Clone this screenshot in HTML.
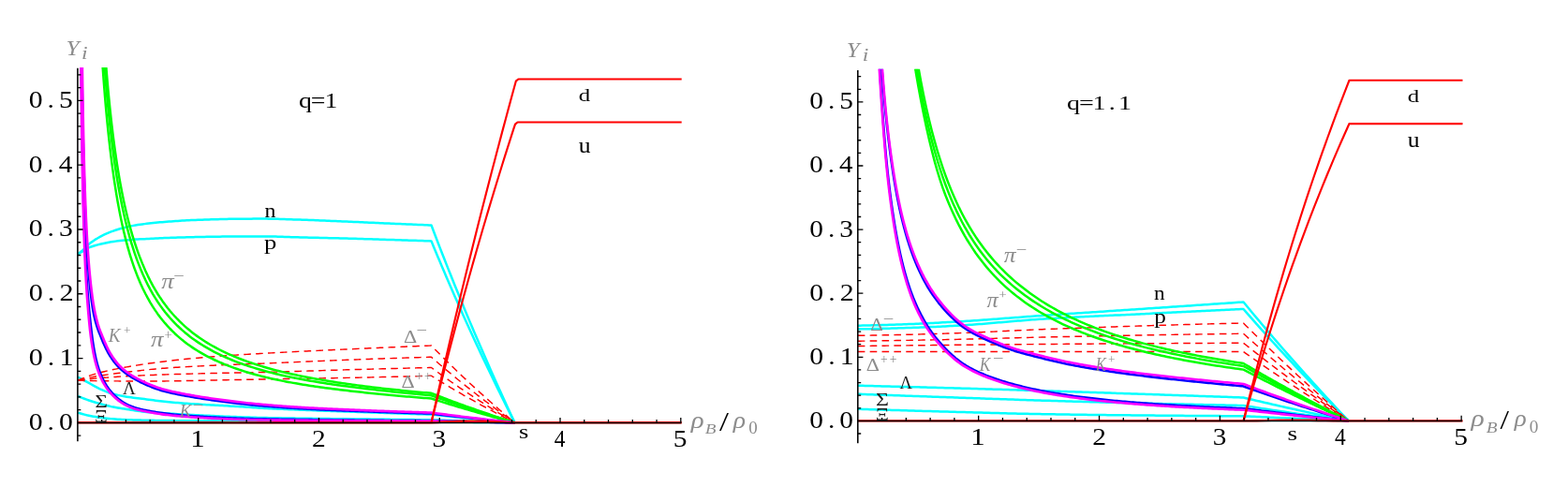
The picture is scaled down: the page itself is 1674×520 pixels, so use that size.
<!DOCTYPE html>
<html><head><meta charset="utf-8"><title>Particle fractions</title>
<style>
html,body{margin:0;padding:0;background:#fff;}
body{width:1674px;height:520px;overflow:hidden;}
svg{display:block;}
</style></head><body>
<svg width="1674" height="520" viewBox="0 0 1674 520">
<rect width="1674" height="520" fill="#fff"/>
<defs><clipPath id="cp0"><rect x="82.4" y="72.1" width="645.3" height="399.2"/></clipPath></defs>
<g clip-path="url(#cp0)" fill="none" stroke-linejoin="round" stroke-linecap="butt">
<path d="M83 271.25 L85.37 269.61 L87.75 267.75 L90.12 265.59 L92.5 263.03 L94.87 260.71 L97.25 258.86 L99.62 257.18 L101.99 255.65 L104.37 254.23 L106.74 252.91 L109.12 251.66 L111.49 250.49 L113.86 249.39 L116.24 248.36 L118.61 247.42 L120.99 246.55 L123.36 245.74 L125.74 244.99 L128.11 244.28 L130.48 243.62 L132.86 243.01 L135.23 242.42 L137.61 241.87 L139.98 241.35 L142.36 240.87 L144.73 240.44 L147.1 240.07 L149.48 239.73 L151.85 239.42 L154.23 239.13 L156.6 238.85 L158.97 238.58 L161.35 238.32 L163.72 238.06 L166.1 237.82 L168.47 237.58 L170.85 237.36 L173.22 237.15 L175.59 236.95 L177.97 236.76 L180.34 236.57 L182.72 236.39 L185.09 236.21 L187.47 236.05 L189.84 235.88 L192.21 235.73 L194.59 235.59 L196.96 235.45 L199.34 235.33 L201.71 235.22 L204.08 235.11 L206.46 235.01 L208.83 234.92 L211.21 234.82 L213.58 234.74 L215.96 234.65 L218.33 234.57 L220.7 234.5 L223.08 234.43 L225.45 234.36 L227.83 234.29 L230.2 234.23 L232.58 234.16 L234.95 234.09 L237.32 234.03 L239.7 233.97 L242.07 233.91 L244.45 233.86 L246.82 233.81 L249.19 233.77 L251.57 233.73 L253.94 233.71 L256.32 233.69 L258.69 233.68 L261.07 233.66 L263.44 233.65 L265.81 233.64 L268.19 233.63 L270.56 233.62 L272.94 233.61 L275.31 233.6 L277.69 233.6 L280.06 233.6 L282.43 233.61 L284.81 233.62 L287.18 233.65 L289.56 233.69 L291.93 233.74 L294.31 233.79 L296.68 233.85 L299.05 233.92 L301.43 233.99 L303.8 234.07 L306.18 234.14 L308.55 234.22 L310.92 234.3 L313.3 234.38 L315.67 234.46 L318.05 234.54 L320.42 234.61 L322.8 234.69 L325.17 234.77 L327.54 234.85 L329.92 234.93 L332.29 235.02 L334.67 235.11 L337.04 235.2 L339.42 235.3 L341.79 235.4 L344.16 235.49 L346.54 235.59 L348.91 235.69 L351.29 235.8 L353.66 235.9 L356.03 236 L358.41 236.1 L360.78 236.21 L363.16 236.31 L365.53 236.41 L367.91 236.51 L370.28 236.61 L372.65 236.71 L375.03 236.81 L377.4 236.92 L379.78 237.02 L382.15 237.12 L384.53 237.23 L386.9 237.33 L389.27 237.44 L391.65 237.54 L394.02 237.65 L396.4 237.76 L398.77 237.86 L401.14 237.97 L403.52 238.08 L405.89 238.18 L408.27 238.29 L410.64 238.39 L413.02 238.5 L415.39 238.6 L417.76 238.7 L420.14 238.81 L422.51 238.91 L424.89 239.01 L427.26 239.11 L429.64 239.21 L432.01 239.31 L434.38 239.41 L436.76 239.51 L439.13 239.61 L441.51 239.71 L443.88 239.81 L446.25 239.91 L448.63 240.01 L451 240.11 L453.38 240.21 L455.75 240.3 L458.13 240.4 L460.5 240.5 L462.76 246.52 L465.05 252.5 L467.33 258.45 L469.61 264.35 L471.89 270.22 L474.17 276.05 L476.45 281.85 L478.74 287.6 L481.02 293.33 L483.3 299.02 L485.58 304.67 L487.86 310.3 L490.15 315.88 L492.43 321.44 L494.71 326.97 L496.99 332.46 L499.27 337.93 L501.55 343.36 L503.84 348.76 L506.12 354.14 L508.4 359.49 L510.68 364.8 L512.96 370.09 L515.24 375.36 L517.53 380.59 L519.81 385.8 L522.09 390.99 L524.37 396.15 L526.65 401.28 L528.93 406.39 L531.22 411.47 L533.5 416.53 L535.78 421.57 L538.06 426.58 L540.34 431.57 L542.62 436.53 L544.91 441.48 L547.19 446.4 L549.47 451.3" stroke="#00ffff" stroke-width="2.5"/>
<path d="M83 271.25 L85.37 269.98 L87.75 268.67 L90.12 267.27 L92.5 265.74 L94.87 264.45 L97.25 263.53 L99.62 262.72 L101.99 262.01 L104.37 261.38 L106.74 260.78 L109.12 260.22 L111.49 259.68 L113.86 259.18 L116.24 258.73 L118.61 258.32 L120.99 257.95 L123.36 257.63 L125.74 257.33 L128.11 257.05 L130.48 256.8 L132.86 256.57 L135.23 256.35 L137.61 256.14 L139.98 255.95 L142.36 255.77 L144.73 255.62 L147.1 255.48 L149.48 255.36 L151.85 255.26 L154.23 255.15 L156.6 255.04 L158.97 254.93 L161.35 254.8 L163.72 254.67 L166.1 254.54 L168.47 254.41 L170.85 254.29 L173.22 254.18 L175.59 254.08 L177.97 253.98 L180.34 253.9 L182.72 253.81 L185.09 253.73 L187.47 253.65 L189.84 253.58 L192.21 253.51 L194.59 253.44 L196.96 253.38 L199.34 253.32 L201.71 253.26 L204.08 253.2 L206.46 253.15 L208.83 253.1 L211.21 253.05 L213.58 253 L215.96 252.95 L218.33 252.91 L220.7 252.86 L223.08 252.82 L225.45 252.78 L227.83 252.74 L230.2 252.71 L232.58 252.67 L234.95 252.63 L237.32 252.58 L239.7 252.55 L242.07 252.51 L244.45 252.48 L246.82 252.45 L249.19 252.43 L251.57 252.41 L253.94 252.4 L256.32 252.4 L258.69 252.4 L261.07 252.4 L263.44 252.4 L265.81 252.4 L268.19 252.4 L270.56 252.4 L272.94 252.4 L275.31 252.4 L277.69 252.4 L280.06 252.4 L282.43 252.41 L284.81 252.43 L287.18 252.46 L289.56 252.5 L291.93 252.55 L294.31 252.61 L296.68 252.68 L299.05 252.75 L301.43 252.82 L303.8 252.9 L306.18 252.98 L308.55 253.06 L310.92 253.14 L313.3 253.21 L315.67 253.28 L318.05 253.35 L320.42 253.41 L322.8 253.47 L325.17 253.52 L327.54 253.58 L329.92 253.64 L332.29 253.69 L334.67 253.75 L337.04 253.8 L339.42 253.86 L341.79 253.91 L344.16 253.97 L346.54 254.02 L348.91 254.08 L351.29 254.13 L353.66 254.19 L356.03 254.25 L358.41 254.3 L360.78 254.36 L363.16 254.42 L365.53 254.48 L367.91 254.54 L370.28 254.61 L372.65 254.67 L375.03 254.74 L377.4 254.8 L379.78 254.87 L382.15 254.94 L384.53 255.01 L386.9 255.08 L389.27 255.15 L391.65 255.22 L394.02 255.29 L396.4 255.37 L398.77 255.44 L401.14 255.51 L403.52 255.59 L405.89 255.66 L408.27 255.73 L410.64 255.81 L413.02 255.88 L415.39 255.96 L417.76 256.03 L420.14 256.1 L422.51 256.18 L424.89 256.25 L427.26 256.33 L429.64 256.4 L432.01 256.48 L434.38 256.55 L436.76 256.63 L439.13 256.7 L441.51 256.78 L443.88 256.86 L446.25 256.93 L448.63 257.01 L451 257.09 L453.38 257.17 L455.75 257.24 L458.13 257.32 L460.5 257.4 L462.76 262.94 L465.05 268.44 L467.33 273.91 L469.61 279.34 L471.89 284.74 L474.17 290.1 L476.45 295.43 L478.74 300.73 L481.02 305.99 L483.3 311.23 L485.58 316.43 L487.86 321.6 L490.15 326.74 L492.43 331.85 L494.71 336.94 L496.99 341.99 L499.27 347.02 L501.55 352.01 L503.84 356.98 L506.12 361.93 L508.4 366.85 L510.68 371.74 L512.96 376.6 L515.24 381.45 L517.53 386.26 L519.81 391.05 L522.09 395.82 L524.37 400.57 L526.65 405.29 L528.93 409.99 L531.22 414.66 L533.5 419.32 L535.78 423.95 L538.06 428.56 L540.34 433.15 L542.62 437.72 L544.91 442.26 L547.19 446.79 L549.47 451.3" stroke="#00ffff" stroke-width="2.5"/>
<path d="M83 402.5 L85.37 403.79 L87.75 405.08 L90.12 406.37 L92.5 407.65 L94.87 408.93 L97.25 410.24 L99.62 411.58 L101.99 412.91 L104.37 414.19 L106.74 415.36 L109.12 416.41 L111.49 417.41 L113.86 418.35 L116.24 419.21 L118.61 419.99 L120.99 420.67 L123.36 421.29 L125.74 421.85 L128.11 422.36 L130.48 422.83 L132.86 423.26 L135.23 423.65 L137.61 424.01 L139.98 424.34 L142.36 424.65 L144.73 424.96 L147.1 425.27 L149.48 425.55 L151.85 425.83 L154.23 426.1 L156.6 426.39 L158.97 426.69 L161.35 427.01 L163.72 427.35 L166.1 427.68 L168.47 428.01 L170.85 428.32 L173.22 428.61 L175.59 428.86 L177.97 429.09 L180.34 429.31 L182.72 429.52 L185.09 429.73 L187.47 429.92 L189.84 430.11 L192.21 430.29 L194.59 430.47 L196.96 430.64 L199.34 430.81 L201.71 430.97 L204.08 431.13 L206.46 431.29 L208.83 431.44 L211.21 431.6 L213.58 431.75 L215.96 431.89 L218.33 432.03 L220.7 432.17 L223.08 432.3 L225.45 432.43 L227.83 432.56 L230.2 432.69 L232.58 432.82 L234.95 432.95 L237.32 433.09 L239.7 433.23 L242.07 433.37 L244.45 433.51 L246.82 433.64 L249.19 433.78 L251.57 433.93 L253.94 434.07 L256.32 434.21 L258.69 434.36 L261.07 434.51 L263.44 434.66 L265.81 434.83 L268.19 435 L270.56 435.17 L272.94 435.35 L275.31 435.51 L277.69 435.67 L280.06 435.8 L282.43 435.93 L284.81 436.05 L287.18 436.18 L289.56 436.29 L291.93 436.41 L294.31 436.53 L296.68 436.64 L299.05 436.75 L301.43 436.86 L303.8 436.96 L306.18 437.07 L308.55 437.17 L310.92 437.27 L313.3 437.37 L315.67 437.47 L318.05 437.56 L320.42 437.66 L322.8 437.75 L325.17 437.85 L327.54 437.94 L329.92 438.03 L332.29 438.12 L334.67 438.2 L337.04 438.29 L339.42 438.38 L341.79 438.46 L344.16 438.55 L346.54 438.63 L348.91 438.72 L351.29 438.8 L353.66 438.89 L356.03 438.97 L358.41 439.05 L360.78 439.14 L363.16 439.22 L365.53 439.3 L367.91 439.39 L370.28 439.47 L372.65 439.55 L375.03 439.64 L377.4 439.72 L379.78 439.81 L382.15 439.9 L384.53 439.98 L386.9 440.07 L389.27 440.16 L391.65 440.24 L394.02 440.33 L396.4 440.42 L398.77 440.5 L401.14 440.59 L403.52 440.67 L405.89 440.76 L408.27 440.84 L410.64 440.92 L413.02 441.01 L415.39 441.09 L417.76 441.17 L420.14 441.25 L422.51 441.34 L424.89 441.42 L427.26 441.5 L429.64 441.58 L432.01 441.66 L434.38 441.74 L436.76 441.82 L439.13 441.9 L441.51 441.98 L443.88 442.06 L446.25 442.14 L448.63 442.21 L451 442.29 L453.38 442.37 L455.75 442.45 L458.13 442.52 L460.5 442.6 L462.76 442.85 L465.05 443.1 L467.33 443.34 L469.61 443.58 L471.89 443.83 L474.17 444.07 L476.45 444.31 L478.74 444.54 L481.02 444.78 L483.3 445.02 L485.58 445.25 L487.86 445.48 L490.15 445.71 L492.43 445.94 L494.71 446.17 L496.99 446.4 L499.27 446.62 L501.55 446.85 L503.84 447.07 L506.12 447.29 L508.4 447.51 L510.68 447.73 L512.96 447.95 L515.24 448.17 L517.53 448.38 L519.81 448.6 L522.09 448.81 L524.37 449.02 L526.65 449.24 L528.93 449.45 L531.22 449.66 L533.5 449.86 L535.78 450.07 L538.06 450.28 L540.34 450.49 L542.62 450.69 L544.91 450.89 L547.19 451.1 L549.47 451.3" stroke="#00ffff" stroke-width="2.5"/>
<path d="M83 423 L85.37 423.96 L87.75 424.89 L90.12 425.79 L92.5 426.64 L94.87 427.46 L97.25 428.23 L99.62 428.98 L101.99 429.69 L104.37 430.38 L106.74 431.04 L109.12 431.69 L111.49 432.34 L113.86 432.97 L116.24 433.56 L118.61 434.11 L120.99 434.59 L123.36 435.03 L125.74 435.43 L128.11 435.8 L130.48 436.18 L132.86 436.56 L135.23 436.95 L137.61 437.35 L139.98 437.74 L142.36 438.12 L144.73 438.46 L147.1 438.79 L149.48 439.1 L151.85 439.4 L154.23 439.67 L156.6 439.92 L158.97 440.13 L161.35 440.31 L163.72 440.49 L166.1 440.64 L168.47 440.8 L170.85 440.94 L173.22 441.09 L175.59 441.24 L177.97 441.39 L180.34 441.54 L182.72 441.69 L185.09 441.84 L187.47 441.99 L189.84 442.13 L192.21 442.27 L194.59 442.42 L196.96 442.55 L199.34 442.69 L201.71 442.82 L204.08 442.95 L206.46 443.07 L208.83 443.19 L211.21 443.31 L213.58 443.42 L215.96 443.54 L218.33 443.65 L220.7 443.76 L223.08 443.87 L225.45 443.99 L227.83 444.1 L230.2 444.21 L232.58 444.31 L234.95 444.42 L237.32 444.53 L239.7 444.63 L242.07 444.73 L244.45 444.83 L246.82 444.93 L249.19 445.03 L251.57 445.12 L253.94 445.21 L256.32 445.3 L258.69 445.38 L261.07 445.47 L263.44 445.55 L265.81 445.62 L268.19 445.69 L270.56 445.76 L272.94 445.83 L275.31 445.89 L277.69 445.95 L280.06 446 L282.43 446.05 L284.81 446.1 L287.18 446.15 L289.56 446.2 L291.93 446.24 L294.31 446.29 L296.68 446.33 L299.05 446.37 L301.43 446.41 L303.8 446.45 L306.18 446.49 L308.55 446.53 L310.92 446.57 L313.3 446.61 L315.67 446.64 L318.05 446.68 L320.42 446.71 L322.8 446.74 L325.17 446.78 L327.54 446.81 L329.92 446.84 L332.29 446.87 L334.67 446.9 L337.04 446.93 L339.42 446.96 L341.79 446.99 L344.16 447.02 L346.54 447.05 L348.91 447.08 L351.29 447.11 L353.66 447.13 L356.03 447.16 L358.41 447.19 L360.78 447.22 L363.16 447.24 L365.53 447.27 L367.91 447.3 L370.28 447.33 L372.65 447.35 L375.03 447.38 L377.4 447.41 L379.78 447.44 L382.15 447.47 L384.53 447.49 L386.9 447.52 L389.27 447.55 L391.65 447.58 L394.02 447.61 L396.4 447.64 L398.77 447.66 L401.14 447.69 L403.52 447.72 L405.89 447.74 L408.27 447.77 L410.64 447.8 L413.02 447.82 L415.39 447.85 L417.76 447.88 L420.14 447.9 L422.51 447.93 L424.89 447.95 L427.26 447.98 L429.64 448 L432.01 448.03 L434.38 448.05 L436.76 448.07 L439.13 448.1 L441.51 448.12 L443.88 448.14 L446.25 448.17 L448.63 448.19 L451 448.21 L453.38 448.23 L455.75 448.26 L458.13 448.28 L460.5 448.3 L462.76 448.39 L465.05 448.47 L467.33 448.56 L469.61 448.64 L471.89 448.72 L474.17 448.81 L476.45 448.89 L478.74 448.97 L481.02 449.05 L483.3 449.13 L485.58 449.21 L487.86 449.29 L490.15 449.37 L492.43 449.45 L494.71 449.53 L496.99 449.61 L499.27 449.69 L501.55 449.76 L503.84 449.84 L506.12 449.92 L508.4 449.99 L510.68 450.07 L512.96 450.14 L515.24 450.22 L517.53 450.29 L519.81 450.37 L522.09 450.44 L524.37 450.52 L526.65 450.59 L528.93 450.66 L531.22 450.73 L533.5 450.81 L535.78 450.88 L538.06 450.95 L540.34 451.02 L542.62 451.09 L544.91 451.16 L547.19 451.23 L549.47 451.3" stroke="#00ffff" stroke-width="2.5"/>
<path d="M83 440.6 L85.37 441.31 L87.75 441.99 L90.12 442.62 L92.5 443.2 L94.87 443.72 L97.25 444.2 L99.62 444.65 L101.99 445.07 L104.37 445.45 L106.74 445.8 L109.12 446.11 L111.49 446.4 L113.86 446.66 L116.24 446.91 L118.61 447.13 L120.99 447.33 L123.36 447.52 L125.74 447.7 L128.11 447.86 L130.48 448 L132.86 448.12 L135.23 448.21 L137.61 448.3 L139.98 448.37 L142.36 448.44 L144.73 448.49 L147.1 448.55 L149.48 448.6 L151.85 448.65 L154.23 448.69 L156.6 448.74 L158.97 448.78 L161.35 448.82 L163.72 448.85 L166.1 448.89 L168.47 448.92 L170.85 448.95 L173.22 448.98 L175.59 449.01 L177.97 449.03 L180.34 449.06 L182.72 449.08 L185.09 449.11 L187.47 449.13 L189.84 449.16 L192.21 449.18 L194.59 449.2 L196.96 449.23 L199.34 449.25 L201.71 449.27 L204.08 449.29 L206.46 449.31 L208.83 449.33 L211.21 449.36 L213.58 449.38 L215.96 449.39 L218.33 449.41 L220.7 449.43 L223.08 449.45 L225.45 449.47 L227.83 449.49 L230.2 449.5 L232.58 449.52 L234.95 449.54 L237.32 449.55 L239.7 449.57 L242.07 449.59 L244.45 449.6 L246.82 449.62 L249.19 449.63 L251.57 449.65 L253.94 449.66 L256.32 449.67 L258.69 449.69 L261.07 449.7 L263.44 449.71 L265.81 449.73 L268.19 449.74 L270.56 449.75 L272.94 449.77 L275.31 449.78 L277.69 449.79 L280.06 449.8 L282.43 449.81 L284.81 449.82 L287.18 449.83 L289.56 449.85 L291.93 449.86 L294.31 449.87 L296.68 449.88 L299.05 449.89 L301.43 449.9 L303.8 449.91 L306.18 449.92 L308.55 449.93 L310.92 449.95 L313.3 449.96 L315.67 449.97 L318.05 449.98 L320.42 449.99 L322.8 450 L325.17 450.01 L327.54 450.02 L329.92 450.03 L332.29 450.04 L334.67 450.05 L337.04 450.06 L339.42 450.07 L341.79 450.08 L344.16 450.09 L346.54 450.1 L348.91 450.11 L351.29 450.12 L353.66 450.13 L356.03 450.14 L358.41 450.15 L360.78 450.16 L363.16 450.17 L365.53 450.18 L367.91 450.19 L370.28 450.19 L372.65 450.2 L375.03 450.21 L377.4 450.22 L379.78 450.23 L382.15 450.24 L384.53 450.24 L386.9 450.25 L389.27 450.26 L391.65 450.27 L394.02 450.27 L396.4 450.28 L398.77 450.29 L401.14 450.29 L403.52 450.3 L405.89 450.31 L408.27 450.31 L410.64 450.32 L413.02 450.33 L415.39 450.33 L417.76 450.34 L420.14 450.34 L422.51 450.35 L424.89 450.35 L427.26 450.36 L429.64 450.36 L432.01 450.37 L434.38 450.37 L436.76 450.37 L439.13 450.38 L441.51 450.38 L443.88 450.38 L446.25 450.39 L448.63 450.39 L451 450.39 L453.38 450.39 L455.75 450.4 L458.13 450.4 L460.5 450.4 L462.76 450.43 L465.05 450.45 L467.33 450.48 L469.61 450.5 L471.89 450.53 L474.17 450.55 L476.45 450.58 L478.74 450.6 L481.02 450.63 L483.3 450.65 L485.58 450.67 L487.86 450.7 L490.15 450.72 L492.43 450.75 L494.71 450.77 L496.99 450.79 L499.27 450.82 L501.55 450.84 L503.84 450.86 L506.12 450.89 L508.4 450.91 L510.68 450.93 L512.96 450.95 L515.24 450.98 L517.53 451 L519.81 451.02 L522.09 451.04 L524.37 451.06 L526.65 451.09 L528.93 451.11 L531.22 451.13 L533.5 451.15 L535.78 451.17 L538.06 451.19 L540.34 451.22 L542.62 451.24 L544.91 451.26 L547.19 451.28 L549.47 451.3" stroke="#00ffff" stroke-width="2.5"/>
<path d="M83 406.25 L85.37 405.22 L87.75 404.22 L90.12 403.25 L92.5 402.33 L94.87 401.45 L97.25 400.65 L99.62 399.92 L101.99 399.23 L104.37 398.56 L106.74 397.93 L109.12 397.31 L111.49 396.73 L113.86 396.16 L116.24 395.61 L118.61 395.09 L120.99 394.58 L123.36 394.09 L125.74 393.62 L128.11 393.16 L130.48 392.71 L132.86 392.27 L135.23 391.85 L137.61 391.43 L139.98 391.03 L142.36 390.63 L144.73 390.24 L147.1 389.86 L149.48 389.49 L151.85 389.13 L154.23 388.77 L156.6 388.43 L158.97 388.09 L161.35 387.76 L163.72 387.44 L166.1 387.12 L168.47 386.81 L170.85 386.51 L173.22 386.22 L175.59 385.93 L177.97 385.65 L180.34 385.37 L182.72 385.09 L185.09 384.82 L187.47 384.56 L189.84 384.3 L192.21 384.04 L194.59 383.79 L196.96 383.55 L199.34 383.31 L201.71 383.07 L204.08 382.84 L206.46 382.61 L208.83 382.39 L211.21 382.17 L213.58 381.96 L215.96 381.75 L218.33 381.55 L220.7 381.35 L223.08 381.15 L225.45 380.96 L227.83 380.78 L230.2 380.6 L232.58 380.42 L234.95 380.24 L237.32 380.07 L239.7 379.9 L242.07 379.74 L244.45 379.58 L246.82 379.42 L249.19 379.26 L251.57 379.11 L253.94 378.95 L256.32 378.8 L258.69 378.66 L261.07 378.51 L263.44 378.37 L265.81 378.22 L268.19 378.08 L270.56 377.94 L272.94 377.81 L275.31 377.67 L277.69 377.53 L280.06 377.4 L282.43 377.26 L284.81 377.13 L287.18 377 L289.56 376.87 L291.93 376.74 L294.31 376.61 L296.68 376.48 L299.05 376.36 L301.43 376.23 L303.8 376.11 L306.18 375.98 L308.55 375.86 L310.92 375.74 L313.3 375.62 L315.67 375.5 L318.05 375.38 L320.42 375.26 L322.8 375.15 L325.17 375.03 L327.54 374.92 L329.92 374.8 L332.29 374.69 L334.67 374.57 L337.04 374.46 L339.42 374.35 L341.79 374.24 L344.16 374.13 L346.54 374.01 L348.91 373.9 L351.29 373.79 L353.66 373.68 L356.03 373.57 L358.41 373.46 L360.78 373.36 L363.16 373.25 L365.53 373.14 L367.91 373.03 L370.28 372.92 L372.65 372.81 L375.03 372.7 L377.4 372.6 L379.78 372.49 L382.15 372.38 L384.53 372.27 L386.9 372.16 L389.27 372.06 L391.65 371.95 L394.02 371.84 L396.4 371.73 L398.77 371.63 L401.14 371.52 L403.52 371.42 L405.89 371.31 L408.27 371.21 L410.64 371.1 L413.02 371 L415.39 370.89 L417.76 370.79 L420.14 370.69 L422.51 370.59 L424.89 370.48 L427.26 370.38 L429.64 370.28 L432.01 370.18 L434.38 370.08 L436.76 369.98 L439.13 369.88 L441.51 369.78 L443.88 369.68 L446.25 369.58 L448.63 369.49 L451 369.39 L453.38 369.29 L455.75 369.19 L458.13 369.1 L460.5 369 L462.76 371.35 L465.05 373.69 L467.33 376.01 L469.61 378.31 L471.89 380.6 L474.17 382.88 L476.45 385.14 L478.74 387.39 L481.02 389.63 L483.3 391.85 L485.58 394.05 L487.86 396.25 L490.15 398.43 L492.43 400.6 L494.71 402.76 L496.99 404.9 L499.27 407.04 L501.55 409.16 L503.84 411.27 L506.12 413.37 L508.4 415.45 L510.68 417.53 L512.96 419.6 L515.24 421.65 L517.53 423.7 L519.81 425.73 L522.09 427.75 L524.37 429.77 L526.65 431.77 L528.93 433.77 L531.22 435.75 L533.5 437.73 L535.78 439.69 L538.06 441.65 L540.34 443.6 L542.62 445.53 L544.91 447.47 L547.19 449.39 L549.47 451.3" stroke="#ff0000" stroke-width="1.45" stroke-dasharray="7.6 5.27"/>
<path d="M83 406.25 L85.37 405.63 L87.75 405.02 L90.12 404.43 L92.5 403.86 L94.87 403.33 L97.25 402.84 L99.62 402.39 L101.99 401.97 L104.37 401.56 L106.74 401.18 L109.12 400.81 L111.49 400.45 L113.86 400.11 L116.24 399.78 L118.61 399.45 L120.99 399.14 L123.36 398.83 L125.74 398.53 L128.11 398.24 L130.48 397.94 L132.86 397.65 L135.23 397.35 L137.61 397.06 L139.98 396.78 L142.36 396.49 L144.73 396.21 L147.1 395.94 L149.48 395.66 L151.85 395.4 L154.23 395.14 L156.6 394.88 L158.97 394.64 L161.35 394.4 L163.72 394.17 L166.1 393.95 L168.47 393.73 L170.85 393.53 L173.22 393.34 L175.59 393.16 L177.97 392.98 L180.34 392.81 L182.72 392.65 L185.09 392.48 L187.47 392.33 L189.84 392.18 L192.21 392.03 L194.59 391.89 L196.96 391.75 L199.34 391.61 L201.71 391.48 L204.08 391.35 L206.46 391.22 L208.83 391.1 L211.21 390.98 L213.58 390.86 L215.96 390.74 L218.33 390.62 L220.7 390.51 L223.08 390.39 L225.45 390.28 L227.83 390.17 L230.2 390.06 L232.58 389.96 L234.95 389.85 L237.32 389.75 L239.7 389.65 L242.07 389.56 L244.45 389.46 L246.82 389.37 L249.19 389.28 L251.57 389.19 L253.94 389.1 L256.32 389.01 L258.69 388.92 L261.07 388.83 L263.44 388.74 L265.81 388.65 L268.19 388.56 L270.56 388.47 L272.94 388.38 L275.31 388.29 L277.69 388.19 L280.06 388.1 L282.43 388 L284.81 387.9 L287.18 387.81 L289.56 387.71 L291.93 387.61 L294.31 387.51 L296.68 387.41 L299.05 387.31 L301.43 387.21 L303.8 387.11 L306.18 387 L308.55 386.9 L310.92 386.8 L313.3 386.7 L315.67 386.6 L318.05 386.49 L320.42 386.39 L322.8 386.29 L325.17 386.19 L327.54 386.08 L329.92 385.98 L332.29 385.88 L334.67 385.78 L337.04 385.68 L339.42 385.58 L341.79 385.48 L344.16 385.38 L346.54 385.28 L348.91 385.18 L351.29 385.08 L353.66 384.98 L356.03 384.88 L358.41 384.78 L360.78 384.69 L363.16 384.59 L365.53 384.5 L367.91 384.4 L370.28 384.31 L372.65 384.22 L375.03 384.12 L377.4 384.03 L379.78 383.94 L382.15 383.86 L384.53 383.77 L386.9 383.68 L389.27 383.59 L391.65 383.51 L394.02 383.42 L396.4 383.34 L398.77 383.25 L401.14 383.17 L403.52 383.09 L405.89 383.01 L408.27 382.92 L410.64 382.84 L413.02 382.76 L415.39 382.68 L417.76 382.6 L420.14 382.52 L422.51 382.44 L424.89 382.36 L427.26 382.29 L429.64 382.21 L432.01 382.13 L434.38 382.06 L436.76 381.98 L439.13 381.9 L441.51 381.83 L443.88 381.76 L446.25 381.68 L448.63 381.61 L451 381.54 L453.38 381.46 L455.75 381.39 L458.13 381.32 L460.5 381.25 L462.76 383.25 L465.05 385.24 L467.33 387.21 L469.61 389.18 L471.89 391.13 L474.17 393.06 L476.45 394.99 L478.74 396.9 L481.02 398.81 L483.3 400.7 L485.58 402.58 L487.86 404.44 L490.15 406.3 L492.43 408.15 L494.71 409.98 L496.99 411.81 L499.27 413.63 L501.55 415.43 L503.84 417.23 L506.12 419.01 L508.4 420.79 L510.68 422.56 L512.96 424.31 L515.24 426.06 L517.53 427.8 L519.81 429.54 L522.09 431.26 L524.37 432.97 L526.65 434.68 L528.93 436.38 L531.22 438.06 L533.5 439.75 L535.78 441.42 L538.06 443.08 L540.34 444.74 L542.62 446.39 L544.91 448.04 L547.19 449.67 L549.47 451.3" stroke="#ff0000" stroke-width="1.45" stroke-dasharray="7.6 5.27"/>
<path d="M83 406.25 L85.37 405.95 L87.75 405.65 L90.12 405.36 L92.5 405.08 L94.87 404.82 L97.25 404.57 L99.62 404.34 L101.99 404.12 L104.37 403.91 L106.74 403.7 L109.12 403.49 L111.49 403.3 L113.86 403.11 L116.24 402.92 L118.61 402.74 L120.99 402.57 L123.36 402.41 L125.74 402.26 L128.11 402.11 L130.48 401.97 L132.86 401.84 L135.23 401.71 L137.61 401.58 L139.98 401.46 L142.36 401.34 L144.73 401.23 L147.1 401.11 L149.48 401.01 L151.85 400.9 L154.23 400.8 L156.6 400.7 L158.97 400.6 L161.35 400.5 L163.72 400.41 L166.1 400.32 L168.47 400.23 L170.85 400.15 L173.22 400.06 L175.59 399.98 L177.97 399.9 L180.34 399.82 L182.72 399.74 L185.09 399.67 L187.47 399.59 L189.84 399.52 L192.21 399.45 L194.59 399.38 L196.96 399.32 L199.34 399.25 L201.71 399.18 L204.08 399.12 L206.46 399.06 L208.83 399 L211.21 398.93 L213.58 398.88 L215.96 398.82 L218.33 398.76 L220.7 398.7 L223.08 398.65 L225.45 398.59 L227.83 398.54 L230.2 398.48 L232.58 398.43 L234.95 398.38 L237.32 398.34 L239.7 398.29 L242.07 398.24 L244.45 398.2 L246.82 398.15 L249.19 398.11 L251.57 398.07 L253.94 398.02 L256.32 397.98 L258.69 397.94 L261.07 397.89 L263.44 397.85 L265.81 397.8 L268.19 397.75 L270.56 397.71 L272.94 397.66 L275.31 397.61 L277.69 397.55 L280.06 397.5 L282.43 397.44 L284.81 397.38 L287.18 397.33 L289.56 397.26 L291.93 397.2 L294.31 397.14 L296.68 397.07 L299.05 397.01 L301.43 396.94 L303.8 396.87 L306.18 396.81 L308.55 396.74 L310.92 396.67 L313.3 396.59 L315.67 396.52 L318.05 396.45 L320.42 396.38 L322.8 396.3 L325.17 396.23 L327.54 396.15 L329.92 396.08 L332.29 396 L334.67 395.93 L337.04 395.85 L339.42 395.78 L341.79 395.7 L344.16 395.63 L346.54 395.55 L348.91 395.48 L351.29 395.4 L353.66 395.33 L356.03 395.25 L358.41 395.18 L360.78 395.11 L363.16 395.03 L365.53 394.96 L367.91 394.89 L370.28 394.82 L372.65 394.75 L375.03 394.68 L377.4 394.61 L379.78 394.54 L382.15 394.48 L384.53 394.41 L386.9 394.35 L389.27 394.28 L391.65 394.22 L394.02 394.16 L396.4 394.1 L398.77 394.03 L401.14 393.97 L403.52 393.91 L405.89 393.85 L408.27 393.78 L410.64 393.72 L413.02 393.66 L415.39 393.6 L417.76 393.54 L420.14 393.48 L422.51 393.42 L424.89 393.36 L427.26 393.3 L429.64 393.24 L432.01 393.18 L434.38 393.13 L436.76 393.07 L439.13 393.01 L441.51 392.95 L443.88 392.89 L446.25 392.84 L448.63 392.78 L451 392.72 L453.38 392.67 L455.75 392.61 L458.13 392.56 L460.5 392.5 L462.76 394.18 L465.05 395.85 L467.33 397.51 L469.61 399.15 L471.89 400.79 L474.17 402.42 L476.45 404.03 L478.74 405.64 L481.02 407.24 L483.3 408.82 L485.58 410.4 L487.86 411.97 L490.15 413.53 L492.43 415.08 L494.71 416.62 L496.99 418.15 L499.27 419.68 L501.55 421.19 L503.84 422.7 L506.12 424.2 L508.4 425.69 L510.68 427.17 L512.96 428.65 L515.24 430.12 L517.53 431.58 L519.81 433.03 L522.09 434.48 L524.37 435.92 L526.65 437.35 L528.93 438.77 L531.22 440.19 L533.5 441.6 L535.78 443.01 L538.06 444.4 L540.34 445.8 L542.62 447.18 L544.91 448.56 L547.19 449.93 L549.47 451.3" stroke="#ff0000" stroke-width="1.45" stroke-dasharray="7.6 5.27"/>
<path d="M83 406.25 L85.37 406.31 L87.75 406.37 L90.12 406.43 L92.5 406.48 L94.87 406.53 L97.25 406.57 L99.62 406.61 L101.99 406.64 L104.37 406.68 L106.74 406.71 L109.12 406.74 L111.49 406.77 L113.86 406.8 L116.24 406.82 L118.61 406.85 L120.99 406.86 L123.36 406.88 L125.74 406.89 L128.11 406.9 L130.48 406.9 L132.86 406.9 L135.23 406.9 L137.61 406.9 L139.98 406.9 L142.36 406.9 L144.73 406.9 L147.1 406.9 L149.48 406.9 L151.85 406.9 L154.23 406.9 L156.6 406.9 L158.97 406.9 L161.35 406.9 L163.72 406.9 L166.1 406.9 L168.47 406.9 L170.85 406.9 L173.22 406.9 L175.59 406.9 L177.97 406.89 L180.34 406.88 L182.72 406.86 L185.09 406.83 L187.47 406.8 L189.84 406.77 L192.21 406.72 L194.59 406.68 L196.96 406.63 L199.34 406.58 L201.71 406.52 L204.08 406.47 L206.46 406.41 L208.83 406.36 L211.21 406.3 L213.58 406.24 L215.96 406.19 L218.33 406.13 L220.7 406.08 L223.08 406.04 L225.45 405.99 L227.83 405.95 L230.2 405.91 L232.58 405.86 L234.95 405.82 L237.32 405.78 L239.7 405.73 L242.07 405.69 L244.45 405.65 L246.82 405.6 L249.19 405.56 L251.57 405.52 L253.94 405.47 L256.32 405.43 L258.69 405.39 L261.07 405.34 L263.44 405.3 L265.81 405.26 L268.19 405.21 L270.56 405.17 L272.94 405.13 L275.31 405.09 L277.69 405.04 L280.06 405 L282.43 404.96 L284.81 404.91 L287.18 404.87 L289.56 404.83 L291.93 404.79 L294.31 404.75 L296.68 404.7 L299.05 404.66 L301.43 404.62 L303.8 404.58 L306.18 404.54 L308.55 404.5 L310.92 404.46 L313.3 404.42 L315.67 404.38 L318.05 404.34 L320.42 404.3 L322.8 404.25 L325.17 404.21 L327.54 404.17 L329.92 404.13 L332.29 404.09 L334.67 404.05 L337.04 404.01 L339.42 403.97 L341.79 403.92 L344.16 403.88 L346.54 403.84 L348.91 403.8 L351.29 403.75 L353.66 403.71 L356.03 403.67 L358.41 403.62 L360.78 403.58 L363.16 403.53 L365.53 403.49 L367.91 403.44 L370.28 403.4 L372.65 403.35 L375.03 403.3 L377.4 403.26 L379.78 403.21 L382.15 403.16 L384.53 403.11 L386.9 403.06 L389.27 403.01 L391.65 402.96 L394.02 402.91 L396.4 402.85 L398.77 402.8 L401.14 402.75 L403.52 402.69 L405.89 402.64 L408.27 402.58 L410.64 402.53 L413.02 402.47 L415.39 402.41 L417.76 402.36 L420.14 402.3 L422.51 402.24 L424.89 402.18 L427.26 402.12 L429.64 402.06 L432.01 402 L434.38 401.94 L436.76 401.88 L439.13 401.82 L441.51 401.76 L443.88 401.69 L446.25 401.63 L448.63 401.57 L451 401.51 L453.38 401.44 L455.75 401.38 L458.13 401.31 L460.5 401.25 L462.76 402.68 L465.05 404.1 L467.33 405.51 L469.61 406.91 L471.89 408.31 L474.17 409.69 L476.45 411.07 L478.74 412.43 L481.02 413.79 L483.3 415.14 L485.58 416.49 L487.86 417.82 L490.15 419.15 L492.43 420.47 L494.71 421.78 L496.99 423.08 L499.27 424.38 L501.55 425.67 L503.84 426.96 L506.12 428.23 L508.4 429.5 L510.68 430.76 L512.96 432.02 L515.24 433.27 L517.53 434.51 L519.81 435.75 L522.09 436.98 L524.37 438.2 L526.65 439.42 L528.93 440.64 L531.22 441.84 L533.5 443.04 L535.78 444.24 L538.06 445.43 L540.34 446.61 L542.62 447.79 L544.91 448.97 L547.19 450.14 L549.47 451.3" stroke="#ff0000" stroke-width="1.45" stroke-dasharray="7.6 5.27"/>
<path d="M110.17 28.03 L110.55 33.78 L110.93 39.37 L111.31 44.81 L111.69 50.1 L112.06 55.26 L112.44 60.29 L112.82 65.19 L113.2 69.97 L113.58 74.62 L113.96 79.17 L114.34 83.6 L114.72 87.93 L115.09 92.15 L115.47 96.28 L115.85 100.31 L116.23 104.25 L116.61 108.1 L116.99 111.86 L117.37 115.54 L117.75 119.14 L118.13 122.66 L118.5 126.11 L118.88 129.48 L119.26 132.78 L119.64 136.01 L120.02 139.18 L120.4 142.28 L120.78 145.32 L121.16 148.3 L121.53 151.22 L121.91 154.09 L122.29 156.89 L122.67 159.65 L123.05 162.35 L123.43 165 L123.81 167.6 L124.19 170.16 L124.56 172.67 L124.94 175.13 L125.32 177.55 L125.7 179.92 L126.08 182.25 L126.46 184.55 L126.84 186.8 L127.22 189.01 L127.59 191.19 L127.97 193.33 L128.35 195.44 L128.73 197.5 L129.11 199.54 L129.49 201.54 L129.87 203.51 L130.25 205.45 L130.62 207.36 L131 209.24 L131.38 211.09 L131.76 212.91 L132.14 214.7 L132.52 216.47 L132.9 218.21 L133.28 219.92 L133.65 221.61 L134.03 223.27 L134.41 224.91 L134.79 226.52 L135.17 228.11 L135.55 229.68 L135.93 231.23 L136.31 232.75 L136.68 234.25 L137.06 235.74 L137.44 237.2 L137.82 238.64 L138.2 240.07 L138.58 241.47 L138.96 242.86 L139.34 244.22 L139.71 245.57 L140.09 246.9 L140.47 248.22 L140.85 249.52 L141.23 250.8 L141.61 252.06 L141.99 253.31 L142.37 254.54 L142.74 255.76 L143.12 256.97 L143.5 258.16 L143.88 259.33 L144.26 260.49 L144.64 261.64 L145.02 262.77 L145.4 263.89 L145.77 265 L146.15 266.09 L146.53 267.17 L146.91 268.24 L147.29 269.3 L149.92 276.33 L152.55 282.86 L155.19 288.94 L157.82 294.59 L160.45 299.86 L163.08 304.79 L165.71 309.4 L168.34 313.74 L170.98 317.81 L173.61 321.65 L176.24 325.28 L178.87 328.71 L181.5 331.95 L184.14 335.03 L186.77 337.96 L189.4 340.74 L192.03 343.38 L194.66 345.91 L197.3 348.31 L199.93 350.61 L202.56 352.81 L205.19 354.92 L207.82 356.93 L210.45 358.87 L213.09 360.72 L215.72 362.51 L218.35 364.22 L220.98 365.87 L223.61 367.46 L226.25 368.99 L228.88 370.46 L231.51 371.88 L234.14 373.26 L236.77 374.58 L239.41 375.86 L242.04 377.1 L244.67 378.3 L247.3 379.46 L249.93 380.58 L252.56 381.67 L255.2 382.73 L257.83 383.75 L260.46 384.74 L263.09 385.7 L265.72 386.64 L268.36 387.55 L270.99 388.43 L273.62 389.29 L276.25 390.12 L278.88 390.93 L281.52 391.72 L284.15 392.49 L286.78 393.24 L289.41 393.97 L292.04 394.67 L294.67 395.37 L297.31 396.04 L299.94 396.7 L302.57 397.34 L305.2 397.96 L307.83 398.58 L310.47 399.17 L313.1 399.76 L315.73 400.33 L318.36 400.88 L320.99 401.43 L323.63 401.96 L326.26 402.48 L328.89 402.99 L331.52 403.49 L334.15 403.98 L336.78 404.46 L339.42 404.93 L342.05 405.39 L344.68 405.85 L347.31 406.29 L349.94 406.72 L352.58 407.15 L355.21 407.57 L357.84 407.98 L360.47 408.39 L363.1 408.78 L365.74 409.17 L368.37 409.56 L371 409.93 L373.63 410.31 L376.26 410.67 L378.89 411.03 L381.53 411.38 L384.16 411.73 L386.79 412.07 L389.42 412.41 L392.05 412.74 L394.69 413.07 L397.32 413.39 L399.95 413.71 L402.58 414.02 L405.21 414.32 L407.85 414.62 L410.48 414.92 L413.11 415.21 L415.74 415.5 L418.37 415.79 L421 416.07 L423.64 416.34 L426.27 416.61 L428.9 416.88 L431.53 417.14 L434.16 417.4 L436.8 417.66 L439.43 417.91 L442.06 418.16 L444.69 418.41 L447.32 418.65 L449.96 418.89 L452.59 419.13 L455.22 419.36 L457.85 419.6 L460.48 419.82 L462.76 420.72 L465.05 421.62 L467.33 422.5 L469.61 423.39 L471.89 424.26 L474.17 425.13 L476.45 426 L478.74 426.86 L481.02 427.71 L483.3 428.56 L485.58 429.41 L487.86 430.25 L490.15 431.08 L492.43 431.91 L494.71 432.73 L496.99 433.56 L499.27 434.37 L501.55 435.18 L503.84 435.99 L506.12 436.79 L508.4 437.59 L510.68 438.38 L512.96 439.17 L515.24 439.96 L517.53 440.74 L519.81 441.52 L522.09 442.29 L524.37 443.06 L526.65 443.83 L528.93 444.59 L531.22 445.35 L533.5 446.11 L535.78 446.86 L538.06 447.61 L540.34 448.35 L542.62 449.1 L544.91 449.83 L547.19 450.57 L549.47 451.3" stroke="#00ff00" stroke-width="2.5"/>
<path d="M108.66 27.34 L109.03 33.43 L109.41 39.34 L109.79 45.09 L110.17 50.68 L110.55 56.12 L110.93 61.41 L111.31 66.56 L111.69 71.58 L112.06 76.47 L112.44 81.23 L112.82 85.88 L113.2 90.4 L113.58 94.82 L113.96 99.13 L114.34 103.34 L114.72 107.45 L115.09 111.46 L115.47 115.37 L115.85 119.2 L116.23 122.94 L116.61 126.6 L116.99 130.17 L117.37 133.67 L117.75 137.08 L118.13 140.43 L118.5 143.7 L118.88 146.91 L119.26 150.05 L119.64 153.12 L120.02 156.13 L120.4 159.08 L120.78 161.98 L121.16 164.81 L121.53 167.59 L121.91 170.31 L122.29 172.99 L122.67 175.61 L123.05 178.18 L123.43 180.7 L123.81 183.18 L124.19 185.61 L124.56 188 L124.94 190.34 L125.32 192.65 L125.7 194.91 L126.08 197.13 L126.46 199.32 L126.84 201.46 L127.22 203.57 L127.59 205.65 L127.97 207.69 L128.35 209.69 L128.73 211.67 L129.11 213.61 L129.49 215.52 L129.87 217.39 L130.25 219.24 L130.62 221.06 L131 222.85 L131.38 224.62 L131.76 226.35 L132.14 228.06 L132.52 229.75 L132.9 231.4 L133.28 233.04 L133.65 234.65 L134.03 236.23 L134.41 237.8 L134.79 239.34 L135.17 240.85 L135.55 242.35 L135.93 243.82 L136.31 245.28 L136.68 246.71 L137.06 248.13 L137.44 249.52 L137.82 250.9 L138.2 252.26 L138.58 253.59 L138.96 254.92 L139.34 256.22 L139.71 257.51 L140.09 258.78 L140.47 260.03 L140.85 261.27 L141.23 262.49 L141.61 263.7 L141.99 264.89 L142.37 266.06 L142.74 267.22 L143.12 268.37 L143.5 269.5 L143.88 270.62 L144.26 271.73 L144.64 272.82 L145.02 273.9 L145.4 274.97 L145.77 276.02 L146.15 277.06 L146.53 278.09 L146.91 279.11 L147.29 280.12 L149.92 286.81 L152.55 293 L155.19 298.77 L157.82 304.13 L160.45 309.12 L163.08 313.79 L165.71 318.16 L168.34 322.26 L170.98 326.11 L173.61 329.75 L176.24 333.17 L178.87 336.41 L181.5 339.48 L184.14 342.39 L186.77 345.15 L189.4 347.77 L192.03 350.27 L194.66 352.65 L197.3 354.92 L199.93 357.08 L202.56 359.16 L205.19 361.14 L207.82 363.04 L210.45 364.86 L213.09 366.61 L215.72 368.28 L218.35 369.9 L220.98 371.45 L223.61 372.94 L226.25 374.38 L228.88 375.77 L231.51 377.11 L234.14 378.4 L236.77 379.64 L239.41 380.85 L242.04 382.01 L244.67 383.14 L247.3 384.23 L249.93 385.29 L252.56 386.31 L255.2 387.31 L257.83 388.27 L260.46 389.2 L263.09 390.11 L265.72 390.99 L268.36 391.85 L270.99 392.68 L273.62 393.49 L276.25 394.27 L278.88 395.04 L281.52 395.79 L284.15 396.51 L286.78 397.21 L289.41 397.89 L292.04 398.56 L294.67 399.2 L297.31 399.83 L299.94 400.44 L302.57 401.03 L305.2 401.61 L307.83 402.18 L310.47 402.73 L313.1 403.27 L315.73 403.79 L318.36 404.3 L320.99 404.8 L323.63 405.29 L326.26 405.77 L328.89 406.23 L331.52 406.69 L334.15 407.14 L336.78 407.58 L339.42 408.01 L342.05 408.43 L344.68 408.84 L347.31 409.25 L349.94 409.64 L352.58 410.03 L355.21 410.42 L357.84 410.79 L360.47 411.16 L363.1 411.53 L365.74 411.89 L368.37 412.24 L371 412.59 L373.63 412.93 L376.26 413.27 L378.89 413.61 L381.53 413.93 L384.16 414.26 L386.79 414.58 L389.42 414.9 L392.05 415.21 L394.69 415.52 L397.32 415.83 L399.95 416.13 L402.58 416.43 L405.21 416.73 L407.85 417.02 L410.48 417.31 L413.11 417.6 L415.74 417.88 L418.37 418.16 L421 418.44 L423.64 418.71 L426.27 418.98 L428.9 419.25 L431.53 419.51 L434.16 419.77 L436.8 420.03 L439.43 420.29 L442.06 420.54 L444.69 420.79 L447.32 421.03 L449.96 421.27 L452.59 421.51 L455.22 421.75 L457.85 421.98 L460.48 422.22 L462.76 423.05 L465.05 423.87 L467.33 424.69 L469.61 425.51 L471.89 426.32 L474.17 427.12 L476.45 427.92 L478.74 428.71 L481.02 429.5 L483.3 430.29 L485.58 431.07 L487.86 431.85 L490.15 432.62 L492.43 433.38 L494.71 434.15 L496.99 434.9 L499.27 435.66 L501.55 436.41 L503.84 437.15 L506.12 437.89 L508.4 438.63 L510.68 439.37 L512.96 440.1 L515.24 440.82 L517.53 441.54 L519.81 442.26 L522.09 442.98 L524.37 443.69 L526.65 444.4 L528.93 445.1 L531.22 445.8 L533.5 446.5 L535.78 447.2 L538.06 447.89 L540.34 448.58 L542.62 449.26 L544.91 449.94 L547.19 450.62 L549.47 451.3" stroke="#00ff00" stroke-width="2.5"/>
<path d="M106.76 25.2 L107.14 31.91 L107.52 38.42 L107.9 44.74 L108.28 50.86 L108.66 56.81 L109.03 62.58 L109.41 68.19 L109.79 73.64 L110.17 78.94 L110.55 84.09 L110.93 89.11 L111.31 93.99 L111.69 98.74 L112.06 103.37 L112.44 107.88 L112.82 112.28 L113.2 116.57 L113.58 120.75 L113.96 124.83 L114.34 128.81 L114.72 132.7 L115.09 136.5 L115.47 140.21 L115.85 143.83 L116.23 147.38 L116.61 150.84 L116.99 154.23 L117.37 157.54 L117.75 160.78 L118.13 163.95 L118.5 167.06 L118.88 170.1 L119.26 173.08 L119.64 175.99 L120.02 178.85 L120.4 181.65 L120.78 184.39 L121.16 187.08 L121.53 189.72 L121.91 192.3 L122.29 194.84 L122.67 197.33 L123.05 199.77 L123.43 202.17 L123.81 204.52 L124.19 206.83 L124.56 209.1 L124.94 211.32 L125.32 213.51 L125.7 215.66 L126.08 217.77 L126.46 219.84 L126.84 221.88 L127.22 223.88 L127.59 225.85 L127.97 227.79 L128.35 229.7 L128.73 231.57 L129.11 233.41 L129.49 235.22 L129.87 237.01 L130.25 238.76 L130.62 240.49 L131 242.19 L131.38 243.86 L131.76 245.51 L132.14 247.13 L132.52 248.73 L132.9 250.3 L133.28 251.85 L133.65 253.37 L134.03 254.88 L134.41 256.36 L134.79 257.82 L135.17 259.25 L135.55 260.67 L135.93 262.07 L136.31 263.44 L136.68 264.8 L137.06 266.14 L137.44 267.46 L137.82 268.76 L138.2 270.04 L138.58 271.31 L138.96 272.55 L139.34 273.78 L139.71 275 L140.09 276.2 L140.47 277.38 L140.85 278.55 L141.23 279.7 L141.61 280.83 L141.99 281.95 L142.37 283.06 L142.74 284.15 L143.12 285.23 L143.5 286.3 L143.88 287.35 L144.26 288.39 L144.64 289.41 L145.02 290.42 L145.4 291.42 L145.77 292.41 L146.15 293.38 L146.53 294.35 L146.91 295.3 L147.29 296.24 L149.92 302.47 L152.55 308.21 L155.19 313.52 L157.82 318.46 L160.45 323.06 L163.08 327.36 L165.71 331.38 L168.34 335.16 L170.98 338.71 L173.61 342.05 L176.24 345.2 L178.87 348.18 L181.5 351 L184.14 353.67 L186.77 356.21 L189.4 358.62 L192.03 360.91 L194.66 363.1 L197.3 365.18 L199.93 367.17 L202.56 369.07 L205.19 370.89 L207.82 372.63 L210.45 374.29 L213.09 375.89 L215.72 377.43 L218.35 378.9 L220.98 380.32 L223.61 381.68 L226.25 382.99 L228.88 384.25 L231.51 385.47 L234.14 386.64 L236.77 387.77 L239.41 388.86 L242.04 389.92 L244.67 390.94 L247.3 391.92 L249.93 392.88 L252.56 393.8 L255.2 394.69 L257.83 395.56 L260.46 396.39 L263.09 397.21 L265.72 397.99 L268.36 398.76 L270.99 399.5 L273.62 400.22 L276.25 400.91 L278.88 401.59 L281.52 402.25 L284.15 402.89 L286.78 403.51 L289.41 404.11 L292.04 404.7 L294.67 405.27 L297.31 405.82 L299.94 406.36 L302.57 406.89 L305.2 407.4 L307.83 407.9 L310.47 408.39 L313.1 408.86 L315.73 409.33 L318.36 409.78 L320.99 410.22 L323.63 410.65 L326.26 411.07 L328.89 411.49 L331.52 411.89 L334.15 412.29 L336.78 412.67 L339.42 413.05 L342.05 413.43 L344.68 413.79 L347.31 414.15 L349.94 414.5 L352.58 414.85 L355.21 415.18 L357.84 415.52 L360.47 415.85 L363.1 416.17 L365.74 416.49 L368.37 416.8 L371 417.11 L373.63 417.41 L376.26 417.71 L378.89 418 L381.53 418.29 L384.16 418.58 L386.79 418.86 L389.42 419.14 L392.05 419.42 L394.69 419.69 L397.32 419.96 L399.95 420.23 L402.58 420.49 L405.21 420.75 L407.85 421 L410.48 421.26 L413.11 421.51 L415.74 421.75 L418.37 422 L421 422.24 L423.64 422.47 L426.27 422.71 L428.9 422.94 L431.53 423.17 L434.16 423.39 L436.8 423.61 L439.43 423.83 L442.06 424.05 L444.69 424.27 L447.32 424.48 L449.96 424.69 L452.59 424.89 L455.22 425.1 L457.85 425.3 L460.48 425.5 L462.76 426.24 L465.05 426.97 L467.33 427.7 L469.61 428.42 L471.89 429.14 L474.17 429.85 L476.45 430.56 L478.74 431.26 L481.02 431.97 L483.3 432.66 L485.58 433.35 L487.86 434.04 L490.15 434.73 L492.43 435.41 L494.71 436.08 L496.99 436.76 L499.27 437.42 L501.55 438.09 L503.84 438.75 L506.12 439.41 L508.4 440.06 L510.68 440.71 L512.96 441.36 L515.24 442.01 L517.53 442.65 L519.81 443.28 L522.09 443.92 L524.37 444.55 L526.65 445.18 L528.93 445.8 L531.22 446.43 L533.5 447.04 L535.78 447.66 L538.06 448.27 L540.34 448.88 L542.62 449.49 L544.91 450.1 L547.19 450.7 L549.47 451.3" stroke="#00ff00" stroke-width="2.5"/>
<path d="M86.39 -25.04 L86.45 -18.44 L86.5 -11.93 L86.56 -5.52 L86.62 0.8 L86.68 7.03 L86.74 13.17 L86.8 19.22 L86.86 25.19 L86.93 31.06 L86.99 36.85 L87.06 42.56 L87.12 48.19 L87.19 53.73 L87.26 59.2 L87.33 64.59 L87.4 69.9 L87.47 75.13 L87.54 80.29 L87.61 85.38 L87.69 90.39 L87.76 95.33 L87.84 100.19 L87.92 104.99 L88 109.71 L88.07 114.37 L88.16 118.95 L88.24 123.47 L88.32 127.92 L88.41 132.31 L88.49 136.63 L88.58 140.89 L88.67 145.09 L88.76 149.22 L88.85 153.3 L88.94 157.31 L89.03 161.26 L89.13 165.16 L89.22 169 L89.32 172.78 L89.42 176.51 L89.52 180.18 L89.62 183.79 L89.72 187.36 L89.83 190.87 L89.94 194.33 L90.04 197.74 L90.15 201.1 L90.25 204.4 L90.35 207.66 L90.46 210.87 L90.56 214.03 L90.67 217.15 L90.78 220.21 L90.89 223.23 L91 226.2 L91.11 229.13 L91.23 232.02 L91.34 234.86 L91.46 237.66 L91.58 240.41 L91.7 243.13 L91.83 245.8 L91.95 248.43 L92.08 251.02 L92.21 253.58 L92.34 256.09 L92.47 258.57 L92.61 261 L92.74 263.39 L92.88 265.75 L93.02 268.06 L93.16 270.33 L93.31 272.57 L93.46 274.77 L93.6 276.95 L93.76 279.09 L93.91 281.2 L94.06 283.28 L94.22 285.34 L94.38 287.37 L94.55 289.39 L94.71 291.38 L94.88 293.36 L95.05 295.31 L95.22 297.25 L95.39 299.16 L95.57 301.06 L95.75 302.93 L95.93 304.78 L96.12 306.6 L96.31 308.4 L96.5 310.18 L96.69 311.93 L96.89 313.65 L97.09 315.34 L97.29 317.01 L97.49 318.64 L97.7 320.24 L97.91 321.81 L98.13 323.35 L98.35 324.85 L98.57 326.32 L98.79 327.76 L99.02 329.17 L99.25 330.55 L99.49 331.9 L99.72 333.22 L99.97 334.52 L100.21 335.79 L100.46 337.04 L100.73 338.26 L101.02 339.46 L101.31 340.63 L101.6 341.79 L101.9 342.93 L102.2 344.05 L102.51 345.16 L102.82 346.25 L103.13 347.33 L103.46 348.39 L103.78 349.42 L104.12 350.42 L104.46 351.39 L104.8 352.34 L105.14 353.26 L105.5 354.17 L105.85 355.07 L106.21 355.96 L106.57 356.85 L106.94 357.74 L107.31 358.65 L107.68 359.56 L108.06 360.5 L108.45 361.46 L108.85 362.45 L109.25 363.43 L109.66 364.41 L110.07 365.4 L110.49 366.37 L110.92 367.35 L111.35 368.32 L111.79 369.28 L112.24 370.24 L112.69 371.2 L113.16 372.15 L113.62 373.09 L114.1 374.02 L114.58 374.94 L115.07 375.85 L115.57 376.75 L116.07 377.64 L116.59 378.52 L117.11 379.38 L117.64 380.23 L118.17 381.07 L118.72 381.89 L119.27 382.71 L119.82 383.53 L120.39 384.33 L120.97 385.13 L121.55 385.92 L122.15 386.7 L122.75 387.47 L123.37 388.23 L123.99 388.97 L124.62 389.71 L125.27 390.43 L125.92 391.13 L126.58 391.82 L127.25 392.5 L127.93 393.16 L128.62 393.82 L129.32 394.46 L130.03 395.09 L130.75 395.72 L131.47 396.33 L132.21 396.94 L132.96 397.53 L133.72 398.13 L134.49 398.71 L135.28 399.28 L136.07 399.84 L136.88 400.4 L137.69 400.94 L138.52 401.48 L139.35 402.01 L140.2 402.53 L141.06 403.05 L141.92 403.57 L142.8 404.09 L143.69 404.6 L144.6 405.12 L145.52 405.64 L146.46 406.15 L148.45 407.21 L150.44 408.22 L152.44 409.19 L154.44 410.12 L156.43 411 L158.43 411.85 L160.42 412.66 L162.41 413.45 L164.4 414.2 L166.39 414.92 L168.39 415.61 L170.38 416.27 L172.38 416.89 L174.38 417.47 L176.38 418.02 L178.37 418.53 L180.37 419 L182.36 419.45 L184.34 419.89 L186.32 420.3 L188.3 420.71 L190.28 421.11 L192.25 421.5 L194.23 421.89 L196.21 422.27 L198.19 422.63 L200.17 422.99 L202.14 423.34 L204.12 423.68 L206.09 424.01 L208.07 424.35 L210.04 424.68 L212.01 425.01 L213.99 425.33 L215.97 425.65 L217.94 425.95 L219.92 426.25 L221.9 426.55 L223.87 426.83 L225.85 427.11 L227.82 427.39 L229.79 427.66 L231.77 427.93 L233.74 428.19 L235.72 428.45 L237.69 428.71 L239.66 428.96 L241.63 429.21 L243.61 429.46 L245.58 429.7 L247.55 429.95 L249.53 430.18 L251.5 430.42 L253.47 430.65 L255.45 430.87 L257.42 431.1 L259.39 431.31 L261.37 431.53 L263.34 431.74 L265.31 431.94 L267.29 432.15 L269.26 432.34 L271.24 432.53 L273.21 432.72 L275.18 432.91 L277.16 433.09 L279.13 433.26 L281.1 433.43 L283.08 433.59 L285.05 433.76 L287.02 433.92 L288.99 434.07 L290.97 434.23 L292.94 434.38 L294.91 434.52 L296.88 434.67 L298.86 434.81 L300.83 434.95 L302.8 435.09 L304.77 435.22 L306.74 435.35 L308.72 435.48 L310.69 435.61 L312.66 435.73 L314.63 435.85 L316.6 435.97 L318.58 436.09 L320.55 436.2 L322.52 436.32 L324.49 436.43 L326.46 436.54 L328.43 436.64 L330.4 436.75 L332.38 436.85 L334.35 436.95 L336.32 437.05 L338.29 437.15 L340.26 437.24 L342.23 437.33 L344.21 437.42 L346.18 437.51 L348.15 437.6 L350.12 437.69 L352.09 437.77 L354.06 437.85 L356.03 437.93 L358 438.02 L359.97 438.1 L361.94 438.17 L363.91 438.25 L365.88 438.33 L367.85 438.41 L369.82 438.48 L371.79 438.56 L373.77 438.64 L375.74 438.71 L377.71 438.79 L379.68 438.86 L381.65 438.94 L383.62 439.01 L385.59 439.09 L387.56 439.17 L389.53 439.25 L391.5 439.32 L393.47 439.4 L395.44 439.48 L397.41 439.55 L399.38 439.62 L401.35 439.7 L403.32 439.77 L405.29 439.84 L407.26 439.91 L409.23 439.98 L411.2 440.05 L413.17 440.12 L415.14 440.18 L417.11 440.25 L419.08 440.32 L421.05 440.38 L423.02 440.45 L424.99 440.51 L426.96 440.57 L428.93 440.64 L430.9 440.7 L432.87 440.76 L434.84 440.82 L436.81 440.88 L438.78 440.94 L440.75 441 L442.72 441.06 L444.69 441.11 L446.66 441.17 L448.63 441.23 L450.6 441.28 L452.57 441.34 L454.54 441.39 L456.51 441.45 L458.48 441.5 L460.4 441.55 L462.64 441.83 L464.92 442.11 L467.21 442.39 L469.49 442.66 L471.78 442.94 L474.06 443.21 L476.35 443.48 L478.64 443.75 L480.92 444.01 L483.21 444.28 L485.49 444.54 L487.78 444.8 L490.06 445.06 L492.35 445.32 L494.63 445.57 L496.92 445.83 L499.2 446.08 L501.49 446.33 L503.77 446.58 L506.06 446.83 L508.34 447.08 L510.63 447.33 L512.91 447.57 L515.2 447.81 L517.48 448.05 L519.77 448.29 L522.05 448.53 L524.34 448.77 L526.62 449.01 L528.91 449.24 L531.19 449.47 L533.48 449.71 L535.76 449.94 L538.05 450.17 L540.33 450.4 L542.62 450.62 L544.9 450.85 L547.19 451.08 L549.47 451.3" stroke="#0000ff" stroke-width="2.6"/>
<path d="M86.12 -28.52 L86.16 -21.07 L86.21 -13.73 L86.25 -6.52 L86.3 0.59 L86.35 7.58 L86.4 14.46 L86.45 21.23 L86.5 27.89 L86.55 34.45 L86.6 40.9 L86.66 47.25 L86.71 53.5 L86.76 59.65 L86.82 65.71 L86.88 71.66 L86.93 77.53 L86.99 83.3 L87.05 88.98 L87.11 94.57 L87.17 100.07 L87.24 105.49 L87.3 110.82 L87.36 116.07 L87.43 121.24 L87.5 126.33 L87.56 131.34 L87.63 136.27 L87.7 141.12 L87.77 145.9 L87.85 150.61 L87.92 155.24 L87.99 159.81 L88.07 164.3 L88.14 168.73 L88.22 173.09 L88.3 177.38 L88.38 181.61 L88.46 185.78 L88.55 189.88 L88.63 193.93 L88.72 197.92 L88.8 201.84 L88.89 205.72 L88.98 209.53 L89.07 213.29 L89.17 217 L89.26 220.66 L89.36 224.27 L89.46 227.82 L89.55 231.33 L89.66 234.8 L89.76 238.21 L89.86 241.58 L89.98 244.91 L90.1 248.18 L90.23 251.4 L90.35 254.57 L90.48 257.7 L90.6 260.78 L90.74 263.81 L90.87 266.8 L91 269.74 L91.14 272.64 L91.28 275.49 L91.42 278.3 L91.56 281.07 L91.71 283.79 L91.86 286.48 L92.01 289.12 L92.16 291.73 L92.32 294.29 L92.47 296.82 L92.63 299.31 L92.8 301.76 L92.96 304.18 L93.13 306.56 L93.3 308.9 L93.48 311.2 L93.65 313.48 L93.83 315.71 L94.01 317.92 L94.2 320.09 L94.39 322.23 L94.58 324.38 L94.77 326.53 L94.97 328.67 L95.17 330.8 L95.37 332.92 L95.58 335.04 L95.79 337.14 L96 339.22 L96.22 341.28 L96.44 343.32 L96.67 345.34 L96.89 347.33 L97.12 349.28 L97.34 351.21 L97.54 353.09 L97.76 354.94 L97.97 356.74 L98.19 358.49 L98.41 360.19 L98.64 361.84 L98.87 363.47 L99.1 365.07 L99.34 366.64 L99.58 368.18 L99.83 369.7 L100.07 371.19 L100.33 372.66 L100.58 374.1 L100.84 375.51 L101.11 376.89 L101.38 378.25 L101.65 379.58 L101.93 380.88 L102.21 382.16 L102.49 383.41 L102.78 384.63 L103.08 385.83 L103.38 387 L103.68 388.14 L103.99 389.25 L104.3 390.34 L104.62 391.41 L104.95 392.45 L105.27 393.47 L105.61 394.47 L105.95 395.46 L106.29 396.42 L106.64 397.37 L107 398.3 L107.36 399.22 L107.72 400.12 L108.1 401.01 L108.48 401.9 L108.86 402.76 L109.25 403.62 L109.65 404.45 L110.05 405.28 L110.46 406.09 L110.87 406.88 L111.29 407.67 L111.72 408.44 L112.16 409.2 L112.6 409.94 L113.05 410.68 L113.5 411.41 L113.96 412.13 L114.44 412.84 L114.91 413.54 L115.4 414.23 L115.89 414.91 L116.39 415.58 L116.9 416.25 L117.42 416.9 L117.95 417.55 L118.48 418.19 L119.02 418.82 L119.57 419.44 L120.13 420.05 L120.7 420.66 L121.28 421.26 L121.87 421.85 L122.47 422.44 L123.08 423.02 L123.69 423.59 L124.32 424.16 L124.96 424.72 L125.6 425.27 L126.26 425.8 L126.92 426.33 L127.6 426.85 L128.29 427.36 L128.99 427.86 L129.7 428.36 L130.43 428.85 L131.16 429.33 L131.9 429.8 L132.66 430.26 L133.42 430.7 L134.2 431.13 L134.99 431.54 L135.8 431.94 L136.62 432.34 L137.46 432.72 L138.31 433.1 L139.18 433.47 L140.05 433.83 L140.95 434.17 L141.85 434.51 L142.77 434.84 L143.71 435.15 L144.66 435.45 L145.63 435.74 L146.61 436.02 L147.61 436.28 L149.56 436.78 L151.51 437.23 L153.46 437.65 L155.42 438.06 L157.38 438.45 L159.35 438.84 L161.31 439.2 L163.27 439.56 L165.23 439.9 L167.19 440.23 L169.15 440.54 L171.11 440.83 L173.07 441.11 L175.02 441.37 L176.99 441.62 L178.95 441.85 L180.91 442.07 L182.87 442.29 L184.84 442.49 L186.8 442.68 L188.77 442.87 L190.73 443.05 L192.7 443.22 L194.66 443.39 L196.63 443.55 L198.6 443.7 L200.56 443.85 L202.53 443.99 L204.49 444.13 L206.46 444.26 L208.43 444.39 L210.4 444.52 L212.36 444.64 L214.33 444.77 L216.3 444.89 L218.27 445 L220.24 445.12 L222.21 445.23 L224.17 445.34 L226.14 445.45 L228.11 445.55 L230.08 445.66 L232.05 445.76 L234.02 445.86 L235.98 445.95 L237.95 446.04 L239.92 446.13 L241.89 446.22 L243.86 446.31 L245.82 446.39 L247.79 446.47 L249.76 446.54 L251.73 446.62 L253.7 446.69 L255.66 446.75 L257.63 446.82 L259.6 446.88 L261.57 446.94 L263.53 446.99 L265.5 447.04 L267.47 447.09 L269.44 447.14 L271.41 447.18 L273.37 447.22 L275.34 447.25 L277.31 447.29 L279.28 447.33 L281.25 447.37 L283.22 447.41 L285.19 447.44 L287.16 447.48 L289.13 447.52 L291.1 447.55 L293.06 447.59 L295.03 447.62 L297 447.65 L298.97 447.68 L300.94 447.72 L302.91 447.75 L304.88 447.78 L306.85 447.81 L308.82 447.84 L310.79 447.87 L312.76 447.89 L314.73 447.92 L316.7 447.95 L318.67 447.98 L320.64 448 L322.61 448.03 L324.58 448.06 L326.54 448.08 L328.51 448.11 L330.48 448.13 L332.45 448.16 L334.42 448.18 L336.39 448.21 L338.36 448.23 L340.33 448.25 L342.3 448.28 L344.27 448.3 L346.24 448.32 L348.21 448.35 L350.18 448.37 L352.15 448.39 L354.12 448.41 L356.09 448.43 L358.06 448.46 L360.03 448.48 L362 448.5 L363.97 448.52 L365.94 448.54 L367.91 448.56 L369.88 448.59 L371.85 448.61 L373.82 448.63 L375.79 448.65 L377.76 448.67 L379.73 448.69 L381.69 448.71 L383.66 448.73 L385.63 448.75 L387.6 448.77 L389.57 448.78 L391.54 448.8 L393.51 448.81 L395.48 448.83 L397.45 448.84 L399.42 448.85 L401.39 448.87 L403.36 448.88 L405.33 448.9 L407.3 448.91 L409.27 448.92 L411.24 448.94 L413.21 448.95 L415.18 448.96 L417.15 448.98 L419.12 448.99 L421.09 449 L423.06 449.02 L425.03 449.03 L427 449.04 L428.97 449.05 L430.94 449.07 L432.91 449.08 L434.88 449.09 L436.85 449.1 L438.82 449.11 L440.79 449.13 L442.76 449.14 L444.73 449.15 L446.7 449.16 L448.67 449.17 L450.64 449.18 L452.6 449.2 L454.57 449.21 L456.54 449.22 L458.51 449.23 L460.49 449.24 L462.77 449.3 L465.05 449.36 L467.33 449.41 L469.62 449.47 L471.9 449.53 L474.18 449.58 L476.46 449.64 L478.74 449.7 L481.02 449.75 L483.3 449.81 L485.59 449.86 L487.87 449.92 L490.15 449.97 L492.43 450.02 L494.71 450.08 L496.99 450.13 L499.28 450.18 L501.56 450.24 L503.84 450.29 L506.12 450.34 L508.4 450.4 L510.68 450.45 L512.96 450.5 L515.25 450.55 L517.53 450.6 L519.81 450.65 L522.09 450.7 L524.37 450.76 L526.65 450.81 L528.94 450.86 L531.22 450.91 L533.5 450.96 L535.78 451.01 L538.06 451.06 L540.34 451.1 L542.63 451.15 L544.91 451.2 L547.19 451.25 L549.47 451.3" stroke="#0000ff" stroke-width="2.6"/>
<path d="M86.84 -25.05 L86.9 -18.44 L86.96 -11.93 L87.01 -5.52 L87.07 0.8 L87.13 7.03 L87.2 13.17 L87.26 19.22 L87.32 25.18 L87.39 31.06 L87.45 36.85 L87.52 42.56 L87.58 48.18 L87.65 53.73 L87.72 59.19 L87.79 64.58 L87.86 69.89 L87.93 75.13 L88.01 80.28 L88.08 85.37 L88.16 90.38 L88.23 95.32 L88.31 100.19 L88.39 104.98 L88.47 109.7 L88.55 114.36 L88.63 118.94 L88.71 123.46 L88.8 127.92 L88.88 132.3 L88.97 136.62 L89.06 140.88 L89.15 145.08 L89.24 149.21 L89.33 153.29 L89.42 157.3 L89.52 161.25 L89.61 165.15 L89.71 168.99 L89.81 172.77 L89.91 176.49 L90.01 180.16 L90.11 183.78 L90.22 187.34 L90.33 190.85 L90.43 194.31 L90.54 197.72 L90.65 201.08 L90.77 204.39 L90.88 207.64 L91 210.85 L91.11 214.01 L91.23 217.12 L91.35 220.19 L91.48 223.21 L91.6 226.18 L91.73 229.11 L91.85 231.99 L91.98 234.83 L92.12 237.63 L92.25 240.38 L92.38 243.09 L92.52 245.76 L92.66 248.39 L92.8 250.98 L92.95 253.54 L93.09 256.05 L93.24 258.52 L93.39 260.95 L93.54 263.34 L93.7 265.69 L93.85 268 L94.01 270.27 L94.17 272.51 L94.34 274.71 L94.5 276.88 L94.67 279.01 L94.84 281.12 L95.02 283.2 L95.19 285.26 L95.37 287.29 L95.55 289.3 L95.73 291.29 L95.92 293.26 L96.11 295.21 L96.3 297.14 L96.5 299.05 L96.69 300.94 L96.89 302.8 L97.1 304.65 L97.3 306.47 L97.51 308.26 L97.72 310.03 L97.94 311.77 L98.16 313.49 L98.38 315.17 L98.6 316.83 L98.83 318.45 L99.06 320.04 L99.29 321.6 L99.53 323.13 L99.77 324.62 L100.02 326.07 L100.27 327.5 L100.52 328.89 L100.77 330.25 L101.03 331.59 L101.3 332.9 L101.56 334.18 L101.83 335.43 L102.11 336.66 L102.39 337.87 L102.67 339.06 L102.96 340.22 L103.25 341.37 L103.54 342.49 L103.84 343.6 L104.15 344.7 L104.45 345.78 L104.77 346.84 L105.08 347.88 L105.4 348.89 L105.73 349.87 L106.06 350.82 L106.4 351.74 L106.74 352.65 L107.08 353.55 L107.44 354.44 L107.79 355.32 L108.15 356.2 L108.52 357.09 L108.89 358 L109.27 358.91 L109.65 359.86 L110.04 360.83 L110.43 361.8 L110.83 362.78 L111.24 363.75 L111.65 364.72 L112.06 365.69 L112.49 366.65 L112.92 367.61 L113.35 368.57 L113.79 369.51 L114.24 370.45 L114.7 371.39 L115.16 372.31 L115.63 373.23 L116.1 374.13 L116.58 375.03 L117.07 375.91 L117.57 376.78 L118.07 377.64 L118.58 378.48 L119.1 379.31 L119.62 380.13 L120.15 380.94 L120.69 381.74 L121.24 382.54 L121.8 383.33 L122.36 384.11 L122.93 384.88 L123.52 385.64 L124.1 386.39 L124.7 387.13 L125.31 387.85 L125.92 388.56 L126.55 389.26 L127.18 389.94 L127.82 390.61 L128.47 391.26 L129.14 391.91 L129.81 392.55 L130.49 393.17 L131.18 393.79 L131.88 394.39 L132.59 394.99 L133.31 395.58 L134.04 396.16 L134.78 396.74 L135.53 397.31 L136.3 397.86 L137.07 398.41 L137.86 398.95 L138.65 399.48 L139.46 400 L140.28 400.52 L141.12 401.03 L141.96 401.55 L142.82 402.06 L143.69 402.57 L144.57 403.08 L145.46 403.59 L146.37 404.09 L147.29 404.6 L149.26 405.64 L151.23 406.64 L153.2 407.59 L155.17 408.5 L157.14 409.37 L159.11 410.2 L161.08 411.01 L163.05 411.78 L165.02 412.52 L166.99 413.24 L168.96 413.91 L170.93 414.56 L172.9 415.17 L174.87 415.75 L176.84 416.29 L178.81 416.8 L180.78 417.27 L182.75 417.73 L184.72 418.16 L186.69 418.58 L188.66 418.99 L190.62 419.39 L192.59 419.79 L194.56 420.19 L196.53 420.57 L198.5 420.93 L200.47 421.3 L202.44 421.65 L204.41 421.99 L206.38 422.34 L208.35 422.68 L210.32 423.01 L212.29 423.35 L214.26 423.67 L216.23 423.99 L218.2 424.3 L220.17 424.61 L222.14 424.91 L224.11 425.2 L226.08 425.49 L228.05 425.77 L230.02 426.04 L231.99 426.32 L233.96 426.58 L235.93 426.85 L237.9 427.11 L239.87 427.37 L241.84 427.62 L243.81 427.88 L245.78 428.13 L247.75 428.37 L249.72 428.62 L251.69 428.86 L253.66 429.09 L255.63 429.33 L257.6 429.55 L259.57 429.78 L261.54 430 L263.51 430.21 L265.48 430.42 L267.45 430.63 L269.42 430.83 L271.39 431.03 L273.36 431.22 L275.32 431.41 L277.29 431.6 L279.26 431.78 L281.23 431.95 L283.2 432.13 L285.17 432.3 L287.14 432.46 L289.11 432.63 L291.08 432.79 L293.05 432.94 L295.02 433.1 L296.99 433.25 L298.96 433.4 L300.93 433.54 L302.9 433.69 L304.87 433.83 L306.84 433.97 L308.81 434.1 L310.78 434.24 L312.75 434.37 L314.72 434.5 L316.69 434.62 L318.66 434.75 L320.63 434.87 L322.6 434.99 L324.57 435.11 L326.54 435.22 L328.51 435.34 L330.48 435.45 L332.45 435.56 L334.42 435.67 L336.39 435.77 L338.36 435.88 L340.33 435.98 L342.3 436.08 L344.27 436.17 L346.24 436.27 L348.21 436.36 L350.18 436.46 L352.15 436.55 L354.12 436.64 L356.09 436.73 L358.06 436.82 L360.02 436.9 L361.99 436.99 L363.96 437.07 L365.93 437.16 L367.9 437.24 L369.87 437.33 L371.84 437.41 L373.81 437.49 L375.78 437.58 L377.75 437.66 L379.72 437.74 L381.69 437.82 L383.66 437.91 L385.63 437.99 L387.6 438.07 L389.57 438.15 L391.54 438.23 L393.51 438.31 L395.48 438.39 L397.45 438.47 L399.42 438.54 L401.39 438.62 L403.36 438.69 L405.33 438.77 L407.3 438.84 L409.27 438.91 L411.24 438.98 L413.21 439.06 L415.18 439.13 L417.15 439.19 L419.12 439.26 L421.09 439.33 L423.06 439.4 L425.03 439.46 L427 439.53 L428.97 439.59 L430.94 439.66 L432.91 439.72 L434.88 439.79 L436.85 439.85 L438.82 439.91 L440.79 439.97 L442.76 440.03 L444.72 440.09 L446.69 440.15 L448.66 440.21 L450.63 440.27 L452.6 440.33 L454.57 440.39 L456.54 440.44 L458.51 440.5 L460.48 440.56 L462.76 440.86 L465.05 441.17 L467.33 441.47 L469.61 441.77 L471.89 442.07 L474.17 442.37 L476.45 442.66 L478.74 442.96 L481.02 443.25 L483.3 443.54 L485.58 443.83 L487.86 444.11 L490.15 444.4 L492.43 444.68 L494.71 444.96 L496.99 445.24 L499.27 445.52 L501.55 445.8 L503.84 446.07 L506.12 446.35 L508.4 446.62 L510.68 446.89 L512.96 447.16 L515.24 447.43 L517.53 447.7 L519.81 447.96 L522.09 448.23 L524.37 448.49 L526.65 448.75 L528.93 449.01 L531.22 449.27 L533.5 449.53 L535.78 449.78 L538.06 450.04 L540.34 450.29 L542.62 450.55 L544.91 450.8 L547.19 451.05 L549.47 451.3" stroke="#ff00ff" stroke-width="2.6"/>
<path d="M85.67 -28.52 L85.72 -21.07 L85.76 -13.73 L85.81 -6.51 L85.86 0.59 L85.9 7.58 L85.95 14.46 L86 21.23 L86.05 27.89 L86.1 34.45 L86.15 40.9 L86.2 47.26 L86.26 53.51 L86.31 59.66 L86.37 65.71 L86.42 71.67 L86.48 77.53 L86.54 83.3 L86.6 88.98 L86.65 94.58 L86.72 100.08 L86.78 105.5 L86.84 110.83 L86.9 116.08 L86.97 121.25 L87.03 126.33 L87.1 131.34 L87.17 136.27 L87.24 141.13 L87.3 145.91 L87.38 150.62 L87.45 155.25 L87.52 159.81 L87.6 164.31 L87.67 168.74 L87.75 173.1 L87.83 177.39 L87.9 181.62 L87.99 185.79 L88.07 189.89 L88.15 193.94 L88.23 197.93 L88.32 201.85 L88.41 205.73 L88.5 209.54 L88.59 213.31 L88.68 217.01 L88.77 220.67 L88.87 224.28 L88.96 227.84 L89.06 231.35 L89.16 234.81 L89.26 238.23 L89.36 241.6 L89.47 244.92 L89.57 248.19 L89.68 251.42 L89.79 254.59 L89.9 257.72 L90.01 260.8 L90.13 263.83 L90.24 266.82 L90.36 269.76 L90.48 272.66 L90.6 275.52 L90.73 278.33 L90.85 281.1 L90.98 283.83 L91.11 286.52 L91.24 289.16 L91.38 291.77 L91.51 294.34 L91.65 296.87 L91.79 299.36 L91.94 301.81 L92.08 304.23 L92.23 306.61 L92.38 308.96 L92.53 311.27 L92.69 313.54 L92.84 315.78 L93 317.99 L93.17 320.17 L93.33 322.32 L93.5 324.47 L93.67 326.61 L93.84 328.76 L94.02 330.9 L94.2 333.02 L94.38 335.14 L94.57 337.25 L94.75 339.33 L94.94 341.4 L95.14 343.45 L95.33 345.47 L95.53 347.47 L95.74 349.43 L95.94 351.36 L96.15 353.25 L96.37 355.1 L96.58 356.91 L96.8 358.67 L97.03 360.37 L97.26 362.03 L97.49 363.66 L97.72 365.27 L97.96 366.85 L98.2 368.4 L98.45 369.93 L98.7 371.43 L98.95 372.9 L99.21 374.34 L99.47 375.76 L99.74 377.16 L100.01 378.52 L100.29 379.87 L100.57 381.18 L100.85 382.47 L101.14 383.73 L101.43 384.96 L101.73 386.17 L102.04 387.35 L102.34 388.5 L102.66 389.63 L102.97 390.73 L103.3 391.81 L103.63 392.87 L103.96 393.9 L104.3 394.92 L104.64 395.92 L104.99 396.89 L105.35 397.86 L105.71 398.8 L106.08 399.73 L106.45 400.65 L106.83 401.55 L107.21 402.45 L107.6 403.33 L108 404.2 L108.41 405.05 L108.82 405.89 L109.23 406.71 L109.66 407.53 L110.09 408.32 L110.53 409.11 L110.97 409.89 L111.42 410.65 L111.88 411.4 L112.35 412.15 L112.82 412.88 L113.3 413.6 L113.79 414.32 L114.29 415.02 L114.8 415.72 L115.31 416.41 L115.83 417.08 L116.36 417.75 L116.9 418.41 L117.45 419.07 L118 419.71 L118.57 420.35 L119.14 420.97 L119.72 421.59 L120.32 422.2 L120.92 422.81 L121.53 423.41 L122.15 424 L122.78 424.59 L123.43 425.17 L124.08 425.74 L124.74 426.3 L125.41 426.85 L126.1 427.39 L126.79 427.92 L127.5 428.44 L128.22 428.96 L128.95 429.46 L129.69 429.97 L130.44 430.46 L131.21 430.94 L131.98 431.41 L132.77 431.86 L133.58 432.3 L134.39 432.72 L135.22 433.13 L136.06 433.53 L136.92 433.93 L137.79 434.31 L138.67 434.69 L139.57 435.05 L140.48 435.4 L141.41 435.75 L142.35 436.08 L143.31 436.39 L144.28 436.7 L145.27 436.99 L146.27 437.27 L147.29 437.54 L149.26 438.04 L151.23 438.49 L153.2 438.92 L155.17 439.32 L157.14 439.71 L159.11 440.09 L161.08 440.46 L163.05 440.81 L165.02 441.15 L166.99 441.47 L168.96 441.78 L170.93 442.07 L172.9 442.35 L174.87 442.61 L176.84 442.85 L178.81 443.08 L180.78 443.3 L182.75 443.52 L184.72 443.72 L186.69 443.91 L188.66 444.09 L190.62 444.27 L192.59 444.44 L194.56 444.6 L196.53 444.76 L198.5 444.91 L200.47 445.05 L202.44 445.2 L204.41 445.33 L206.38 445.46 L208.35 445.59 L210.32 445.72 L212.29 445.84 L214.26 445.95 L216.23 446.07 L218.2 446.18 L220.17 446.3 L222.14 446.41 L224.11 446.51 L226.08 446.62 L228.05 446.72 L230.02 446.82 L231.99 446.92 L233.96 447.02 L235.93 447.11 L237.9 447.2 L239.87 447.29 L241.84 447.37 L243.81 447.45 L245.78 447.53 L247.75 447.61 L249.72 447.68 L251.69 447.75 L253.66 447.82 L255.63 447.88 L257.6 447.94 L259.57 448 L261.54 448.06 L263.51 448.11 L265.48 448.16 L267.45 448.2 L269.42 448.25 L271.39 448.29 L273.36 448.32 L275.32 448.35 L277.29 448.38 L279.26 448.41 L281.23 448.44 L283.2 448.47 L285.17 448.49 L287.14 448.52 L289.11 448.54 L291.08 448.57 L293.05 448.59 L295.02 448.61 L296.99 448.64 L298.96 448.66 L300.93 448.68 L302.9 448.7 L304.87 448.72 L306.84 448.74 L308.81 448.76 L310.78 448.77 L312.75 448.79 L314.72 448.81 L316.69 448.83 L318.66 448.84 L320.63 448.86 L322.6 448.87 L324.57 448.89 L326.54 448.9 L328.51 448.92 L330.48 448.93 L332.45 448.95 L334.42 448.96 L336.39 448.97 L338.36 448.99 L340.33 449 L342.3 449.01 L344.27 449.03 L346.24 449.04 L348.21 449.05 L350.18 449.06 L352.15 449.07 L354.12 449.08 L356.09 449.1 L358.06 449.11 L360.02 449.12 L361.99 449.13 L363.96 449.14 L365.93 449.15 L367.9 449.16 L369.87 449.17 L371.84 449.18 L373.81 449.19 L375.78 449.2 L377.75 449.21 L379.72 449.22 L381.69 449.23 L383.66 449.24 L385.63 449.25 L387.6 449.26 L389.57 449.27 L391.54 449.28 L393.51 449.29 L395.48 449.3 L397.45 449.31 L399.42 449.32 L401.39 449.33 L403.36 449.33 L405.33 449.34 L407.3 449.35 L409.27 449.36 L411.24 449.37 L413.21 449.38 L415.18 449.38 L417.15 449.39 L419.12 449.4 L421.09 449.41 L423.06 449.42 L425.03 449.42 L427 449.43 L428.97 449.44 L430.94 449.44 L432.91 449.45 L434.88 449.46 L436.85 449.46 L438.82 449.47 L440.79 449.48 L442.76 449.49 L444.72 449.49 L446.69 449.5 L448.66 449.5 L450.63 449.51 L452.6 449.52 L454.57 449.52 L456.54 449.53 L458.51 449.53 L460.48 449.54 L462.76 449.59 L465.05 449.64 L467.33 449.69 L469.61 449.74 L471.89 449.79 L474.17 449.84 L476.45 449.89 L478.74 449.93 L481.02 449.98 L483.3 450.03 L485.58 450.08 L487.86 450.12 L490.15 450.17 L492.43 450.22 L494.71 450.26 L496.99 450.31 L499.27 450.35 L501.55 450.4 L503.84 450.44 L506.12 450.49 L508.4 450.53 L510.68 450.58 L512.96 450.62 L515.24 450.67 L517.53 450.71 L519.81 450.75 L522.09 450.8 L524.37 450.84 L526.65 450.88 L528.93 450.93 L531.22 450.97 L533.5 451.01 L535.78 451.05 L538.06 451.09 L540.34 451.14 L542.62 451.18 L544.91 451.22 L547.19 451.26 L549.47 451.3" stroke="#ff00ff" stroke-width="2.6"/>
<path d="M460.48 451.3 L462.81 440.8 L465.15 430.37 L467.48 420 L469.81 409.71 L472.14 399.48 L474.47 389.32 L476.8 379.23 L479.13 369.19 L481.46 359.22 L483.8 349.31 L486.13 339.46 L488.46 329.67 L490.79 319.94 L493.12 310.27 L495.45 300.65 L497.78 291.09 L500.11 281.58 L502.45 272.12 L504.78 262.72 L507.11 253.37 L509.44 244.07 L511.77 234.82 L514.1 225.61 L516.43 216.46 L518.76 207.36 L521.1 198.3 L523.43 189.28 L525.76 180.32 L528.09 171.4 L530.42 162.52 L532.75 153.68 L535.08 144.89 L537.41 136.14 L539.75 127.43 L542.08 118.76 L544.41 110.13 L546.74 101.54 L549.07 92.99 L550.8 86.68 L553.4 84.48 L728.4 84.48" stroke="#ff0000" stroke-width="2.15"/>
<path d="M460.48 451.3 L462.79 441.74 L465.11 432.27 L467.42 422.88 L469.73 413.58 L472.04 404.36 L474.35 395.21 L476.66 386.15 L478.97 377.16 L481.29 368.25 L483.6 359.41 L485.91 350.64 L488.22 341.95 L490.53 333.33 L492.84 324.77 L495.15 316.29 L497.47 307.87 L499.78 299.52 L502.09 291.23 L504.4 283.01 L506.71 274.85 L509.02 266.75 L511.33 258.71 L513.65 250.73 L515.96 242.81 L518.27 234.95 L520.58 227.15 L522.89 219.4 L525.2 211.71 L527.51 204.07 L529.83 196.48 L532.14 188.95 L534.45 181.47 L536.76 174.04 L539.07 166.66 L541.38 159.33 L543.69 152.05 L546.01 144.81 L548.32 137.63 L550.03 132.69 L552.63 130.49 L728.4 130.49" stroke="#ff0000" stroke-width="2.15"/>
<path d="M82 451.3 L90.19 451.3 L98.38 451.3 L106.57 451.3 L114.76 451.3 L122.95 451.3 L131.14 451.3 L139.33 451.3 L147.52 451.3 L155.71 451.3 L163.9 451.3 L172.09 451.3 L180.28 451.3 L188.47 451.3 L196.66 451.3 L204.85 451.3 L213.04 451.3 L221.23 451.3 L229.42 451.3 L237.61 451.3 L245.8 451.3 L253.99 451.3 L262.18 451.3 L270.37 451.3 L278.56 451.3 L286.75 451.3 L294.94 451.3 L303.13 451.3 L311.32 451.3 L319.51 451.3 L327.7 451.3 L335.89 451.3 L344.08 451.3 L352.27 451.3 L360.46 451.3 L368.65 451.3 L376.84 451.3 L385.03 451.3 L393.22 451.3 L401.41 451.3 L409.59 451.3 L417.78 451.3 L425.97 451.3 L434.16 451.3 L442.35 451.3 L450.54 451.3 L458.73 451.3 L466.92 451.07 L475.11 450.47 L483.3 450.09 L491.49 449.82 L499.68 449.64 L507.87 449.61 L516.06 449.79 L524.25 450.08 L532.44 450.41 L540.63 450.97 L548.82 451.3 L557.01 451.3 L565.2 451.3 L573.39 451.3 L581.58 451.3 L589.77 451.3 L597.96 451.3 L606.15 451.3 L614.34 451.3 L622.53 451.3 L630.72 451.3 L638.91 451.3 L647.1 451.3 L655.29 451.3 L663.48 451.3 L671.67 451.3 L679.86 451.3 L688.05 451.3 L696.24 451.3 L704.43 451.3 L712.62 451.3 L720.81 451.3 L729 451.3" stroke="#ff0000" stroke-width="2.4"/>
</g>
<path d="M82.9 72.8 V471.3 M82.2 451.5 H727.4" stroke="#000" stroke-width="1.55" fill="none"/>
<path d="M108.66 451.5 v-3.4 M134.41 451.5 v-3.4 M160.17 451.5 v-3.4 M185.92 451.5 v-3.4 M211.68 451.5 v-5.6 M237.44 451.5 v-3.4 M263.19 451.5 v-3.4 M288.95 451.5 v-3.4 M314.7 451.5 v-3.4 M340.46 451.5 v-5.6 M366.22 451.5 v-3.4 M391.97 451.5 v-3.4 M417.73 451.5 v-3.4 M443.48 451.5 v-3.4 M469.24 451.5 v-5.6 M495 451.5 v-3.4 M520.75 451.5 v-3.4 M546.51 451.5 v-3.4 M572.26 451.5 v-3.4 M598.02 451.5 v-5.6 M623.78 451.5 v-3.4 M649.53 451.5 v-3.4 M675.29 451.5 v-3.4 M701.04 451.5 v-3.4 M726.8 451.5 v-5.6 M82.9 465.05 h3.4 M82.9 437.55 h3.4 M82.9 423.79 h3.4 M82.9 410.04 h3.4 M82.9 396.28 h3.4 M82.9 382.53 h5.6 M82.9 368.78 h3.4 M82.9 355.02 h3.4 M82.9 341.27 h3.4 M82.9 327.51 h3.4 M82.9 313.76 h5.6 M82.9 300.01 h3.4 M82.9 286.25 h3.4 M82.9 272.5 h3.4 M82.9 258.74 h3.4 M82.9 244.99 h5.6 M82.9 231.24 h3.4 M82.9 217.48 h3.4 M82.9 203.73 h3.4 M82.9 189.97 h3.4 M82.9 176.22 h5.6 M82.9 162.47 h3.4 M82.9 148.71 h3.4 M82.9 134.96 h3.4 M82.9 121.2 h3.4 M82.9 107.45 h5.6 M82.9 93.7 h3.4 M82.9 79.94 h3.4" stroke="#000" stroke-width="1.3" fill="none"/>
<g transform="translate(38.14,458.65) scale(1.189,1.015)"><text font-family='"Liberation Serif","DejaVu Serif",serif' font-size="25" fill="#000" text-anchor="middle"><tspan x="0.0">0</tspan><tspan x="13.6">.</tspan><tspan x="27.2">0</tspan></text></g>
<g transform="translate(38.23,389.88) scale(1.205,1.015)"><text font-family='"Liberation Serif","DejaVu Serif",serif' font-size="25" fill="#000" text-anchor="middle"><tspan x="0.0">0</tspan><tspan x="13.6">.</tspan><tspan x="27.2">1</tspan></text></g>
<g transform="translate(38.23,321.11) scale(1.205,1.015)"><text font-family='"Liberation Serif","DejaVu Serif",serif' font-size="25" fill="#000" text-anchor="middle"><tspan x="0.0">0</tspan><tspan x="13.6">.</tspan><tspan x="27.2">2</tspan></text></g>
<g transform="translate(38.14,252.34) scale(1.189,1.015)"><text font-family='"Liberation Serif","DejaVu Serif",serif' font-size="25" fill="#000" text-anchor="middle"><tspan x="0.0">0</tspan><tspan x="13.6">.</tspan><tspan x="27.2">3</tspan></text></g>
<g transform="translate(38.06,183.57) scale(1.174,1.015)"><text font-family='"Liberation Serif","DejaVu Serif",serif' font-size="25" fill="#000" text-anchor="middle"><tspan x="0.0">0</tspan><tspan x="13.6">.</tspan><tspan x="27.2">4</tspan></text></g>
<g transform="translate(38.14,114.8) scale(1.189,1.015)"><text font-family='"Liberation Serif","DejaVu Serif",serif' font-size="25" fill="#000" text-anchor="middle"><tspan x="0.0">0</tspan><tspan x="13.6">.</tspan><tspan x="27.2">5</tspan></text></g>
<g transform="translate(203.2,477.2) scale(1.234,1.03)"><text font-family='"Liberation Serif","DejaVu Serif",serif' font-size="25" fill="#000">1</text></g>
<g transform="translate(333.08,477.2) scale(1.18,1.03)"><text font-family='"Liberation Serif","DejaVu Serif",serif' font-size="25" fill="#000">2</text></g>
<g transform="translate(461.48,476.95) scale(1.171,1.015)"><text font-family='"Liberation Serif","DejaVu Serif",serif' font-size="25" fill="#000">3</text></g>
<g transform="translate(591.85,477.2) scale(0.939,1.03)"><text font-family='"Liberation Serif","DejaVu Serif",serif' font-size="25" fill="#000">4</text></g>
<g transform="translate(718.83,476.94) scale(1.18,1.03)"><text font-family='"Liberation Serif","DejaVu Serif",serif' font-size="25" fill="#000">5</text></g>
<g transform="translate(70.53,58.55) scale(0.977,0.924)"><text font-family='"Liberation Serif","DejaVu Serif",serif' font-size="26" fill="#8c8c8c" font-style="italic">Y</text></g>
<g transform="translate(86.91,62.7) scale(1.248,0.96)"><text font-family='"Liberation Serif","DejaVu Serif",serif' font-size="19" fill="#8c8c8c" font-style="italic">i</text></g>
<g transform="translate(326.05,115.31) scale(1.211,0.988)"><text font-family='"Liberation Serif","DejaVu Serif",serif' font-size="23" fill="#000" text-anchor="middle"><tspan x="0.0">q</tspan><tspan x="11.3">=</tspan><tspan x="22.6">1</tspan></text></g>
<g transform="translate(282.48,232) scale(1.042,0.912)"><text font-family='"Liberation Serif","DejaVu Serif",serif' font-size="23" fill="#000">n</text></g>
<g transform="translate(282.01,266.33) scale(1.161,0.942)"><text font-family='"Liberation Serif","DejaVu Serif",serif' font-size="23" fill="#000">p</text></g>
<g transform="translate(617.65,107.79) scale(1.08,0.831)"><text font-family='"Liberation Serif","DejaVu Serif",serif' font-size="23" fill="#000">d</text></g>
<g transform="translate(617.72,162.76) scale(1.116,0.977)"><text font-family='"Liberation Serif","DejaVu Serif",serif' font-size="23" fill="#000">u</text></g>
<g transform="translate(554.09,468.48) scale(1.146,0.882)"><text font-family='"Liberation Serif","DejaVu Serif",serif' font-size="23" fill="#000">s</text></g>
<g transform="translate(737.68,457.16) scale(1.034,0.889)"><text font-family='"Liberation Serif","DejaVu Serif",serif' font-size="28" fill="#8c8c8c" font-style="italic">ρ</text></g>
<g transform="translate(752.87,462.5) scale(1.014,0.78)"><text font-family='"Liberation Serif","DejaVu Serif",serif' font-size="19" fill="#8c8c8c" font-style="italic">B</text></g>
<g transform="translate(768,460.33) scale(1.333,1.075)"><text font-family='"Liberation Serif","DejaVu Serif",serif' font-size="27" fill="#000">/</text></g>
<g transform="translate(782.64,457.16) scale(0.989,0.889)"><text font-family='"Liberation Serif","DejaVu Serif",serif' font-size="28" fill="#8c8c8c" font-style="italic">ρ</text></g>
<g transform="translate(799.25,462.76) scale(1.0,0.973)"><text font-family='"Liberation Serif","DejaVu Serif",serif' font-size="19" fill="#8c8c8c">0</text></g>
<g transform="translate(115.81,365) scale(0.836,0.873)"><text font-family='"Liberation Serif","DejaVu Serif",serif' font-size="23" fill="#8c8c8c" font-style="italic">K</text></g>
<g transform="translate(131.88,356.84) scale(0.833,0.827)"><text font-family='"Liberation Serif","DejaVu Serif",serif' font-size="16" fill="#8c8c8c">+</text></g>
<g transform="translate(160.97,369.51) scale(1.122,0.978)"><text font-family='"Liberation Serif","DejaVu Serif",serif' font-size="24" fill="#8c8c8c" font-style="italic">π</text></g>
<g transform="translate(175.56,361.97) scale(0.913,0.913)"><text font-family='"Liberation Serif","DejaVu Serif",serif' font-size="16" fill="#8c8c8c">+</text></g>
<g transform="translate(172.22,307.51) scale(1.122,0.964)"><text font-family='"Liberation Serif","DejaVu Serif",serif' font-size="24" fill="#8c8c8c" font-style="italic">π</text></g>
<g transform="translate(185.19,300.17) scale(1.28,1.0)"><text font-family='"Liberation Serif","DejaVu Serif",serif' font-size="16" fill="#8c8c8c">−</text></g>
<g transform="translate(191.81,444.5) scale(0.824,0.84)"><text font-family='"Liberation Serif","DejaVu Serif",serif' font-size="23" fill="#8c8c8c" font-style="italic">K</text></g>
<g transform="translate(205.64,437.67) scale(1.28,1.0)"><text font-family='"Liberation Serif","DejaVu Serif",serif' font-size="16" fill="#8c8c8c">−</text></g>
<g transform="translate(430.94,365.6) scale(0.962,0.859)"><text font-family='"Liberation Serif","DejaVu Serif",serif' font-size="23" fill="#8c8c8c">Δ</text></g>
<g transform="translate(444.44,358.48) scale(1.28,1.0)"><text font-family='"Liberation Serif","DejaVu Serif",serif' font-size="16" fill="#8c8c8c">−</text></g>
<g transform="translate(428.44,414.4) scale(0.962,0.862)"><text font-family='"Liberation Serif","DejaVu Serif",serif' font-size="23" fill="#8c8c8c">Δ</text></g>
<g transform="translate(443.78,406.38) scale(0.827,0.92)"><text font-family='"Liberation Serif","DejaVu Serif",serif' font-size="16" fill="#8c8c8c">+</text></g>
<g transform="translate(453.12,406.38) scale(0.833,0.92)"><text font-family='"Liberation Serif","DejaVu Serif",serif' font-size="16" fill="#8c8c8c">+</text></g>
<g transform="translate(131.04,420.6) scale(0.831,0.82)"><text font-family='"Liberation Serif","DejaVu Serif",serif' font-size="23" fill="#1e1e1e">Λ</text></g>
<g transform="translate(101.5,434.75) scale(1.0,0.857)"><text font-family='"Liberation Serif","DejaVu Serif",serif' font-size="23" fill="#1e1e1e">Σ</text></g>
<g transform="translate(101.08,450.6) scale(0.939,0.79)"><text font-family='"Liberation Serif","DejaVu Serif",serif' font-size="23" fill="#1e1e1e">Ξ</text></g>
<defs><clipPath id="cp1"><rect x="915.3" y="73.8" width="646.2" height="399.5"/></clipPath></defs>
<g clip-path="url(#cp1)" fill="none" stroke-linejoin="round" stroke-linecap="butt">
<path d="M915.8 347.7 L918.39 347.65 L920.98 347.6 L923.57 347.54 L926.16 347.48 L928.75 347.42 L931.34 347.35 L933.93 347.29 L936.51 347.22 L939.1 347.14 L941.69 347.07 L944.28 346.99 L946.87 346.91 L949.46 346.83 L952.05 346.74 L954.64 346.66 L957.23 346.57 L959.82 346.48 L962.41 346.39 L965 346.3 L967.59 346.21 L970.18 346.11 L972.76 346 L975.35 345.9 L977.94 345.78 L980.53 345.67 L983.12 345.55 L985.71 345.43 L988.3 345.31 L990.89 345.18 L993.48 345.05 L996.07 344.92 L998.66 344.78 L1001.25 344.64 L1003.84 344.5 L1006.43 344.36 L1009.02 344.22 L1011.6 344.08 L1014.19 343.93 L1016.78 343.78 L1019.37 343.64 L1021.96 343.49 L1024.55 343.33 L1027.14 343.17 L1029.73 343.01 L1032.32 342.85 L1034.91 342.68 L1037.5 342.51 L1040.09 342.33 L1042.68 342.15 L1045.27 341.97 L1047.85 341.79 L1050.44 341.61 L1053.03 341.42 L1055.62 341.23 L1058.21 341.04 L1060.8 340.84 L1063.39 340.65 L1065.98 340.45 L1068.57 340.26 L1071.16 340.06 L1073.75 339.86 L1076.34 339.67 L1078.93 339.47 L1081.52 339.27 L1084.11 339.07 L1086.69 338.88 L1089.28 338.68 L1091.87 338.48 L1094.46 338.29 L1097.05 338.09 L1099.64 337.9 L1102.23 337.71 L1104.82 337.52 L1107.41 337.34 L1110 337.15 L1112.59 336.97 L1115.18 336.79 L1117.77 336.61 L1120.36 336.43 L1122.94 336.25 L1125.53 336.08 L1128.12 335.9 L1130.71 335.73 L1133.3 335.55 L1135.89 335.38 L1138.48 335.2 L1141.07 335.03 L1143.66 334.86 L1146.25 334.68 L1148.84 334.51 L1151.43 334.34 L1154.02 334.17 L1156.61 334 L1159.19 333.82 L1161.78 333.65 L1164.37 333.48 L1166.96 333.31 L1169.55 333.14 L1172.14 332.97 L1174.73 332.8 L1177.32 332.63 L1179.91 332.46 L1182.5 332.29 L1185.09 332.12 L1187.68 331.95 L1190.27 331.78 L1192.86 331.61 L1195.45 331.44 L1198.03 331.26 L1200.62 331.09 L1203.21 330.92 L1205.8 330.75 L1208.39 330.58 L1210.98 330.4 L1213.57 330.23 L1216.16 330.06 L1218.75 329.88 L1221.34 329.71 L1223.93 329.54 L1226.52 329.36 L1229.11 329.19 L1231.7 329.01 L1234.28 328.84 L1236.87 328.66 L1239.46 328.49 L1242.05 328.31 L1244.64 328.14 L1247.23 327.96 L1249.82 327.79 L1252.41 327.61 L1255 327.44 L1257.59 327.26 L1260.18 327.09 L1262.77 326.91 L1265.36 326.74 L1267.95 326.56 L1270.54 326.39 L1273.12 326.21 L1275.71 326.03 L1278.3 325.86 L1280.89 325.68 L1283.48 325.51 L1286.07 325.33 L1288.66 325.15 L1291.25 324.98 L1293.84 324.8 L1296.43 324.62 L1299.02 324.45 L1301.61 324.27 L1304.2 324.09 L1306.79 323.92 L1309.37 323.74 L1311.96 323.56 L1314.55 323.39 L1317.14 323.21 L1319.73 323.03 L1322.32 322.85 L1324.91 322.68 L1327.5 322.5 L1330.41 326.01 L1333.29 329.51 L1336.16 332.98 L1339.04 336.44 L1341.91 339.89 L1344.79 343.32 L1347.66 346.73 L1350.54 350.13 L1353.41 353.52 L1356.29 356.89 L1359.16 360.24 L1362.04 363.58 L1364.91 366.91 L1367.79 370.23 L1370.66 373.53 L1373.54 376.82 L1376.41 380.09 L1379.29 383.36 L1382.16 386.61 L1385.04 389.85 L1387.91 393.08 L1390.79 396.29 L1393.66 399.5 L1396.53 402.69 L1399.41 405.88 L1402.28 409.05 L1405.16 412.21 L1408.03 415.36 L1410.91 418.51 L1413.78 421.64 L1416.66 424.76 L1419.53 427.87 L1422.41 430.97 L1425.28 434.07 L1428.16 437.15 L1431.03 440.23 L1433.91 443.29 L1436.78 446.35 L1439.66 449.4" stroke="#00ffff" stroke-width="2.5"/>
<path d="M915.8 351.4 L918.39 351.36 L920.98 351.31 L923.57 351.27 L926.16 351.22 L928.75 351.17 L931.34 351.11 L933.93 351.05 L936.51 350.99 L939.1 350.93 L941.69 350.86 L944.28 350.8 L946.87 350.73 L949.46 350.66 L952.05 350.59 L954.64 350.51 L957.23 350.44 L959.82 350.36 L962.41 350.28 L965 350.2 L967.59 350.12 L970.18 350.03 L972.76 349.94 L975.35 349.85 L977.94 349.75 L980.53 349.66 L983.12 349.55 L985.71 349.45 L988.3 349.34 L990.89 349.23 L993.48 349.12 L996.07 349 L998.66 348.88 L1001.25 348.76 L1003.84 348.63 L1006.43 348.51 L1009.02 348.38 L1011.6 348.24 L1014.19 348.11 L1016.78 347.97 L1019.37 347.83 L1021.96 347.69 L1024.55 347.54 L1027.14 347.38 L1029.73 347.21 L1032.32 347.04 L1034.91 346.86 L1037.5 346.68 L1040.09 346.49 L1042.68 346.29 L1045.27 346.09 L1047.85 345.88 L1050.44 345.67 L1053.03 345.46 L1055.62 345.24 L1058.21 345.03 L1060.8 344.81 L1063.39 344.58 L1065.98 344.36 L1068.57 344.14 L1071.16 343.91 L1073.75 343.69 L1076.34 343.47 L1078.93 343.25 L1081.52 343.02 L1084.11 342.81 L1086.69 342.59 L1089.28 342.38 L1091.87 342.17 L1094.46 341.96 L1097.05 341.76 L1099.64 341.56 L1102.23 341.36 L1104.82 341.18 L1107.41 340.99 L1110 340.82 L1112.59 340.65 L1115.18 340.49 L1117.77 340.33 L1120.36 340.18 L1122.94 340.03 L1125.53 339.88 L1128.12 339.73 L1130.71 339.58 L1133.3 339.44 L1135.89 339.3 L1138.48 339.16 L1141.07 339.02 L1143.66 338.89 L1146.25 338.75 L1148.84 338.62 L1151.43 338.49 L1154.02 338.36 L1156.61 338.23 L1159.19 338.1 L1161.78 337.97 L1164.37 337.85 L1166.96 337.72 L1169.55 337.6 L1172.14 337.47 L1174.73 337.35 L1177.32 337.23 L1179.91 337.11 L1182.5 336.98 L1185.09 336.86 L1187.68 336.74 L1190.27 336.62 L1192.86 336.5 L1195.45 336.38 L1198.03 336.26 L1200.62 336.13 L1203.21 336.01 L1205.8 335.89 L1208.39 335.76 L1210.98 335.64 L1213.57 335.51 L1216.16 335.39 L1218.75 335.26 L1221.34 335.13 L1223.93 335.01 L1226.52 334.88 L1229.11 334.75 L1231.7 334.62 L1234.28 334.5 L1236.87 334.37 L1239.46 334.24 L1242.05 334.12 L1244.64 333.99 L1247.23 333.86 L1249.82 333.74 L1252.41 333.61 L1255 333.48 L1257.59 333.36 L1260.18 333.23 L1262.77 333.1 L1265.36 332.98 L1267.95 332.85 L1270.54 332.73 L1273.12 332.6 L1275.71 332.48 L1278.3 332.35 L1280.89 332.23 L1283.48 332.1 L1286.07 331.98 L1288.66 331.85 L1291.25 331.73 L1293.84 331.6 L1296.43 331.48 L1299.02 331.36 L1301.61 331.23 L1304.2 331.11 L1306.79 330.98 L1309.37 330.86 L1311.96 330.74 L1314.55 330.61 L1317.14 330.49 L1319.73 330.37 L1322.32 330.25 L1324.91 330.12 L1327.5 330 L1330.41 333.3 L1333.29 336.59 L1336.16 339.86 L1339.04 343.12 L1341.91 346.36 L1344.79 349.59 L1347.66 352.8 L1350.54 356 L1353.41 359.18 L1356.29 362.35 L1359.16 365.51 L1362.04 368.66 L1364.91 371.79 L1367.79 374.91 L1370.66 378.01 L1373.54 381.11 L1376.41 384.19 L1379.29 387.26 L1382.16 390.32 L1385.04 393.37 L1387.91 396.41 L1390.79 399.43 L1393.66 402.45 L1396.53 405.45 L1399.41 408.45 L1402.28 411.43 L1405.16 414.41 L1408.03 417.38 L1410.91 420.33 L1413.78 423.28 L1416.66 426.22 L1419.53 429.14 L1422.41 432.06 L1425.28 434.97 L1428.16 437.88 L1431.03 440.77 L1433.91 443.65 L1436.78 446.53 L1439.66 449.4" stroke="#00ffff" stroke-width="2.5"/>
<path d="M915.8 411.75 L918.39 411.81 L920.98 411.87 L923.57 411.93 L926.16 412 L928.75 412.06 L931.34 412.12 L933.93 412.18 L936.51 412.25 L939.1 412.31 L941.69 412.38 L944.28 412.44 L946.87 412.5 L949.46 412.57 L952.05 412.63 L954.64 412.7 L957.23 412.76 L959.82 412.83 L962.41 412.9 L965 412.96 L967.59 413.03 L970.18 413.1 L972.76 413.16 L975.35 413.23 L977.94 413.3 L980.53 413.37 L983.12 413.44 L985.71 413.51 L988.3 413.57 L990.89 413.64 L993.48 413.71 L996.07 413.78 L998.66 413.85 L1001.25 413.92 L1003.84 413.99 L1006.43 414.06 L1009.02 414.13 L1011.6 414.21 L1014.19 414.28 L1016.78 414.35 L1019.37 414.42 L1021.96 414.49 L1024.55 414.57 L1027.14 414.64 L1029.73 414.71 L1032.32 414.79 L1034.91 414.86 L1037.5 414.94 L1040.09 415.01 L1042.68 415.09 L1045.27 415.16 L1047.85 415.24 L1050.44 415.32 L1053.03 415.39 L1055.62 415.47 L1058.21 415.55 L1060.8 415.63 L1063.39 415.7 L1065.98 415.78 L1068.57 415.86 L1071.16 415.94 L1073.75 416.02 L1076.34 416.1 L1078.93 416.18 L1081.52 416.26 L1084.11 416.33 L1086.69 416.41 L1089.28 416.49 L1091.87 416.58 L1094.46 416.66 L1097.05 416.74 L1099.64 416.82 L1102.23 416.9 L1104.82 416.98 L1107.41 417.06 L1110 417.14 L1112.59 417.22 L1115.18 417.31 L1117.77 417.39 L1120.36 417.47 L1122.94 417.55 L1125.53 417.64 L1128.12 417.72 L1130.71 417.8 L1133.3 417.89 L1135.89 417.97 L1138.48 418.06 L1141.07 418.14 L1143.66 418.23 L1146.25 418.31 L1148.84 418.4 L1151.43 418.48 L1154.02 418.57 L1156.61 418.65 L1159.19 418.74 L1161.78 418.83 L1164.37 418.91 L1166.96 419 L1169.55 419.09 L1172.14 419.18 L1174.73 419.26 L1177.32 419.35 L1179.91 419.44 L1182.5 419.53 L1185.09 419.61 L1187.68 419.7 L1190.27 419.79 L1192.86 419.88 L1195.45 419.97 L1198.03 420.05 L1200.62 420.14 L1203.21 420.23 L1205.8 420.32 L1208.39 420.41 L1210.98 420.49 L1213.57 420.58 L1216.16 420.67 L1218.75 420.76 L1221.34 420.85 L1223.93 420.93 L1226.52 421.02 L1229.11 421.11 L1231.7 421.2 L1234.28 421.28 L1236.87 421.37 L1239.46 421.46 L1242.05 421.55 L1244.64 421.64 L1247.23 421.73 L1249.82 421.81 L1252.41 421.9 L1255 421.99 L1257.59 422.08 L1260.18 422.17 L1262.77 422.26 L1265.36 422.35 L1267.95 422.44 L1270.54 422.52 L1273.12 422.61 L1275.71 422.7 L1278.3 422.79 L1280.89 422.88 L1283.48 422.97 L1286.07 423.06 L1288.66 423.15 L1291.25 423.24 L1293.84 423.33 L1296.43 423.42 L1299.02 423.51 L1301.61 423.6 L1304.2 423.69 L1306.79 423.78 L1309.37 423.87 L1311.96 423.96 L1314.55 424.05 L1317.14 424.14 L1319.73 424.23 L1322.32 424.32 L1324.91 424.41 L1327.5 424.5 L1330.41 425.19 L1333.29 425.87 L1336.16 426.56 L1339.04 427.24 L1341.91 427.91 L1344.79 428.58 L1347.66 429.25 L1350.54 429.92 L1353.41 430.59 L1356.29 431.25 L1359.16 431.91 L1362.04 432.56 L1364.91 433.21 L1367.79 433.86 L1370.66 434.51 L1373.54 435.16 L1376.41 435.8 L1379.29 436.44 L1382.16 437.08 L1385.04 437.72 L1387.91 438.35 L1390.79 438.98 L1393.66 439.61 L1396.53 440.24 L1399.41 440.86 L1402.28 441.48 L1405.16 442.1 L1408.03 442.72 L1410.91 443.34 L1413.78 443.95 L1416.66 444.56 L1419.53 445.18 L1422.41 445.78 L1425.28 446.39 L1428.16 447 L1431.03 447.6 L1433.91 448.2 L1436.78 448.8 L1439.66 449.4" stroke="#00ffff" stroke-width="2.5"/>
<path d="M915.8 420.75 L918.39 420.84 L920.98 420.94 L923.57 421.03 L926.16 421.13 L928.75 421.22 L931.34 421.32 L933.93 421.41 L936.51 421.51 L939.1 421.6 L941.69 421.69 L944.28 421.79 L946.87 421.88 L949.46 421.97 L952.05 422.07 L954.64 422.16 L957.23 422.25 L959.82 422.35 L962.41 422.44 L965 422.53 L967.59 422.63 L970.18 422.72 L972.76 422.81 L975.35 422.9 L977.94 422.99 L980.53 423.09 L983.12 423.18 L985.71 423.27 L988.3 423.36 L990.89 423.45 L993.48 423.55 L996.07 423.64 L998.66 423.73 L1001.25 423.82 L1003.84 423.91 L1006.43 424 L1009.02 424.09 L1011.6 424.18 L1014.19 424.27 L1016.78 424.36 L1019.37 424.45 L1021.96 424.54 L1024.55 424.63 L1027.14 424.73 L1029.73 424.82 L1032.32 424.91 L1034.91 425 L1037.5 425.09 L1040.09 425.18 L1042.68 425.27 L1045.27 425.36 L1047.85 425.46 L1050.44 425.55 L1053.03 425.64 L1055.62 425.73 L1058.21 425.82 L1060.8 425.91 L1063.39 426 L1065.98 426.09 L1068.57 426.18 L1071.16 426.27 L1073.75 426.36 L1076.34 426.44 L1078.93 426.53 L1081.52 426.62 L1084.11 426.71 L1086.69 426.79 L1089.28 426.88 L1091.87 426.97 L1094.46 427.05 L1097.05 427.13 L1099.64 427.22 L1102.23 427.3 L1104.82 427.38 L1107.41 427.47 L1110 427.55 L1112.59 427.63 L1115.18 427.71 L1117.77 427.78 L1120.36 427.86 L1122.94 427.94 L1125.53 428.02 L1128.12 428.1 L1130.71 428.17 L1133.3 428.25 L1135.89 428.33 L1138.48 428.4 L1141.07 428.48 L1143.66 428.55 L1146.25 428.63 L1148.84 428.7 L1151.43 428.77 L1154.02 428.85 L1156.61 428.92 L1159.19 428.99 L1161.78 429.07 L1164.37 429.14 L1166.96 429.21 L1169.55 429.28 L1172.14 429.35 L1174.73 429.42 L1177.32 429.49 L1179.91 429.56 L1182.5 429.63 L1185.09 429.7 L1187.68 429.77 L1190.27 429.84 L1192.86 429.91 L1195.45 429.98 L1198.03 430.04 L1200.62 430.11 L1203.21 430.18 L1205.8 430.24 L1208.39 430.31 L1210.98 430.37 L1213.57 430.44 L1216.16 430.5 L1218.75 430.57 L1221.34 430.63 L1223.93 430.7 L1226.52 430.76 L1229.11 430.82 L1231.7 430.89 L1234.28 430.95 L1236.87 431.01 L1239.46 431.07 L1242.05 431.14 L1244.64 431.2 L1247.23 431.26 L1249.82 431.32 L1252.41 431.38 L1255 431.44 L1257.59 431.5 L1260.18 431.56 L1262.77 431.62 L1265.36 431.68 L1267.95 431.74 L1270.54 431.8 L1273.12 431.85 L1275.71 431.91 L1278.3 431.97 L1280.89 432.03 L1283.48 432.08 L1286.07 432.14 L1288.66 432.2 L1291.25 432.25 L1293.84 432.31 L1296.43 432.36 L1299.02 432.42 L1301.61 432.47 L1304.2 432.53 L1306.79 432.58 L1309.37 432.63 L1311.96 432.69 L1314.55 432.74 L1317.14 432.79 L1319.73 432.85 L1322.32 432.9 L1324.91 432.95 L1327.5 433 L1330.41 433.45 L1333.29 433.91 L1336.16 434.35 L1339.04 434.8 L1341.91 435.25 L1344.79 435.69 L1347.66 436.13 L1350.54 436.57 L1353.41 437.01 L1356.29 437.44 L1359.16 437.88 L1362.04 438.31 L1364.91 438.74 L1367.79 439.17 L1370.66 439.59 L1373.54 440.02 L1376.41 440.44 L1379.29 440.87 L1382.16 441.29 L1385.04 441.7 L1387.91 442.12 L1390.79 442.54 L1393.66 442.95 L1396.53 443.36 L1399.41 443.78 L1402.28 444.19 L1405.16 444.59 L1408.03 445 L1410.91 445.41 L1413.78 445.81 L1416.66 446.22 L1419.53 446.62 L1422.41 447.02 L1425.28 447.42 L1428.16 447.82 L1431.03 448.21 L1433.91 448.61 L1436.78 449.01 L1439.66 449.4" stroke="#00ffff" stroke-width="2.5"/>
<path d="M915.8 436.75 L918.39 436.83 L920.98 436.92 L923.57 437 L926.16 437.08 L928.75 437.16 L931.34 437.24 L933.93 437.32 L936.51 437.41 L939.1 437.49 L941.69 437.57 L944.28 437.65 L946.87 437.73 L949.46 437.81 L952.05 437.88 L954.64 437.96 L957.23 438.04 L959.82 438.12 L962.41 438.2 L965 438.27 L967.59 438.35 L970.18 438.43 L972.76 438.5 L975.35 438.58 L977.94 438.66 L980.53 438.73 L983.12 438.81 L985.71 438.88 L988.3 438.96 L990.89 439.03 L993.48 439.1 L996.07 439.18 L998.66 439.25 L1001.25 439.32 L1003.84 439.39 L1006.43 439.47 L1009.02 439.54 L1011.6 439.61 L1014.19 439.68 L1016.78 439.75 L1019.37 439.82 L1021.96 439.89 L1024.55 439.96 L1027.14 440.03 L1029.73 440.11 L1032.32 440.18 L1034.91 440.25 L1037.5 440.32 L1040.09 440.4 L1042.68 440.47 L1045.27 440.54 L1047.85 440.61 L1050.44 440.69 L1053.03 440.76 L1055.62 440.83 L1058.21 440.9 L1060.8 440.97 L1063.39 441.04 L1065.98 441.11 L1068.57 441.18 L1071.16 441.24 L1073.75 441.31 L1076.34 441.38 L1078.93 441.44 L1081.52 441.5 L1084.11 441.57 L1086.69 441.63 L1089.28 441.69 L1091.87 441.75 L1094.46 441.8 L1097.05 441.86 L1099.64 441.91 L1102.23 441.97 L1104.82 442.02 L1107.41 442.07 L1110 442.11 L1112.59 442.16 L1115.18 442.2 L1117.77 442.25 L1120.36 442.29 L1122.94 442.33 L1125.53 442.37 L1128.12 442.41 L1130.71 442.45 L1133.3 442.49 L1135.89 442.53 L1138.48 442.56 L1141.07 442.6 L1143.66 442.64 L1146.25 442.67 L1148.84 442.71 L1151.43 442.75 L1154.02 442.78 L1156.61 442.81 L1159.19 442.85 L1161.78 442.88 L1164.37 442.91 L1166.96 442.94 L1169.55 442.98 L1172.14 443.01 L1174.73 443.04 L1177.32 443.07 L1179.91 443.1 L1182.5 443.13 L1185.09 443.15 L1187.68 443.18 L1190.27 443.21 L1192.86 443.24 L1195.45 443.26 L1198.03 443.29 L1200.62 443.32 L1203.21 443.34 L1205.8 443.37 L1208.39 443.39 L1210.98 443.42 L1213.57 443.44 L1216.16 443.47 L1218.75 443.49 L1221.34 443.51 L1223.93 443.53 L1226.52 443.56 L1229.11 443.58 L1231.7 443.6 L1234.28 443.63 L1236.87 443.65 L1239.46 443.67 L1242.05 443.69 L1244.64 443.71 L1247.23 443.73 L1249.82 443.75 L1252.41 443.78 L1255 443.8 L1257.59 443.82 L1260.18 443.84 L1262.77 443.86 L1265.36 443.88 L1267.95 443.9 L1270.54 443.91 L1273.12 443.93 L1275.71 443.95 L1278.3 443.97 L1280.89 443.99 L1283.48 444.01 L1286.07 444.02 L1288.66 444.04 L1291.25 444.06 L1293.84 444.07 L1296.43 444.09 L1299.02 444.1 L1301.61 444.12 L1304.2 444.13 L1306.79 444.15 L1309.37 444.16 L1311.96 444.18 L1314.55 444.19 L1317.14 444.2 L1319.73 444.22 L1322.32 444.23 L1324.91 444.24 L1327.5 444.25 L1330.41 444.39 L1333.29 444.53 L1336.16 444.68 L1339.04 444.82 L1341.91 444.96 L1344.79 445.09 L1347.66 445.23 L1350.54 445.37 L1353.41 445.51 L1356.29 445.65 L1359.16 445.78 L1362.04 445.92 L1364.91 446.05 L1367.79 446.19 L1370.66 446.32 L1373.54 446.45 L1376.41 446.59 L1379.29 446.72 L1382.16 446.85 L1385.04 446.98 L1387.91 447.11 L1390.79 447.24 L1393.66 447.37 L1396.53 447.5 L1399.41 447.63 L1402.28 447.76 L1405.16 447.89 L1408.03 448.02 L1410.91 448.15 L1413.78 448.27 L1416.66 448.4 L1419.53 448.53 L1422.41 448.65 L1425.28 448.78 L1428.16 448.9 L1431.03 449.03 L1433.91 449.15 L1436.78 449.28 L1439.66 449.4" stroke="#00ffff" stroke-width="2.5"/>
<path d="M915.8 358.3 L918.39 358.26 L920.98 358.23 L923.57 358.19 L926.16 358.15 L928.75 358.1 L931.34 358.06 L933.93 358.01 L936.51 357.97 L939.1 357.92 L941.69 357.87 L944.28 357.82 L946.87 357.76 L949.46 357.71 L952.05 357.65 L954.64 357.6 L957.23 357.54 L959.82 357.48 L962.41 357.42 L965 357.35 L967.59 357.29 L970.18 357.23 L972.76 357.16 L975.35 357.09 L977.94 357.02 L980.53 356.96 L983.12 356.89 L985.71 356.81 L988.3 356.74 L990.89 356.67 L993.48 356.6 L996.07 356.52 L998.66 356.45 L1001.25 356.37 L1003.84 356.29 L1006.43 356.22 L1009.02 356.14 L1011.6 356.06 L1014.19 355.98 L1016.78 355.9 L1019.37 355.82 L1021.96 355.74 L1024.55 355.65 L1027.14 355.56 L1029.73 355.47 L1032.32 355.37 L1034.91 355.26 L1037.5 355.16 L1040.09 355.05 L1042.68 354.94 L1045.27 354.83 L1047.85 354.71 L1050.44 354.59 L1053.03 354.47 L1055.62 354.35 L1058.21 354.22 L1060.8 354.1 L1063.39 353.97 L1065.98 353.85 L1068.57 353.72 L1071.16 353.59 L1073.75 353.46 L1076.34 353.34 L1078.93 353.21 L1081.52 353.08 L1084.11 352.96 L1086.69 352.83 L1089.28 352.71 L1091.87 352.59 L1094.46 352.47 L1097.05 352.35 L1099.64 352.23 L1102.23 352.12 L1104.82 352.01 L1107.41 351.9 L1110 351.79 L1112.59 351.69 L1115.18 351.59 L1117.77 351.5 L1120.36 351.4 L1122.94 351.3 L1125.53 351.21 L1128.12 351.11 L1130.71 351.02 L1133.3 350.92 L1135.89 350.83 L1138.48 350.73 L1141.07 350.64 L1143.66 350.55 L1146.25 350.45 L1148.84 350.36 L1151.43 350.27 L1154.02 350.17 L1156.61 350.08 L1159.19 349.99 L1161.78 349.9 L1164.37 349.8 L1166.96 349.71 L1169.55 349.62 L1172.14 349.53 L1174.73 349.44 L1177.32 349.35 L1179.91 349.26 L1182.5 349.17 L1185.09 349.09 L1187.68 349 L1190.27 348.91 L1192.86 348.82 L1195.45 348.74 L1198.03 348.65 L1200.62 348.56 L1203.21 348.48 L1205.8 348.39 L1208.39 348.31 L1210.98 348.22 L1213.57 348.14 L1216.16 348.06 L1218.75 347.97 L1221.34 347.89 L1223.93 347.81 L1226.52 347.73 L1229.11 347.65 L1231.7 347.56 L1234.28 347.48 L1236.87 347.41 L1239.46 347.33 L1242.05 347.25 L1244.64 347.17 L1247.23 347.09 L1249.82 347.02 L1252.41 346.94 L1255 346.86 L1257.59 346.79 L1260.18 346.71 L1262.77 346.64 L1265.36 346.57 L1267.95 346.49 L1270.54 346.42 L1273.12 346.35 L1275.71 346.28 L1278.3 346.21 L1280.89 346.14 L1283.48 346.07 L1286.07 346 L1288.66 345.93 L1291.25 345.87 L1293.84 345.8 L1296.43 345.73 L1299.02 345.67 L1301.61 345.61 L1304.2 345.54 L1306.79 345.48 L1309.37 345.42 L1311.96 345.35 L1314.55 345.29 L1317.14 345.23 L1319.73 345.17 L1322.32 345.12 L1324.91 345.06 L1327.5 345 L1330.41 347.89 L1333.29 350.76 L1336.16 353.62 L1339.04 356.47 L1341.91 359.31 L1344.79 362.13 L1347.66 364.94 L1350.54 367.73 L1353.41 370.52 L1356.29 373.29 L1359.16 376.05 L1362.04 378.8 L1364.91 381.54 L1367.79 384.26 L1370.66 386.98 L1373.54 389.69 L1376.41 392.38 L1379.29 395.07 L1382.16 397.74 L1385.04 400.41 L1387.91 403.06 L1390.79 405.71 L1393.66 408.35 L1396.53 410.98 L1399.41 413.59 L1402.28 416.2 L1405.16 418.81 L1408.03 421.4 L1410.91 423.98 L1413.78 426.56 L1416.66 429.13 L1419.53 431.69 L1422.41 434.24 L1425.28 436.79 L1428.16 439.32 L1431.03 441.85 L1433.91 444.38 L1436.78 446.89 L1439.66 449.4" stroke="#ff0000" stroke-width="1.45" stroke-dasharray="7.6 5.27"/>
<path d="M915.8 364.2 L918.39 364.17 L920.98 364.13 L923.57 364.1 L926.16 364.06 L928.75 364.02 L931.34 363.99 L933.93 363.95 L936.51 363.91 L939.1 363.87 L941.69 363.83 L944.28 363.79 L946.87 363.75 L949.46 363.71 L952.05 363.67 L954.64 363.62 L957.23 363.58 L959.82 363.54 L962.41 363.49 L965 363.45 L967.59 363.4 L970.18 363.36 L972.76 363.31 L975.35 363.27 L977.94 363.22 L980.53 363.17 L983.12 363.12 L985.71 363.07 L988.3 363.03 L990.89 362.98 L993.48 362.93 L996.07 362.88 L998.66 362.83 L1001.25 362.78 L1003.84 362.73 L1006.43 362.67 L1009.02 362.62 L1011.6 362.57 L1014.19 362.52 L1016.78 362.47 L1019.37 362.41 L1021.96 362.36 L1024.55 362.3 L1027.14 362.25 L1029.73 362.19 L1032.32 362.13 L1034.91 362.07 L1037.5 362 L1040.09 361.94 L1042.68 361.87 L1045.27 361.81 L1047.85 361.74 L1050.44 361.67 L1053.03 361.6 L1055.62 361.53 L1058.21 361.46 L1060.8 361.39 L1063.39 361.32 L1065.98 361.25 L1068.57 361.18 L1071.16 361.11 L1073.75 361.04 L1076.34 360.97 L1078.93 360.9 L1081.52 360.83 L1084.11 360.76 L1086.69 360.69 L1089.28 360.62 L1091.87 360.55 L1094.46 360.48 L1097.05 360.42 L1099.64 360.35 L1102.23 360.29 L1104.82 360.23 L1107.41 360.17 L1110 360.11 L1112.59 360.05 L1115.18 360 L1117.77 359.94 L1120.36 359.89 L1122.94 359.83 L1125.53 359.78 L1128.12 359.72 L1130.71 359.67 L1133.3 359.61 L1135.89 359.56 L1138.48 359.51 L1141.07 359.45 L1143.66 359.4 L1146.25 359.35 L1148.84 359.29 L1151.43 359.24 L1154.02 359.19 L1156.61 359.13 L1159.19 359.08 L1161.78 359.03 L1164.37 358.98 L1166.96 358.93 L1169.55 358.87 L1172.14 358.82 L1174.73 358.77 L1177.32 358.72 L1179.91 358.67 L1182.5 358.62 L1185.09 358.57 L1187.68 358.52 L1190.27 358.47 L1192.86 358.42 L1195.45 358.37 L1198.03 358.32 L1200.62 358.27 L1203.21 358.22 L1205.8 358.17 L1208.39 358.12 L1210.98 358.08 L1213.57 358.03 L1216.16 357.98 L1218.75 357.93 L1221.34 357.89 L1223.93 357.84 L1226.52 357.79 L1229.11 357.75 L1231.7 357.7 L1234.28 357.66 L1236.87 357.61 L1239.46 357.57 L1242.05 357.52 L1244.64 357.48 L1247.23 357.43 L1249.82 357.39 L1252.41 357.35 L1255 357.3 L1257.59 357.26 L1260.18 357.22 L1262.77 357.18 L1265.36 357.14 L1267.95 357.1 L1270.54 357.05 L1273.12 357.01 L1275.71 356.97 L1278.3 356.93 L1280.89 356.89 L1283.48 356.86 L1286.07 356.82 L1288.66 356.78 L1291.25 356.74 L1293.84 356.7 L1296.43 356.67 L1299.02 356.63 L1301.61 356.59 L1304.2 356.56 L1306.79 356.52 L1309.37 356.48 L1311.96 356.45 L1314.55 356.42 L1317.14 356.38 L1319.73 356.35 L1322.32 356.31 L1324.91 356.28 L1327.5 356.25 L1330.41 358.83 L1333.29 361.39 L1336.16 363.94 L1339.04 366.49 L1341.91 369.01 L1344.79 371.53 L1347.66 374.04 L1350.54 376.53 L1353.41 379.02 L1356.29 381.49 L1359.16 383.95 L1362.04 386.41 L1364.91 388.85 L1367.79 391.28 L1370.66 393.71 L1373.54 396.12 L1376.41 398.53 L1379.29 400.92 L1382.16 403.31 L1385.04 405.69 L1387.91 408.06 L1390.79 410.42 L1393.66 412.77 L1396.53 415.12 L1399.41 417.45 L1402.28 419.78 L1405.16 422.1 L1408.03 424.42 L1410.91 426.72 L1413.78 429.02 L1416.66 431.31 L1419.53 433.6 L1422.41 435.87 L1425.28 438.15 L1428.16 440.41 L1431.03 442.67 L1433.91 444.92 L1436.78 447.16 L1439.66 449.4" stroke="#ff0000" stroke-width="1.45" stroke-dasharray="7.6 5.27"/>
<path d="M915.8 369.5 L918.39 369.47 L920.98 369.44 L923.57 369.41 L926.16 369.38 L928.75 369.35 L931.34 369.31 L933.93 369.28 L936.51 369.25 L939.1 369.22 L941.69 369.19 L944.28 369.16 L946.87 369.13 L949.46 369.1 L952.05 369.07 L954.64 369.04 L957.23 369.01 L959.82 368.98 L962.41 368.96 L965 368.93 L967.59 368.9 L970.18 368.87 L972.76 368.84 L975.35 368.81 L977.94 368.78 L980.53 368.75 L983.12 368.73 L985.71 368.7 L988.3 368.67 L990.89 368.64 L993.48 368.61 L996.07 368.59 L998.66 368.56 L1001.25 368.53 L1003.84 368.5 L1006.43 368.48 L1009.02 368.45 L1011.6 368.42 L1014.19 368.4 L1016.78 368.37 L1019.37 368.34 L1021.96 368.32 L1024.55 368.29 L1027.14 368.27 L1029.73 368.24 L1032.32 368.22 L1034.91 368.19 L1037.5 368.17 L1040.09 368.14 L1042.68 368.12 L1045.27 368.09 L1047.85 368.07 L1050.44 368.04 L1053.03 368.02 L1055.62 368 L1058.21 367.97 L1060.8 367.95 L1063.39 367.92 L1065.98 367.9 L1068.57 367.88 L1071.16 367.86 L1073.75 367.83 L1076.34 367.81 L1078.93 367.79 L1081.52 367.77 L1084.11 367.74 L1086.69 367.72 L1089.28 367.7 L1091.87 367.68 L1094.46 367.66 L1097.05 367.64 L1099.64 367.62 L1102.23 367.6 L1104.82 367.58 L1107.41 367.56 L1110 367.54 L1112.59 367.52 L1115.18 367.5 L1117.77 367.48 L1120.36 367.46 L1122.94 367.44 L1125.53 367.42 L1128.12 367.4 L1130.71 367.38 L1133.3 367.37 L1135.89 367.35 L1138.48 367.33 L1141.07 367.31 L1143.66 367.29 L1146.25 367.27 L1148.84 367.25 L1151.43 367.24 L1154.02 367.22 L1156.61 367.2 L1159.19 367.18 L1161.78 367.16 L1164.37 367.15 L1166.96 367.13 L1169.55 367.11 L1172.14 367.09 L1174.73 367.07 L1177.32 367.06 L1179.91 367.04 L1182.5 367.02 L1185.09 367.01 L1187.68 366.99 L1190.27 366.97 L1192.86 366.95 L1195.45 366.94 L1198.03 366.92 L1200.62 366.9 L1203.21 366.89 L1205.8 366.87 L1208.39 366.86 L1210.98 366.84 L1213.57 366.82 L1216.16 366.81 L1218.75 366.79 L1221.34 366.78 L1223.93 366.76 L1226.52 366.75 L1229.11 366.73 L1231.7 366.71 L1234.28 366.7 L1236.87 366.68 L1239.46 366.67 L1242.05 366.66 L1244.64 366.64 L1247.23 366.63 L1249.82 366.61 L1252.41 366.6 L1255 366.58 L1257.59 366.57 L1260.18 366.56 L1262.77 366.54 L1265.36 366.53 L1267.95 366.52 L1270.54 366.5 L1273.12 366.49 L1275.71 366.48 L1278.3 366.46 L1280.89 366.45 L1283.48 366.44 L1286.07 366.43 L1288.66 366.41 L1291.25 366.4 L1293.84 366.39 L1296.43 366.38 L1299.02 366.37 L1301.61 366.36 L1304.2 366.34 L1306.79 366.33 L1309.37 366.32 L1311.96 366.31 L1314.55 366.3 L1317.14 366.29 L1319.73 366.28 L1322.32 366.27 L1324.91 366.26 L1327.5 366.25 L1330.41 368.55 L1333.29 370.84 L1336.16 373.12 L1339.04 375.39 L1341.91 377.64 L1344.79 379.89 L1347.66 382.13 L1350.54 384.36 L1353.41 386.57 L1356.29 388.78 L1359.16 390.98 L1362.04 393.17 L1364.91 395.35 L1367.79 397.52 L1370.66 399.69 L1373.54 401.84 L1376.41 403.99 L1379.29 406.13 L1382.16 408.26 L1385.04 410.38 L1387.91 412.5 L1390.79 414.6 L1393.66 416.7 L1396.53 418.8 L1399.41 420.88 L1402.28 422.96 L1405.16 425.03 L1408.03 427.1 L1410.91 429.16 L1413.78 431.21 L1416.66 433.25 L1419.53 435.29 L1422.41 437.33 L1425.28 439.35 L1428.16 441.37 L1431.03 443.39 L1433.91 445.4 L1436.78 447.4 L1439.66 449.4" stroke="#ff0000" stroke-width="1.45" stroke-dasharray="7.6 5.27"/>
<path d="M915.8 375.5 L918.39 375.5 L920.98 375.5 L923.57 375.5 L926.16 375.5 L928.75 375.5 L931.34 375.5 L933.93 375.5 L936.51 375.5 L939.1 375.5 L941.69 375.5 L944.28 375.5 L946.87 375.5 L949.46 375.5 L952.05 375.5 L954.64 375.5 L957.23 375.5 L959.82 375.5 L962.41 375.5 L965 375.5 L967.59 375.5 L970.18 375.5 L972.76 375.5 L975.35 375.5 L977.94 375.5 L980.53 375.5 L983.12 375.5 L985.71 375.5 L988.3 375.5 L990.89 375.5 L993.48 375.5 L996.07 375.5 L998.66 375.5 L1001.25 375.5 L1003.84 375.5 L1006.43 375.5 L1009.02 375.5 L1011.6 375.5 L1014.19 375.5 L1016.78 375.5 L1019.37 375.5 L1021.96 375.5 L1024.55 375.5 L1027.14 375.5 L1029.73 375.5 L1032.32 375.5 L1034.91 375.5 L1037.5 375.5 L1040.09 375.5 L1042.68 375.5 L1045.27 375.5 L1047.85 375.5 L1050.44 375.5 L1053.03 375.5 L1055.62 375.5 L1058.21 375.5 L1060.8 375.5 L1063.39 375.5 L1065.98 375.5 L1068.57 375.5 L1071.16 375.5 L1073.75 375.5 L1076.34 375.5 L1078.93 375.5 L1081.52 375.5 L1084.11 375.5 L1086.69 375.5 L1089.28 375.5 L1091.87 375.5 L1094.46 375.5 L1097.05 375.5 L1099.64 375.5 L1102.23 375.5 L1104.82 375.5 L1107.41 375.5 L1110 375.5 L1112.59 375.5 L1115.18 375.5 L1117.77 375.5 L1120.36 375.5 L1122.94 375.5 L1125.53 375.5 L1128.12 375.5 L1130.71 375.5 L1133.3 375.5 L1135.89 375.5 L1138.48 375.5 L1141.07 375.5 L1143.66 375.5 L1146.25 375.5 L1148.84 375.5 L1151.43 375.5 L1154.02 375.5 L1156.61 375.5 L1159.19 375.5 L1161.78 375.5 L1164.37 375.5 L1166.96 375.5 L1169.55 375.5 L1172.14 375.5 L1174.73 375.5 L1177.32 375.5 L1179.91 375.5 L1182.5 375.5 L1185.09 375.5 L1187.68 375.5 L1190.27 375.5 L1192.86 375.5 L1195.45 375.5 L1198.03 375.5 L1200.62 375.5 L1203.21 375.5 L1205.8 375.5 L1208.39 375.5 L1210.98 375.5 L1213.57 375.5 L1216.16 375.5 L1218.75 375.5 L1221.34 375.5 L1223.93 375.5 L1226.52 375.5 L1229.11 375.5 L1231.7 375.5 L1234.28 375.5 L1236.87 375.5 L1239.46 375.5 L1242.05 375.5 L1244.64 375.5 L1247.23 375.5 L1249.82 375.5 L1252.41 375.5 L1255 375.5 L1257.59 375.5 L1260.18 375.5 L1262.77 375.5 L1265.36 375.5 L1267.95 375.5 L1270.54 375.5 L1273.12 375.5 L1275.71 375.5 L1278.3 375.5 L1280.89 375.5 L1283.48 375.5 L1286.07 375.5 L1288.66 375.5 L1291.25 375.5 L1293.84 375.5 L1296.43 375.5 L1299.02 375.5 L1301.61 375.5 L1304.2 375.5 L1306.79 375.5 L1309.37 375.5 L1311.96 375.5 L1314.55 375.5 L1317.14 375.5 L1319.73 375.5 L1322.32 375.5 L1324.91 375.5 L1327.5 375.5 L1330.41 377.54 L1333.29 379.58 L1336.16 381.6 L1339.04 383.62 L1341.91 385.63 L1344.79 387.62 L1347.66 389.61 L1350.54 391.59 L1353.41 393.56 L1356.29 395.52 L1359.16 397.48 L1362.04 399.43 L1364.91 401.36 L1367.79 403.29 L1370.66 405.22 L1373.54 407.13 L1376.41 409.04 L1379.29 410.94 L1382.16 412.83 L1385.04 414.72 L1387.91 416.6 L1390.79 418.47 L1393.66 420.34 L1396.53 422.2 L1399.41 424.05 L1402.28 425.9 L1405.16 427.74 L1408.03 429.58 L1410.91 431.41 L1413.78 433.23 L1416.66 435.05 L1419.53 436.86 L1422.41 438.67 L1425.28 440.47 L1428.16 442.27 L1431.03 444.06 L1433.91 445.84 L1436.78 447.62 L1439.66 449.4" stroke="#ff0000" stroke-width="1.45" stroke-dasharray="7.6 5.27"/>
<path d="M973.52 27.41 L973.74 28.96 L973.95 30.5 L974.17 32.04 L974.39 33.56 L974.6 35.07 L974.82 36.56 L975.04 38.05 L975.25 39.53 L975.47 40.99 L975.69 42.45 L975.9 43.89 L976.12 45.33 L976.34 46.75 L976.55 48.16 L976.77 49.57 L976.99 50.96 L977.2 52.35 L977.42 53.72 L977.64 55.09 L977.85 56.44 L978.07 57.79 L978.29 59.13 L978.5 60.46 L978.72 61.78 L978.94 63.09 L979.15 64.39 L979.37 65.68 L979.59 66.96 L979.8 68.24 L980.02 69.51 L980.23 70.76 L983.15 86.94 L986.07 101.79 L988.99 115.46 L991.91 128.1 L994.83 139.8 L997.75 150.67 L1000.66 160.8 L1003.58 170.24 L1006.5 179.08 L1009.42 187.35 L1012.34 195.11 L1015.26 202.41 L1018.18 209.29 L1021.09 215.78 L1024.01 221.92 L1026.93 227.72 L1029.85 233.23 L1032.77 238.46 L1035.69 243.43 L1038.61 248.16 L1041.52 252.67 L1044.44 256.98 L1047.36 261.09 L1050.28 265.03 L1053.2 268.8 L1056.12 272.41 L1059.04 275.88 L1061.95 279.21 L1064.87 282.41 L1067.79 285.49 L1070.71 288.46 L1073.63 291.33 L1076.55 294.09 L1079.46 296.76 L1082.38 299.33 L1085.3 301.83 L1088.22 304.24 L1091.14 306.58 L1094.06 308.85 L1096.98 311.05 L1099.89 313.19 L1102.81 315.27 L1105.73 317.29 L1108.65 319.25 L1111.57 321.17 L1114.49 323.02 L1117.41 324.83 L1120.32 326.58 L1123.24 328.28 L1126.16 329.94 L1129.08 331.55 L1132 333.12 L1134.92 334.65 L1137.84 336.14 L1140.75 337.59 L1143.67 339.01 L1146.59 340.38 L1149.51 341.73 L1152.43 343.04 L1155.35 344.32 L1158.27 345.57 L1161.18 346.79 L1164.1 347.99 L1167.02 349.15 L1169.94 350.29 L1172.86 351.41 L1175.78 352.49 L1178.69 353.56 L1181.61 354.6 L1184.53 355.62 L1187.45 356.62 L1190.37 357.6 L1193.29 358.55 L1196.21 359.49 L1199.12 360.41 L1202.04 361.31 L1204.96 362.19 L1207.88 363.05 L1210.8 363.9 L1213.72 364.73 L1216.64 365.55 L1219.55 366.35 L1222.47 367.13 L1225.39 367.9 L1228.31 368.66 L1231.23 369.4 L1234.15 370.13 L1237.07 370.84 L1239.98 371.54 L1242.9 372.23 L1245.82 372.91 L1248.74 373.57 L1251.66 374.23 L1254.58 374.87 L1257.5 375.5 L1260.41 376.12 L1263.33 376.74 L1266.25 377.34 L1269.17 377.93 L1272.09 378.51 L1275.01 379.08 L1277.92 379.64 L1280.84 380.2 L1283.76 380.74 L1286.68 381.28 L1289.6 381.81 L1292.52 382.33 L1295.44 382.84 L1298.35 383.35 L1301.27 383.85 L1304.19 384.34 L1307.11 384.82 L1310.03 385.3 L1312.95 385.76 L1315.87 386.23 L1318.78 386.68 L1321.7 387.13 L1324.62 387.58 L1327.54 388.01 L1330.41 389.71 L1333.29 391.4 L1336.16 393.08 L1339.04 394.76 L1341.91 396.43 L1344.79 398.08 L1347.66 399.74 L1350.54 401.38 L1353.41 403.02 L1356.29 404.65 L1359.16 406.27 L1362.04 407.89 L1364.91 409.5 L1367.79 411.1 L1370.66 412.7 L1373.54 414.29 L1376.41 415.87 L1379.29 417.45 L1382.16 419.03 L1385.04 420.59 L1387.91 422.15 L1390.79 423.71 L1393.66 425.26 L1396.53 426.81 L1399.41 428.35 L1402.28 429.88 L1405.16 431.41 L1408.03 432.94 L1410.91 434.46 L1413.78 435.97 L1416.66 437.48 L1419.53 438.99 L1422.41 440.49 L1425.28 441.98 L1428.16 443.47 L1431.03 444.96 L1433.91 446.45 L1436.78 447.93 L1439.66 449.4" stroke="#00ff00" stroke-width="2.5"/>
<path d="M972 28.19 L972.22 29.79 L972.44 31.38 L972.65 32.95 L972.87 34.52 L973.09 36.07 L973.3 37.61 L973.52 39.14 L973.74 40.65 L973.95 42.16 L974.17 43.66 L974.39 45.14 L974.6 46.62 L974.82 48.09 L975.04 49.54 L975.25 50.99 L975.47 52.42 L975.69 53.84 L975.9 55.26 L976.12 56.67 L976.34 58.06 L976.55 59.45 L976.77 60.82 L976.99 62.19 L977.2 63.55 L977.42 64.9 L977.64 66.24 L977.85 67.57 L978.07 68.89 L978.29 70.21 L978.5 71.51 L978.72 72.81 L978.94 74.1 L979.15 75.38 L979.37 76.65 L979.59 77.92 L979.8 79.17 L980.02 80.42 L980.23 81.66 L983.15 97.63 L986.07 112.34 L988.99 125.92 L991.91 138.49 L994.83 150.14 L997.75 160.96 L1000.66 171.02 L1003.58 180.39 L1006.5 189.11 L1009.42 197.24 L1012.34 204.85 L1015.26 212 L1018.18 218.73 L1021.09 225.08 L1024.01 231.07 L1026.93 236.74 L1029.85 242.11 L1032.77 247.2 L1035.69 252.04 L1038.61 256.64 L1041.52 261.02 L1044.44 265.2 L1047.36 269.19 L1050.28 273.01 L1053.2 276.66 L1056.12 280.15 L1059.04 283.5 L1061.95 286.72 L1064.87 289.81 L1067.79 292.78 L1070.71 295.64 L1073.63 298.4 L1076.55 301.05 L1079.46 303.62 L1082.38 306.09 L1085.3 308.49 L1088.22 310.8 L1091.14 313.05 L1094.06 315.22 L1096.98 317.33 L1099.89 319.37 L1102.81 321.36 L1105.73 323.29 L1108.65 325.17 L1111.57 327 L1114.49 328.77 L1117.41 330.49 L1120.32 332.16 L1123.24 333.79 L1126.16 335.37 L1129.08 336.91 L1132 338.4 L1134.92 339.86 L1137.84 341.28 L1140.75 342.66 L1143.67 344.01 L1146.59 345.32 L1149.51 346.6 L1152.43 347.85 L1155.35 349.07 L1158.27 350.26 L1161.18 351.42 L1164.1 352.56 L1167.02 353.67 L1169.94 354.75 L1172.86 355.82 L1175.78 356.85 L1178.69 357.87 L1181.61 358.86 L1184.53 359.83 L1187.45 360.79 L1190.37 361.72 L1193.29 362.63 L1196.21 363.53 L1199.12 364.4 L1202.04 365.26 L1204.96 366.11 L1207.88 366.94 L1210.8 367.75 L1213.72 368.54 L1216.64 369.33 L1219.55 370.09 L1222.47 370.85 L1225.39 371.59 L1228.31 372.31 L1231.23 373.03 L1234.15 373.73 L1237.07 374.41 L1239.98 375.09 L1242.9 375.75 L1245.82 376.4 L1248.74 377.04 L1251.66 377.67 L1254.58 378.29 L1257.5 378.9 L1260.41 379.49 L1263.33 380.08 L1266.25 380.66 L1269.17 381.23 L1272.09 381.79 L1275.01 382.33 L1277.92 382.88 L1280.84 383.41 L1283.76 383.93 L1286.68 384.45 L1289.6 384.95 L1292.52 385.45 L1295.44 385.94 L1298.35 386.43 L1301.27 386.9 L1304.19 387.37 L1307.11 387.84 L1310.03 388.29 L1312.95 388.74 L1315.87 389.18 L1318.78 389.62 L1321.7 390.05 L1324.62 390.47 L1327.54 390.89 L1330.41 392.51 L1333.29 394.12 L1336.16 395.72 L1339.04 397.32 L1341.91 398.91 L1344.79 400.49 L1347.66 402.06 L1350.54 403.63 L1353.41 405.19 L1356.29 406.75 L1359.16 408.29 L1362.04 409.83 L1364.91 411.37 L1367.79 412.9 L1370.66 414.42 L1373.54 415.94 L1376.41 417.45 L1379.29 418.95 L1382.16 420.45 L1385.04 421.94 L1387.91 423.43 L1390.79 424.92 L1393.66 426.39 L1396.53 427.87 L1399.41 429.33 L1402.28 430.8 L1405.16 432.25 L1408.03 433.71 L1410.91 435.16 L1413.78 436.6 L1416.66 438.04 L1419.53 439.47 L1422.41 440.9 L1425.28 442.33 L1428.16 443.75 L1431.03 445.17 L1433.91 446.58 L1436.78 447.99 L1439.66 449.4" stroke="#00ff00" stroke-width="2.5"/>
<path d="M970.49 27.44 L970.71 29.1 L970.92 30.75 L971.14 32.38 L971.35 34 L971.57 35.61 L971.79 37.21 L972 38.79 L972.22 40.36 L972.44 41.92 L972.65 43.47 L972.87 45.01 L973.09 46.54 L973.3 48.05 L973.52 49.55 L973.74 51.05 L973.95 52.53 L974.17 54 L974.39 55.46 L974.6 56.91 L974.82 58.34 L975.04 59.77 L975.25 61.19 L975.47 62.6 L975.69 64 L975.9 65.38 L976.12 66.76 L976.34 68.13 L976.55 69.49 L976.77 70.84 L976.99 72.18 L977.2 73.51 L977.42 74.83 L977.64 76.14 L977.85 77.44 L978.07 78.74 L978.29 80.02 L978.5 81.3 L978.72 82.56 L978.94 83.82 L979.15 85.07 L979.37 86.31 L979.59 87.55 L979.8 88.77 L980.02 89.99 L980.23 91.19 L983.15 106.95 L986.07 121.77 L988.99 135.68 L991.91 148.69 L994.83 160.82 L997.75 172.07 L1000.66 182.45 L1003.58 191.97 L1006.5 200.64 L1009.42 208.49 L1012.34 215.77 L1015.26 222.62 L1018.18 229.08 L1021.09 235.18 L1024.01 240.95 L1026.93 246.41 L1029.85 251.6 L1032.77 256.52 L1035.69 261.2 L1038.61 265.66 L1041.52 269.92 L1044.44 273.97 L1047.36 277.85 L1050.28 281.56 L1053.2 285.11 L1056.12 288.52 L1059.04 291.78 L1061.95 294.92 L1064.87 297.93 L1067.79 300.82 L1070.71 303.61 L1073.63 306.3 L1076.55 308.88 L1079.46 311.38 L1082.38 313.79 L1085.3 316.11 L1088.22 318.36 L1091.14 320.54 L1094.06 322.64 L1096.98 324.68 L1099.89 326.65 L1102.81 328.56 L1105.73 330.42 L1108.65 332.22 L1111.57 333.97 L1114.49 335.66 L1117.41 337.31 L1120.32 338.91 L1123.24 340.46 L1126.16 341.97 L1129.08 343.44 L1132 344.87 L1134.92 346.27 L1137.84 347.62 L1140.75 348.94 L1143.67 350.23 L1146.59 351.48 L1149.51 352.71 L1152.43 353.9 L1155.35 355.06 L1158.27 356.2 L1161.18 357.31 L1164.1 358.39 L1167.02 359.45 L1169.94 360.48 L1172.86 361.49 L1175.78 362.48 L1178.69 363.44 L1181.61 364.38 L1184.53 365.31 L1187.45 366.21 L1190.37 367.1 L1193.29 367.96 L1196.21 368.81 L1199.12 369.64 L1202.04 370.45 L1204.96 371.25 L1207.88 372.03 L1210.8 372.8 L1213.72 373.55 L1216.64 374.28 L1219.55 375 L1222.47 375.71 L1225.39 376.41 L1228.31 377.09 L1231.23 377.76 L1234.15 378.42 L1237.07 379.06 L1239.98 379.7 L1242.9 380.32 L1245.82 380.93 L1248.74 381.53 L1251.66 382.13 L1254.58 382.71 L1257.5 383.28 L1260.41 383.84 L1263.33 384.4 L1266.25 384.94 L1269.17 385.48 L1272.09 386.01 L1275.01 386.53 L1277.92 387.04 L1280.84 387.54 L1283.76 388.03 L1286.68 388.52 L1289.6 389 L1292.52 389.47 L1295.44 389.94 L1298.35 390.4 L1301.27 390.85 L1304.19 391.29 L1307.11 391.73 L1310.03 392.16 L1312.95 392.59 L1315.87 393 L1318.78 393.42 L1321.7 393.82 L1324.62 394.23 L1327.54 394.62 L1330.41 396.14 L1333.29 397.65 L1336.16 399.15 L1339.04 400.64 L1341.91 402.13 L1344.79 403.61 L1347.66 405.08 L1350.54 406.55 L1353.41 408.01 L1356.29 409.46 L1359.16 410.91 L1362.04 412.36 L1364.91 413.79 L1367.79 415.22 L1370.66 416.65 L1373.54 418.07 L1376.41 419.48 L1379.29 420.89 L1382.16 422.3 L1385.04 423.69 L1387.91 425.09 L1390.79 426.48 L1393.66 427.86 L1396.53 429.24 L1399.41 430.61 L1402.28 431.98 L1405.16 433.35 L1408.03 434.71 L1410.91 436.06 L1413.78 437.42 L1416.66 438.76 L1419.53 440.11 L1422.41 441.45 L1425.28 442.78 L1428.16 444.11 L1431.03 445.44 L1433.91 446.76 L1436.78 448.08 L1439.66 449.4" stroke="#00ff00" stroke-width="2.5"/>
<path d="M935.88 -26.06 L936.03 -22.81 L936.17 -19.57 L936.32 -16.36 L936.47 -13.18 L936.62 -10.01 L936.77 -6.87 L936.92 -3.75 L937.07 -0.66 L937.22 2.41 L937.38 5.46 L937.53 8.49 L937.69 11.5 L937.85 14.48 L938.01 17.45 L938.17 20.39 L938.33 23.31 L938.49 26.21 L938.65 29.09 L938.82 31.95 L938.98 34.78 L939.15 37.6 L939.32 40.4 L939.49 43.17 L939.66 45.93 L939.83 48.66 L940 51.38 L940.18 54.08 L940.35 56.76 L940.53 59.42 L940.71 62.06 L940.88 64.68 L941.06 67.28 L941.25 69.86 L941.43 72.43 L941.61 74.98 L941.8 77.51 L941.99 80.02 L942.17 82.51 L942.36 84.98 L942.55 87.42 L942.75 89.84 L942.94 92.24 L943.13 94.62 L943.33 96.97 L943.53 99.31 L943.73 101.62 L943.93 103.91 L944.13 106.18 L944.33 108.43 L944.54 110.66 L944.74 112.87 L944.95 115.06 L945.16 117.23 L945.37 119.39 L945.58 121.52 L945.8 123.64 L946.01 125.74 L946.23 127.82 L946.45 129.88 L946.67 131.93 L946.89 133.96 L947.11 135.97 L947.34 137.97 L947.56 139.95 L947.78 141.92 L948.01 143.87 L948.23 145.81 L948.46 147.74 L948.69 149.65 L948.92 151.55 L949.15 153.43 L949.38 155.3 L949.61 157.16 L949.85 159.01 L950.09 160.84 L950.33 162.67 L950.57 164.48 L950.81 166.28 L951.06 168.07 L951.3 169.86 L951.55 171.63 L951.8 173.39 L952.05 175.15 L952.3 176.89 L952.56 178.63 L952.82 180.37 L953.08 182.09 L953.34 183.81 L953.6 185.51 L953.86 187.2 L954.13 188.89 L954.4 190.56 L954.67 192.21 L954.94 193.86 L955.22 195.5 L955.49 197.12 L955.77 198.74 L956.05 200.34 L956.33 201.93 L956.62 203.51 L956.9 205.08 L957.19 206.64 L957.48 208.19 L957.77 209.73 L958.07 211.26 L958.36 212.77 L958.66 214.28 L958.96 215.78 L959.27 217.26 L959.57 218.74 L959.88 220.21 L960.19 221.66 L960.5 223.11 L960.81 224.55 L961.13 225.97 L961.45 227.39 L961.77 228.8 L962.09 230.2 L962.42 231.59 L962.74 232.97 L963.07 234.34 L963.41 235.7 L963.74 237.05 L964.08 238.39 L964.42 239.73 L964.76 241.05 L965.11 242.37 L965.45 243.68 L965.8 244.98 L966.15 246.27 L966.51 247.55 L966.87 248.82 L967.23 250.09 L967.59 251.34 L967.95 252.59 L968.32 253.83 L968.69 255.06 L969.06 256.29 L969.44 257.5 L969.82 258.71 L970.2 259.91 L970.58 261.1 L970.97 262.29 L971.36 263.46 L971.75 264.63 L972.15 265.79 L972.54 266.95 L972.95 268.09 L973.35 269.23 L973.76 270.36 L974.17 271.49 L974.58 272.6 L974.99 273.71 L975.41 274.82 L975.84 275.91 L976.26 277 L976.69 278.08 L977.12 279.16 L977.55 280.22 L977.99 281.29 L978.43 282.34 L978.88 283.4 L981.01 288.23 L983.15 292.79 L985.29 297.08 L987.43 301.14 L989.58 304.97 L991.73 308.6 L993.94 312.02 L996.14 315.26 L998.34 318.34 L1000.55 321.28 L1002.75 324.09 L1004.95 326.8 L1007.16 329.4 L1009.36 331.89 L1011.57 334.29 L1013.78 336.58 L1015.99 338.78 L1018.2 340.88 L1020.42 342.89 L1022.64 344.79 L1024.86 346.61 L1027.08 348.33 L1029.31 349.96 L1031.54 351.48 L1033.78 352.9 L1036 354.23 L1038.23 355.48 L1040.45 356.66 L1042.66 357.79 L1044.86 358.87 L1047.06 359.92 L1049.26 360.95 L1051.44 361.95 L1053.63 362.96 L1055.82 363.96 L1058.01 364.94 L1060.21 365.91 L1062.41 366.86 L1064.6 367.78 L1066.8 368.69 L1069 369.57 L1071.21 370.42 L1073.41 371.25 L1075.61 372.06 L1077.82 372.83 L1080.02 373.59 L1082.23 374.31 L1084.44 375 L1086.64 375.66 L1088.84 376.3 L1091.04 376.92 L1093.24 377.53 L1095.43 378.12 L1097.62 378.69 L1099.81 379.26 L1102 379.83 L1104.18 380.38 L1106.37 380.94 L1108.55 381.5 L1110.73 382.05 L1112.91 382.6 L1115.09 383.16 L1117.29 383.72 L1119.48 384.26 L1121.68 384.79 L1123.87 385.31 L1126.07 385.83 L1128.26 386.33 L1130.45 386.82 L1132.65 387.3 L1134.84 387.77 L1137.03 388.23 L1139.22 388.69 L1141.42 389.13 L1143.61 389.57 L1145.8 390 L1147.99 390.42 L1150.18 390.84 L1152.37 391.25 L1154.57 391.65 L1156.76 392.04 L1158.95 392.43 L1161.14 392.81 L1163.33 393.19 L1165.52 393.56 L1167.71 393.92 L1169.9 394.28 L1172.09 394.63 L1174.28 394.98 L1176.47 395.33 L1178.65 395.66 L1180.84 396 L1183.03 396.33 L1185.22 396.65 L1187.41 396.97 L1189.6 397.29 L1191.79 397.6 L1193.97 397.91 L1196.16 398.21 L1198.35 398.51 L1200.54 398.81 L1202.73 399.1 L1204.91 399.39 L1207.1 399.68 L1209.29 399.96 L1211.48 400.24 L1213.66 400.52 L1215.85 400.79 L1218.04 401.06 L1220.22 401.33 L1222.41 401.6 L1224.6 401.86 L1226.79 402.12 L1228.97 402.38 L1231.16 402.64 L1233.35 402.89 L1235.53 403.14 L1237.72 403.39 L1239.9 403.64 L1242.09 403.88 L1244.28 404.13 L1246.46 404.37 L1248.65 404.61 L1250.84 404.84 L1253.02 405.08 L1255.21 405.31 L1257.39 405.55 L1259.58 405.78 L1261.76 406.01 L1263.95 406.23 L1266.14 406.46 L1268.32 406.69 L1270.51 406.91 L1272.69 407.13 L1274.88 407.35 L1277.06 407.57 L1279.25 407.79 L1281.44 408.01 L1283.62 408.23 L1285.81 408.44 L1287.99 408.66 L1290.18 408.87 L1292.36 409.08 L1294.55 409.29 L1296.73 409.5 L1298.92 409.71 L1301.1 409.92 L1303.29 410.13 L1305.47 410.34 L1307.66 410.55 L1309.84 410.75 L1312.03 410.96 L1314.21 411.16 L1316.4 411.37 L1318.58 411.57 L1320.77 411.77 L1322.95 411.98 L1325.14 412.18 L1326.95 412.31 L1329.59 413.27 L1332.49 414.3 L1335.39 415.32 L1338.29 416.34 L1341.19 417.35 L1344.08 418.36 L1346.98 419.36 L1349.88 420.36 L1352.78 421.36 L1355.68 422.35 L1358.58 423.33 L1361.47 424.31 L1364.37 425.29 L1367.27 426.26 L1370.17 427.23 L1373.06 428.19 L1375.96 429.15 L1378.86 430.11 L1381.75 431.06 L1384.65 432.01 L1387.55 432.95 L1390.44 433.9 L1393.34 434.83 L1396.23 435.77 L1399.13 436.7 L1402.03 437.63 L1404.92 438.55 L1407.82 439.47 L1410.71 440.39 L1413.61 441.3 L1416.5 442.21 L1419.4 443.12 L1422.29 444.03 L1425.19 444.93 L1428.08 445.83 L1430.97 446.73 L1433.87 447.62 L1436.76 448.51 L1439.66 449.4" stroke="#0000ff" stroke-width="2.6"/>
<path d="M934.48 -24.41 L934.61 -21.03 L934.75 -17.67 L934.88 -14.34 L935.01 -11.02 L935.15 -7.73 L935.28 -4.47 L935.42 -1.22 L935.55 2 L935.69 5.2 L935.83 8.38 L935.97 11.53 L936.11 14.67 L936.25 17.78 L936.4 20.88 L936.54 23.95 L936.69 27 L936.83 30.02 L936.98 33.03 L937.13 36.02 L937.28 38.99 L937.43 41.93 L937.58 44.86 L937.73 47.77 L937.89 50.66 L938.04 53.52 L938.2 56.37 L938.35 59.2 L938.51 62.01 L938.67 64.8 L938.83 67.57 L938.99 70.32 L939.15 73.05 L939.32 75.77 L939.48 78.46 L939.65 81.14 L939.82 83.82 L939.98 86.5 L940.15 89.17 L940.33 91.85 L940.5 94.52 L940.67 97.19 L940.84 99.85 L941.02 102.51 L941.2 105.17 L941.38 107.83 L941.56 110.47 L941.74 113.11 L941.92 115.75 L942.1 118.38 L942.29 121 L942.47 123.61 L942.66 126.21 L942.85 128.8 L943.04 131.38 L943.23 133.96 L943.42 136.51 L943.62 139.06 L943.81 141.59 L944.01 144.11 L944.21 146.62 L944.4 149.11 L944.61 151.58 L944.81 154.03 L945.02 156.47 L945.23 158.89 L945.45 161.29 L945.66 163.67 L945.87 166.03 L946.09 168.36 L946.31 170.68 L946.53 172.96 L946.75 175.23 L946.97 177.47 L947.2 179.68 L947.42 181.86 L947.65 184.02 L947.88 186.15 L948.11 188.24 L948.34 190.32 L948.58 192.38 L948.81 194.43 L949.05 196.46 L949.29 198.47 L949.53 200.48 L949.77 202.46 L950.02 204.43 L950.26 206.39 L950.51 208.33 L950.76 210.26 L951.01 212.17 L951.27 214.07 L951.52 215.96 L951.78 217.83 L952.04 219.69 L952.3 221.53 L952.56 223.36 L952.82 225.17 L953.09 226.98 L953.36 228.76 L953.63 230.54 L953.9 232.3 L954.17 234.05 L954.45 235.78 L954.72 237.51 L955 239.21 L955.28 240.91 L955.57 242.59 L955.85 244.26 L956.14 245.92 L956.43 247.56 L956.72 249.19 L957.01 250.81 L957.31 252.42 L957.61 254.01 L957.91 255.59 L958.21 257.16 L958.51 258.72 L958.82 260.26 L959.13 261.8 L959.44 263.32 L959.75 264.83 L960.06 266.32 L960.38 267.81 L960.7 269.28 L961.02 270.74 L961.35 272.19 L961.67 273.63 L962 275.06 L962.33 276.47 L962.66 277.88 L963 279.27 L963.34 280.65 L963.68 282.02 L964.02 283.38 L964.36 284.73 L964.71 286.07 L965.06 287.39 L965.41 288.71 L965.76 290.01 L966.12 291.31 L966.48 292.59 L966.84 293.86 L967.21 295.12 L967.57 296.37 L967.94 297.61 L968.31 298.84 L968.69 300.06 L969.07 301.27 L969.45 302.47 L969.83 303.65 L970.21 304.83 L970.6 306 L970.99 307.16 L971.38 308.3 L971.78 309.44 L972.18 310.57 L972.58 311.68 L972.98 312.79 L973.39 313.89 L973.8 314.97 L974.21 316.05 L974.63 317.12 L975.05 318.17 L975.47 319.22 L975.89 320.26 L976.32 321.29 L976.75 322.31 L977.18 323.32 L977.62 324.32 L978.06 325.32 L978.5 326.3 L978.94 327.28 L979.39 328.25 L979.84 329.2 L980.29 330.15 L980.75 331.1 L981.21 332.03 L981.67 332.94 L983.84 337.24 L986 341.23 L988.16 344.95 L990.32 348.45 L992.48 351.73 L994.64 354.82 L996.8 357.75 L998.96 360.53 L1001.12 363.17 L1003.28 365.7 L1005.45 368.12 L1007.61 370.45 L1009.77 372.7 L1011.94 374.86 L1014.1 376.94 L1016.26 378.94 L1018.41 380.84 L1020.57 382.65 L1022.72 384.37 L1024.87 385.99 L1027.01 387.53 L1029.16 388.96 L1031.3 390.3 L1033.46 391.57 L1035.61 392.78 L1037.77 393.94 L1039.93 395.04 L1042.09 396.1 L1044.25 397.12 L1046.41 398.1 L1048.58 399.04 L1050.74 399.95 L1052.91 400.83 L1055.08 401.69 L1057.25 402.52 L1059.42 403.32 L1061.58 404.09 L1063.75 404.84 L1065.92 405.56 L1068.09 406.27 L1070.26 406.95 L1072.44 407.61 L1074.61 408.26 L1076.79 408.89 L1078.96 409.5 L1081.14 410.11 L1083.31 410.7 L1085.49 411.27 L1087.66 411.83 L1089.84 412.38 L1092.01 412.92 L1094.19 413.45 L1096.37 413.96 L1098.54 414.46 L1100.72 414.95 L1102.89 415.42 L1105.07 415.89 L1107.25 416.34 L1109.42 416.78 L1111.6 417.21 L1113.78 417.63 L1115.95 418.04 L1118.13 418.44 L1120.31 418.83 L1122.49 419.21 L1124.66 419.58 L1126.84 419.95 L1129.02 420.3 L1131.2 420.65 L1133.38 421 L1135.56 421.33 L1137.74 421.66 L1139.92 421.99 L1142.1 422.3 L1144.28 422.61 L1146.46 422.92 L1148.64 423.21 L1150.82 423.51 L1153 423.79 L1155.18 424.07 L1157.36 424.35 L1159.54 424.62 L1161.72 424.88 L1163.9 425.14 L1166.08 425.4 L1168.26 425.65 L1170.44 425.9 L1172.62 426.14 L1174.81 426.38 L1176.99 426.61 L1179.17 426.84 L1181.35 427.06 L1183.53 427.28 L1185.71 427.5 L1187.89 427.71 L1190.08 427.92 L1192.26 428.13 L1194.44 428.33 L1196.62 428.53 L1198.8 428.72 L1200.98 428.91 L1203.17 429.1 L1205.35 429.29 L1207.53 429.47 L1209.71 429.65 L1211.89 429.82 L1214.08 430 L1216.26 430.17 L1218.44 430.33 L1220.62 430.5 L1222.81 430.66 L1224.99 430.82 L1227.17 430.97 L1229.35 431.13 L1231.54 431.28 L1233.72 431.43 L1235.9 431.57 L1238.08 431.72 L1240.27 431.86 L1242.45 432 L1244.63 432.14 L1246.81 432.28 L1249 432.41 L1251.18 432.54 L1253.36 432.67 L1255.55 432.8 L1257.73 432.93 L1259.91 433.06 L1262.1 433.18 L1264.28 433.3 L1266.46 433.42 L1268.64 433.54 L1270.83 433.65 L1273.01 433.77 L1275.19 433.88 L1277.38 433.99 L1279.56 434.1 L1281.74 434.21 L1283.93 434.32 L1286.11 434.43 L1288.29 434.53 L1290.48 434.63 L1292.66 434.73 L1294.84 434.83 L1297.03 434.93 L1299.21 435.03 L1301.39 435.12 L1303.58 435.22 L1305.76 435.31 L1307.94 435.4 L1310.13 435.5 L1312.31 435.58 L1314.49 435.67 L1316.68 435.76 L1318.86 435.85 L1321.04 435.93 L1323.23 436.01 L1325.41 436.1 L1327.66 436.18 L1330.58 436.55 L1333.45 436.91 L1336.32 437.27 L1339.19 437.63 L1342.06 437.98 L1344.93 438.34 L1347.8 438.69 L1350.67 439.04 L1353.54 439.4 L1356.41 439.74 L1359.28 440.09 L1362.15 440.44 L1365.02 440.79 L1367.89 441.13 L1370.76 441.47 L1373.63 441.82 L1376.5 442.16 L1379.37 442.5 L1382.24 442.83 L1385.11 443.17 L1387.98 443.51 L1390.85 443.84 L1393.72 444.18 L1396.59 444.51 L1399.46 444.84 L1402.33 445.18 L1405.21 445.51 L1408.08 445.83 L1410.95 446.16 L1413.82 446.49 L1416.69 446.82 L1419.56 447.14 L1422.43 447.47 L1425.3 447.79 L1428.17 448.12 L1431.04 448.44 L1433.91 448.76 L1436.79 449.08 L1439.66 449.4" stroke="#0000ff" stroke-width="2.6"/>
<path d="M936.28 -26.08 L936.42 -22.82 L936.57 -19.59 L936.72 -16.38 L936.87 -13.19 L937.02 -10.03 L937.17 -6.89 L937.32 -3.77 L937.47 -0.68 L937.63 2.39 L937.78 5.44 L937.94 8.47 L938.09 11.48 L938.25 14.46 L938.41 17.43 L938.57 20.37 L938.73 23.29 L938.9 26.19 L939.06 29.06 L939.23 31.92 L939.39 34.76 L939.56 37.57 L939.73 40.37 L939.9 43.15 L940.07 45.9 L940.24 48.64 L940.42 51.36 L940.59 54.05 L940.77 56.73 L940.94 59.39 L941.12 62.03 L941.3 64.65 L941.48 67.25 L941.67 69.83 L941.85 72.4 L942.03 74.95 L942.22 77.48 L942.41 79.99 L942.6 82.48 L942.79 84.94 L942.98 87.39 L943.17 89.81 L943.37 92.2 L943.56 94.58 L943.76 96.94 L943.96 99.27 L944.16 101.58 L944.36 103.87 L944.56 106.14 L944.77 108.39 L944.97 110.62 L945.18 112.83 L945.39 115.02 L945.6 117.19 L945.81 119.34 L946.02 121.48 L946.24 123.59 L946.45 125.69 L946.67 127.77 L946.89 129.83 L947.11 131.88 L947.33 133.91 L947.56 135.92 L947.78 137.92 L948.01 139.9 L948.24 141.87 L948.47 143.82 L948.7 145.76 L948.93 147.68 L949.17 149.59 L949.41 151.48 L949.64 153.37 L949.88 155.24 L950.13 157.09 L950.37 158.94 L950.62 160.77 L950.86 162.59 L951.11 164.4 L951.36 166.2 L951.62 167.99 L951.87 169.77 L952.13 171.55 L952.38 173.31 L952.64 175.06 L952.91 176.8 L953.17 178.54 L953.43 180.27 L953.7 181.99 L953.97 183.71 L954.24 185.41 L954.51 187.1 L954.79 188.78 L955.07 190.44 L955.35 192.1 L955.63 193.74 L955.91 195.38 L956.19 197 L956.48 198.61 L956.77 200.21 L957.06 201.8 L957.35 203.37 L957.65 204.94 L957.95 206.5 L958.24 208.04 L958.55 209.57 L958.85 211.1 L959.16 212.61 L959.46 214.11 L959.77 215.61 L960.09 217.09 L960.4 218.56 L960.72 220.02 L961.04 221.47 L961.36 222.92 L961.68 224.35 L962.01 225.77 L962.33 227.18 L962.66 228.59 L963 229.98 L963.33 231.36 L963.67 232.74 L964.01 234.1 L964.35 235.46 L964.7 236.8 L965.04 238.14 L965.39 239.47 L965.75 240.79 L966.1 242.1 L966.46 243.4 L966.82 244.69 L967.18 245.98 L967.54 247.25 L967.91 248.52 L968.28 249.78 L968.65 251.02 L969.03 252.26 L969.41 253.5 L969.79 254.72 L970.17 255.94 L970.56 257.14 L970.95 258.34 L971.34 259.53 L971.73 260.72 L972.13 261.89 L972.53 263.06 L972.93 264.22 L973.34 265.37 L973.75 266.52 L974.16 267.65 L974.57 268.78 L974.99 269.9 L975.41 271.02 L975.83 272.12 L976.26 273.22 L976.69 274.31 L977.12 275.4 L977.56 276.47 L978 277.54 L978.44 278.61 L978.88 279.66 L979.33 280.71 L979.78 281.75 L980.23 282.79 L982.42 287.57 L984.6 292.06 L986.79 296.29 L988.97 300.27 L991.16 304.03 L993.34 307.59 L995.53 310.96 L997.71 314.16 L999.89 317.2 L1002.08 320.1 L1004.26 322.88 L1006.45 325.55 L1008.63 328.11 L1010.82 330.58 L1013 332.94 L1015.18 335.19 L1017.37 337.35 L1019.55 339.42 L1021.74 341.38 L1023.92 343.25 L1026.11 345.03 L1028.29 346.71 L1030.47 348.3 L1032.66 349.78 L1034.84 351.16 L1037.03 352.45 L1039.21 353.67 L1041.4 354.82 L1043.58 355.93 L1045.76 356.99 L1047.95 358.03 L1050.13 359.04 L1052.32 360.04 L1054.5 361.04 L1056.69 362.03 L1058.87 363 L1061.05 363.95 L1063.24 364.88 L1065.42 365.8 L1067.61 366.68 L1069.79 367.55 L1071.98 368.39 L1074.16 369.21 L1076.34 370 L1078.53 370.76 L1080.71 371.49 L1082.9 372.2 L1085.08 372.87 L1087.27 373.53 L1089.45 374.15 L1091.63 374.76 L1093.82 375.36 L1096 375.94 L1098.19 376.5 L1100.37 377.06 L1102.56 377.62 L1104.74 378.17 L1106.92 378.72 L1109.11 379.26 L1111.29 379.82 L1113.48 380.37 L1115.66 380.93 L1117.85 381.48 L1120.03 382.02 L1122.21 382.55 L1124.4 383.07 L1126.58 383.58 L1128.77 384.07 L1130.95 384.56 L1133.14 385.04 L1135.32 385.51 L1137.51 385.97 L1139.69 386.42 L1141.87 386.86 L1144.06 387.3 L1146.24 387.73 L1148.43 388.15 L1150.61 388.56 L1152.8 388.97 L1154.98 389.37 L1157.16 389.76 L1159.35 390.14 L1161.53 390.52 L1163.72 390.9 L1165.9 391.26 L1168.09 391.63 L1170.27 391.98 L1172.45 392.33 L1174.64 392.68 L1176.82 393.02 L1179.01 393.36 L1181.19 393.69 L1183.38 394.02 L1185.56 394.34 L1187.74 394.66 L1189.93 394.97 L1192.11 395.28 L1194.3 395.59 L1196.48 395.89 L1198.67 396.19 L1200.85 396.49 L1203.03 396.78 L1205.22 397.07 L1207.4 397.35 L1209.59 397.63 L1211.77 397.91 L1213.96 398.19 L1216.14 398.46 L1218.32 398.73 L1220.51 399 L1222.69 399.26 L1224.88 399.52 L1227.06 399.78 L1229.25 400.04 L1231.43 400.29 L1233.61 400.55 L1235.8 400.8 L1237.98 401.05 L1240.17 401.29 L1242.35 401.54 L1244.54 401.78 L1246.72 402.02 L1248.9 402.26 L1251.09 402.49 L1253.27 402.73 L1255.46 402.96 L1257.64 403.19 L1259.83 403.42 L1262.01 403.65 L1264.19 403.88 L1266.38 404.1 L1268.56 404.33 L1270.75 404.55 L1272.93 404.77 L1275.12 404.99 L1277.3 405.21 L1279.48 405.43 L1281.67 405.64 L1283.85 405.86 L1286.04 406.07 L1288.22 406.29 L1290.41 406.5 L1292.59 406.71 L1294.78 406.92 L1296.96 407.13 L1299.14 407.34 L1301.33 407.55 L1303.51 407.75 L1305.7 407.96 L1307.88 408.17 L1310.07 408.37 L1312.25 408.58 L1314.43 408.78 L1316.62 408.98 L1318.8 409.18 L1320.99 409.39 L1323.17 409.59 L1325.36 409.79 L1327.54 409.99 L1330.41 411.08 L1333.29 412.16 L1336.16 413.24 L1339.04 414.32 L1341.91 415.39 L1344.79 416.45 L1347.66 417.52 L1350.54 418.57 L1353.41 419.62 L1356.29 420.67 L1359.16 421.71 L1362.04 422.75 L1364.91 423.78 L1367.79 424.81 L1370.66 425.84 L1373.54 426.86 L1376.41 427.88 L1379.29 428.89 L1382.16 429.9 L1385.04 430.91 L1387.91 431.91 L1390.79 432.91 L1393.66 433.9 L1396.53 434.89 L1399.41 435.88 L1402.28 436.87 L1405.16 437.85 L1408.03 438.83 L1410.91 439.81 L1413.78 440.78 L1416.66 441.75 L1419.53 442.71 L1422.41 443.68 L1425.28 444.64 L1428.16 445.6 L1431.03 446.55 L1433.91 447.5 L1436.78 448.45 L1439.66 449.4" stroke="#ff00ff" stroke-width="2.6"/>
<path d="M934.09 -24.4 L934.22 -21.01 L934.35 -17.66 L934.48 -14.32 L934.61 -11.01 L934.75 -7.72 L934.88 -4.45 L935.02 -1.21 L935.15 2.02 L935.29 5.22 L935.43 8.4 L935.57 11.55 L935.71 14.69 L935.85 17.8 L935.99 20.89 L936.13 23.97 L936.28 27.02 L936.42 30.04 L936.57 33.05 L936.72 36.04 L936.87 39.01 L937.02 41.96 L937.17 44.88 L937.32 47.79 L937.47 50.68 L937.63 53.55 L937.78 56.39 L937.94 59.22 L938.09 62.03 L938.25 64.82 L938.41 67.59 L938.57 70.35 L938.73 73.08 L938.9 75.79 L939.06 78.49 L939.23 81.17 L939.39 83.85 L939.56 86.52 L939.73 89.2 L939.9 91.87 L940.07 94.55 L940.24 97.21 L940.42 99.88 L940.59 102.54 L940.77 105.2 L940.94 107.85 L941.12 110.5 L941.3 113.14 L941.48 115.78 L941.67 118.41 L941.85 121.03 L942.03 123.64 L942.22 126.24 L942.41 128.83 L942.6 131.42 L942.79 133.99 L942.98 136.55 L943.17 139.09 L943.37 141.63 L943.56 144.15 L943.76 146.65 L943.96 149.14 L944.16 151.62 L944.36 154.07 L944.56 156.51 L944.77 158.93 L944.97 161.33 L945.18 163.71 L945.39 166.07 L945.6 168.41 L945.81 170.72 L946.02 173.01 L946.24 175.28 L946.45 177.52 L946.67 179.73 L946.89 181.92 L947.11 184.08 L947.33 186.2 L947.56 188.3 L947.78 190.38 L948.01 192.44 L948.24 194.49 L948.47 196.53 L948.7 198.54 L948.93 200.55 L949.17 202.53 L949.41 204.51 L949.64 206.47 L949.88 208.41 L950.13 210.34 L950.37 212.26 L950.62 214.16 L950.86 216.05 L951.11 217.92 L951.36 219.78 L951.62 221.62 L951.87 223.46 L952.13 225.27 L952.38 227.08 L952.64 228.87 L952.91 230.65 L953.17 232.41 L953.43 234.16 L953.7 235.9 L953.97 237.62 L954.24 239.33 L954.51 241.03 L954.79 242.72 L955.07 244.39 L955.35 246.05 L955.63 247.7 L955.91 249.33 L956.19 250.96 L956.48 252.57 L956.77 254.16 L957.06 255.75 L957.35 257.32 L957.65 258.88 L957.95 260.43 L958.24 261.97 L958.55 263.5 L958.85 265.01 L959.16 266.51 L959.46 268 L959.77 269.48 L960.09 270.94 L960.4 272.4 L960.72 273.84 L961.04 275.28 L961.36 276.7 L961.68 278.11 L962.01 279.5 L962.33 280.89 L962.66 282.27 L963 283.63 L963.33 284.99 L963.67 286.33 L964.01 287.66 L964.35 288.98 L964.7 290.3 L965.04 291.6 L965.39 292.89 L965.75 294.16 L966.1 295.43 L966.46 296.69 L966.82 297.94 L967.18 299.18 L967.54 300.4 L967.91 301.62 L968.28 302.83 L968.65 304.02 L969.03 305.21 L969.41 306.39 L969.79 307.55 L970.17 308.71 L970.56 309.86 L970.95 310.99 L971.34 312.12 L971.73 313.24 L972.13 314.34 L972.53 315.44 L972.93 316.53 L973.34 317.61 L973.75 318.68 L974.16 319.74 L974.57 320.79 L974.99 321.83 L975.41 322.86 L975.83 323.88 L976.26 324.9 L976.69 325.91 L977.12 326.9 L977.56 327.89 L978 328.87 L978.44 329.85 L978.88 330.81 L979.33 331.77 L979.78 332.71 L980.23 333.65 L982.42 337.98 L984.6 342.01 L986.79 345.78 L988.97 349.31 L991.16 352.62 L993.34 355.76 L995.53 358.72 L997.71 361.53 L999.89 364.2 L1002.08 366.75 L1004.26 369.2 L1006.45 371.55 L1008.63 373.82 L1010.82 376.01 L1013 378.11 L1015.18 380.12 L1017.37 382.05 L1019.55 383.89 L1021.74 385.63 L1023.92 387.28 L1026.11 388.84 L1028.29 390.3 L1030.47 391.67 L1032.66 392.96 L1034.84 394.18 L1037.03 395.35 L1039.21 396.47 L1041.4 397.54 L1043.58 398.57 L1045.76 399.56 L1047.95 400.51 L1050.13 401.43 L1052.32 402.32 L1054.5 403.18 L1056.69 404.02 L1058.87 404.82 L1061.05 405.6 L1063.24 406.36 L1065.42 407.08 L1067.61 407.79 L1069.79 408.48 L1071.98 409.14 L1074.16 409.79 L1076.34 410.43 L1078.53 411.04 L1080.71 411.65 L1082.9 412.24 L1085.08 412.82 L1087.27 413.38 L1089.45 413.94 L1091.63 414.48 L1093.82 415 L1096 415.52 L1098.19 416.02 L1100.37 416.51 L1102.56 416.99 L1104.74 417.45 L1106.92 417.91 L1109.11 418.35 L1111.29 418.78 L1113.48 419.2 L1115.66 419.61 L1117.85 420.01 L1120.03 420.4 L1122.21 420.78 L1124.4 421.15 L1126.58 421.52 L1128.77 421.87 L1130.95 422.22 L1133.14 422.57 L1135.32 422.9 L1137.51 423.23 L1139.69 423.55 L1141.87 423.87 L1144.06 424.18 L1146.24 424.48 L1148.43 424.78 L1150.61 425.07 L1152.8 425.36 L1154.98 425.64 L1157.16 425.91 L1159.35 426.18 L1161.53 426.45 L1163.72 426.71 L1165.9 426.96 L1168.09 427.21 L1170.27 427.46 L1172.45 427.7 L1174.64 427.94 L1176.82 428.17 L1179.01 428.4 L1181.19 428.62 L1183.38 428.84 L1185.56 429.06 L1187.74 429.27 L1189.93 429.48 L1192.11 429.68 L1194.3 429.88 L1196.48 430.08 L1198.67 430.28 L1200.85 430.47 L1203.03 430.65 L1205.22 430.84 L1207.4 431.02 L1209.59 431.2 L1211.77 431.37 L1213.96 431.54 L1216.14 431.71 L1218.32 431.88 L1220.51 432.04 L1222.69 432.2 L1224.88 432.36 L1227.06 432.52 L1229.25 432.67 L1231.43 432.82 L1233.61 432.97 L1235.8 433.11 L1237.98 433.26 L1240.17 433.4 L1242.35 433.54 L1244.54 433.68 L1246.72 433.81 L1248.9 433.94 L1251.09 434.08 L1253.27 434.21 L1255.46 434.33 L1257.64 434.46 L1259.83 434.58 L1262.01 434.71 L1264.19 434.83 L1266.38 434.95 L1268.56 435.06 L1270.75 435.18 L1272.93 435.29 L1275.12 435.4 L1277.3 435.52 L1279.48 435.62 L1281.67 435.73 L1283.85 435.84 L1286.04 435.94 L1288.22 436.05 L1290.41 436.15 L1292.59 436.25 L1294.78 436.35 L1296.96 436.44 L1299.14 436.54 L1301.33 436.64 L1303.51 436.73 L1305.7 436.82 L1307.88 436.91 L1310.07 437 L1312.25 437.09 L1314.43 437.18 L1316.62 437.26 L1318.8 437.35 L1320.99 437.43 L1323.17 437.52 L1325.36 437.6 L1327.54 437.68 L1330.41 438 L1333.29 438.32 L1336.16 438.65 L1339.04 438.97 L1341.91 439.28 L1344.79 439.6 L1347.66 439.92 L1350.54 440.23 L1353.41 440.54 L1356.29 440.85 L1359.16 441.16 L1362.04 441.47 L1364.91 441.78 L1367.79 442.09 L1370.66 442.39 L1373.54 442.69 L1376.41 443 L1379.29 443.3 L1382.16 443.6 L1385.04 443.9 L1387.91 444.2 L1390.79 444.49 L1393.66 444.79 L1396.53 445.09 L1399.41 445.38 L1402.28 445.67 L1405.16 445.96 L1408.03 446.26 L1410.91 446.55 L1413.78 446.84 L1416.66 447.12 L1419.53 447.41 L1422.41 447.7 L1425.28 447.98 L1428.16 448.27 L1431.03 448.55 L1433.91 448.84 L1436.78 449.12 L1439.66 449.4" stroke="#ff00ff" stroke-width="2.6"/>
<path d="M1327.54 449.4 L1330.44 437.6 L1333.33 425.96 L1336.23 414.49 L1339.12 403.17 L1342.02 392.01 L1344.92 380.99 L1347.81 370.13 L1350.71 359.4 L1353.61 348.82 L1356.5 338.38 L1359.4 328.08 L1362.29 317.91 L1365.19 307.87 L1368.09 297.96 L1370.98 288.17 L1373.88 278.51 L1376.78 268.97 L1379.67 259.55 L1382.57 250.25 L1385.47 241.06 L1388.36 231.98 L1391.26 223.02 L1394.15 214.16 L1397.05 205.41 L1399.95 196.77 L1402.84 188.22 L1405.74 179.78 L1408.64 171.44 L1411.53 163.19 L1414.43 155.04 L1417.32 146.99 L1420.22 139.02 L1423.12 131.15 L1426.01 123.37 L1428.91 115.68 L1431.81 108.07 L1434.7 100.54 L1437.6 93.1 L1440.49 85.75 L1562.2 85.75" stroke="#ff0000" stroke-width="2.15"/>
<path d="M1327.54 449.4 L1330.44 439.1 L1333.33 428.95 L1336.23 418.93 L1339.12 409.06 L1342.02 399.31 L1344.92 389.7 L1347.81 380.22 L1350.71 370.86 L1353.61 361.63 L1356.5 352.52 L1359.4 343.53 L1362.29 334.65 L1365.19 325.89 L1368.09 317.24 L1370.98 308.7 L1373.88 300.27 L1376.78 291.95 L1379.67 283.73 L1382.57 275.61 L1385.47 267.59 L1388.36 259.67 L1391.26 251.85 L1394.15 244.12 L1397.05 236.48 L1399.95 228.94 L1402.84 221.48 L1405.74 214.11 L1408.64 206.83 L1411.53 199.64 L1414.43 192.53 L1417.32 185.5 L1420.22 178.55 L1423.12 171.68 L1426.01 164.89 L1428.91 158.17 L1431.81 151.53 L1434.7 144.97 L1437.6 138.47 L1440.49 132.05 L1562.2 132.05" stroke="#ff0000" stroke-width="2.15"/>
<path d="M915 449.4 L923.2 449.4 L931.41 449.4 L939.61 449.4 L947.81 449.4 L956.01 449.4 L964.22 449.4 L972.42 449.4 L980.62 449.4 L988.82 449.4 L997.03 449.4 L1005.23 449.4 L1013.43 449.4 L1021.63 449.4 L1029.84 449.4 L1038.04 449.4 L1046.24 449.4 L1054.44 449.4 L1062.65 449.4 L1070.85 449.4 L1079.05 449.4 L1087.25 449.4 L1095.46 449.4 L1103.66 449.4 L1111.86 449.4 L1120.06 449.4 L1128.27 449.4 L1136.47 449.4 L1144.67 449.4 L1152.87 449.4 L1161.08 449.4 L1169.28 449.4 L1177.48 449.4 L1185.68 449.4 L1193.89 449.4 L1202.09 449.4 L1210.29 449.4 L1218.49 449.4 L1226.7 449.4 L1234.9 449.4 L1243.1 449.4 L1251.3 449.4 L1259.51 449.4 L1267.71 449.4 L1275.91 449.4 L1284.11 449.4 L1292.32 449.4 L1300.52 449.4 L1308.72 449.4 L1316.92 449.4 L1325.13 449.4 L1333.33 449.37 L1341.53 449.26 L1349.73 449.09 L1357.94 448.91 L1366.14 448.74 L1374.34 448.63 L1382.54 448.6 L1390.75 448.67 L1398.95 448.79 L1407.15 448.94 L1415.35 449.11 L1423.56 449.25 L1431.76 449.36 L1439.96 449.4 L1448.16 449.4 L1456.37 449.4 L1464.57 449.4 L1472.77 449.4 L1480.97 449.4 L1489.18 449.4 L1497.38 449.4 L1505.58 449.4 L1513.78 449.4 L1521.99 449.4 L1530.19 449.4 L1538.39 449.4 L1546.59 449.4 L1554.8 449.4 L1563 449.4" stroke="#ff0000" stroke-width="2.4"/>
</g>
<path d="M915.8 75 V473.3 M915.1 449.4 H1561.2" stroke="#000" stroke-width="1.55" fill="none"/>
<path d="M941.57 449.4 v-3.4 M967.35 449.4 v-3.4 M993.12 449.4 v-3.4 M1018.9 449.4 v-3.4 M1044.67 449.4 v-5.6 M1070.44 449.4 v-3.4 M1096.22 449.4 v-3.4 M1121.99 449.4 v-3.4 M1147.77 449.4 v-3.4 M1173.54 449.4 v-5.6 M1199.31 449.4 v-3.4 M1225.09 449.4 v-3.4 M1250.86 449.4 v-3.4 M1276.64 449.4 v-3.4 M1302.41 449.4 v-5.6 M1328.18 449.4 v-3.4 M1353.96 449.4 v-3.4 M1379.73 449.4 v-3.4 M1405.51 449.4 v-3.4 M1431.28 449.4 v-5.6 M1457.05 449.4 v-3.4 M1482.83 449.4 v-3.4 M1508.6 449.4 v-3.4 M1534.38 449.4 v-3.4 M1560.15 449.4 v-5.6 M915.8 463.02 h3.4 M915.8 435.78 h3.4 M915.8 422.16 h3.4 M915.8 408.54 h3.4 M915.8 394.92 h3.4 M915.8 381.3 h5.6 M915.8 367.68 h3.4 M915.8 354.06 h3.4 M915.8 340.44 h3.4 M915.8 326.82 h3.4 M915.8 313.2 h5.6 M915.8 299.58 h3.4 M915.8 285.96 h3.4 M915.8 272.34 h3.4 M915.8 258.72 h3.4 M915.8 245.1 h5.6 M915.8 231.48 h3.4 M915.8 217.86 h3.4 M915.8 204.24 h3.4 M915.8 190.62 h3.4 M915.8 177 h5.6 M915.8 163.38 h3.4 M915.8 149.76 h3.4 M915.8 136.14 h3.4 M915.8 122.52 h3.4 M915.8 108.9 h5.6 M915.8 95.28 h3.4 M915.8 81.66 h3.4" stroke="#000" stroke-width="1.3" fill="none"/>
<g transform="translate(871.67,456.84) scale(1.176,1.027)"><text font-family='"Liberation Serif","DejaVu Serif",serif' font-size="25" fill="#000" text-anchor="middle"><tspan x="0.0">0</tspan><tspan x="13.6">.</tspan><tspan x="27.2">0</tspan></text></g>
<g transform="translate(871.76,388.74) scale(1.192,1.027)"><text font-family='"Liberation Serif","DejaVu Serif",serif' font-size="25" fill="#000" text-anchor="middle"><tspan x="0.0">0</tspan><tspan x="13.6">.</tspan><tspan x="27.2">1</tspan></text></g>
<g transform="translate(871.76,320.64) scale(1.192,1.027)"><text font-family='"Liberation Serif","DejaVu Serif",serif' font-size="25" fill="#000" text-anchor="middle"><tspan x="0.0">0</tspan><tspan x="13.6">.</tspan><tspan x="27.2">2</tspan></text></g>
<g transform="translate(871.67,252.54) scale(1.176,1.027)"><text font-family='"Liberation Serif","DejaVu Serif",serif' font-size="25" fill="#000" text-anchor="middle"><tspan x="0.0">0</tspan><tspan x="13.6">.</tspan><tspan x="27.2">3</tspan></text></g>
<g transform="translate(871.59,184.44) scale(1.161,1.027)"><text font-family='"Liberation Serif","DejaVu Serif",serif' font-size="25" fill="#000" text-anchor="middle"><tspan x="0.0">0</tspan><tspan x="13.6">.</tspan><tspan x="27.2">4</tspan></text></g>
<g transform="translate(871.67,116.34) scale(1.176,1.027)"><text font-family='"Liberation Serif","DejaVu Serif",serif' font-size="25" fill="#000" text-anchor="middle"><tspan x="0.0">0</tspan><tspan x="13.6">.</tspan><tspan x="27.2">5</tspan></text></g>
<g transform="translate(1036.19,475.4) scale(1.234,1.048)"><text font-family='"Liberation Serif","DejaVu Serif",serif' font-size="25" fill="#000">1</text></g>
<g transform="translate(1166.16,475.4) scale(1.18,1.048)"><text font-family='"Liberation Serif","DejaVu Serif",serif' font-size="25" fill="#000">2</text></g>
<g transform="translate(1294.65,475.14) scale(1.171,1.033)"><text font-family='"Liberation Serif","DejaVu Serif",serif' font-size="25" fill="#000">3</text></g>
<g transform="translate(1425.11,475.4) scale(0.939,1.048)"><text font-family='"Liberation Serif","DejaVu Serif",serif' font-size="25" fill="#000">4</text></g>
<g transform="translate(1552.18,475.14) scale(1.18,1.048)"><text font-family='"Liberation Serif","DejaVu Serif",serif' font-size="25" fill="#000">5</text></g>
<g transform="translate(903.86,60.6) scale(0.957,0.924)"><text font-family='"Liberation Serif","DejaVu Serif",serif' font-size="26" fill="#8c8c8c" font-style="italic">Y</text></g>
<g transform="translate(920.63,64.75) scale(1.243,0.956)"><text font-family='"Liberation Serif","DejaVu Serif",serif' font-size="19" fill="#8c8c8c" font-style="italic">i</text></g>
<g transform="translate(1146.01,116.55) scale(1.219,0.938)"><text font-family='"Liberation Serif","DejaVu Serif",serif' font-size="23" fill="#000" text-anchor="middle"><tspan x="0.0">q</tspan><tspan x="11.3">=</tspan><tspan x="22.6">1</tspan><tspan x="33.9">.</tspan><tspan x="45.2">1</tspan></text></g>
<g transform="translate(1231.99,319.5) scale(1.014,0.902)"><text font-family='"Liberation Serif","DejaVu Serif",serif' font-size="23" fill="#000">n</text></g>
<g transform="translate(1232.23,345.22) scale(1.098,0.923)"><text font-family='"Liberation Serif","DejaVu Serif",serif' font-size="23" fill="#000">p</text></g>
<g transform="translate(1502.77,109.29) scale(1.08,0.831)"><text font-family='"Liberation Serif","DejaVu Serif",serif' font-size="23" fill="#000">d</text></g>
<g transform="translate(1502.72,156.76) scale(1.116,0.967)"><text font-family='"Liberation Serif","DejaVu Serif",serif' font-size="23" fill="#000">u</text></g>
<g transform="translate(1374.56,470.02) scale(1.182,0.909)"><text font-family='"Liberation Serif","DejaVu Serif",serif' font-size="23" fill="#000">s</text></g>
<g transform="translate(1570.54,455.28) scale(1.057,0.887)"><text font-family='"Liberation Serif","DejaVu Serif",serif' font-size="28" fill="#8c8c8c" font-style="italic">ρ</text></g>
<g transform="translate(1586.65,461.5) scale(1.018,0.84)"><text font-family='"Liberation Serif","DejaVu Serif",serif' font-size="19" fill="#8c8c8c" font-style="italic">B</text></g>
<g transform="translate(1601.5,458.48) scale(1.267,1.075)"><text font-family='"Liberation Serif","DejaVu Serif",serif' font-size="27" fill="#000">/</text></g>
<g transform="translate(1616.72,455.28) scale(0.962,0.887)"><text font-family='"Liberation Serif","DejaVu Serif",serif' font-size="28" fill="#8c8c8c" font-style="italic">ρ</text></g>
<g transform="translate(1632.64,461.65) scale(1.012,1.012)"><text font-family='"Liberation Serif","DejaVu Serif",serif' font-size="19" fill="#8c8c8c">0</text></g>
<g transform="translate(1169.68,395.5) scale(0.727,0.867)"><text font-family='"Liberation Serif","DejaVu Serif",serif' font-size="23" fill="#8c8c8c" font-style="italic">K</text></g>
<g transform="translate(1183.12,387.86) scale(0.833,0.84)"><text font-family='"Liberation Serif","DejaVu Serif",serif' font-size="16" fill="#8c8c8c">+</text></g>
<g transform="translate(1053.49,327.66) scale(1.02,0.978)"><text font-family='"Liberation Serif","DejaVu Serif",serif' font-size="24" fill="#8c8c8c" font-style="italic">π</text></g>
<g transform="translate(1066.58,319.34) scale(0.9,0.827)"><text font-family='"Liberation Serif","DejaVu Serif",serif' font-size="16" fill="#8c8c8c">+</text></g>
<g transform="translate(1071.63,279.76) scale(1.069,0.978)"><text font-family='"Liberation Serif","DejaVu Serif",serif' font-size="24" fill="#8c8c8c" font-style="italic">π</text></g>
<g transform="translate(1084.74,272.27) scale(1.28,1.0)"><text font-family='"Liberation Serif","DejaVu Serif",serif' font-size="16" fill="#8c8c8c">−</text></g>
<g transform="translate(1045.79,396) scale(0.758,0.873)"><text font-family='"Liberation Serif","DejaVu Serif",serif' font-size="23" fill="#8c8c8c" font-style="italic">K</text></g>
<g transform="translate(1060.04,388.48) scale(1.28,1.0)"><text font-family='"Liberation Serif","DejaVu Serif",serif' font-size="16" fill="#8c8c8c">−</text></g>
<g transform="translate(929.33,352.75) scale(0.923,0.836)"><text font-family='"Liberation Serif","DejaVu Serif",serif' font-size="23" fill="#8c8c8c">Δ</text></g>
<g transform="translate(942.69,345.98) scale(1.28,1.0)"><text font-family='"Liberation Serif","DejaVu Serif",serif' font-size="16" fill="#8c8c8c">−</text></g>
<g transform="translate(924.64,395.6) scale(0.962,0.859)"><text font-family='"Liberation Serif","DejaVu Serif",serif' font-size="23" fill="#8c8c8c">Δ</text></g>
<g transform="translate(939.96,388.28) scale(0.853,0.92)"><text font-family='"Liberation Serif","DejaVu Serif",serif' font-size="16" fill="#8c8c8c">+</text></g>
<g transform="translate(949.86,388.28) scale(0.853,0.92)"><text font-family='"Liberation Serif","DejaVu Serif",serif' font-size="16" fill="#8c8c8c">+</text></g>
<g transform="translate(960.4,414.6) scale(0.809,0.833)"><text font-family='"Liberation Serif","DejaVu Serif",serif' font-size="23" fill="#1e1e1e">Λ</text></g>
<g transform="translate(934.96,432.75) scale(1.044,0.85)"><text font-family='"Liberation Serif","DejaVu Serif",serif' font-size="23" fill="#1e1e1e">Σ</text></g>
<g transform="translate(934.8,448.75) scale(0.959,0.79)"><text font-family='"Liberation Serif","DejaVu Serif",serif' font-size="23" fill="#1e1e1e">Ξ</text></g>
</svg>
</body></html>
